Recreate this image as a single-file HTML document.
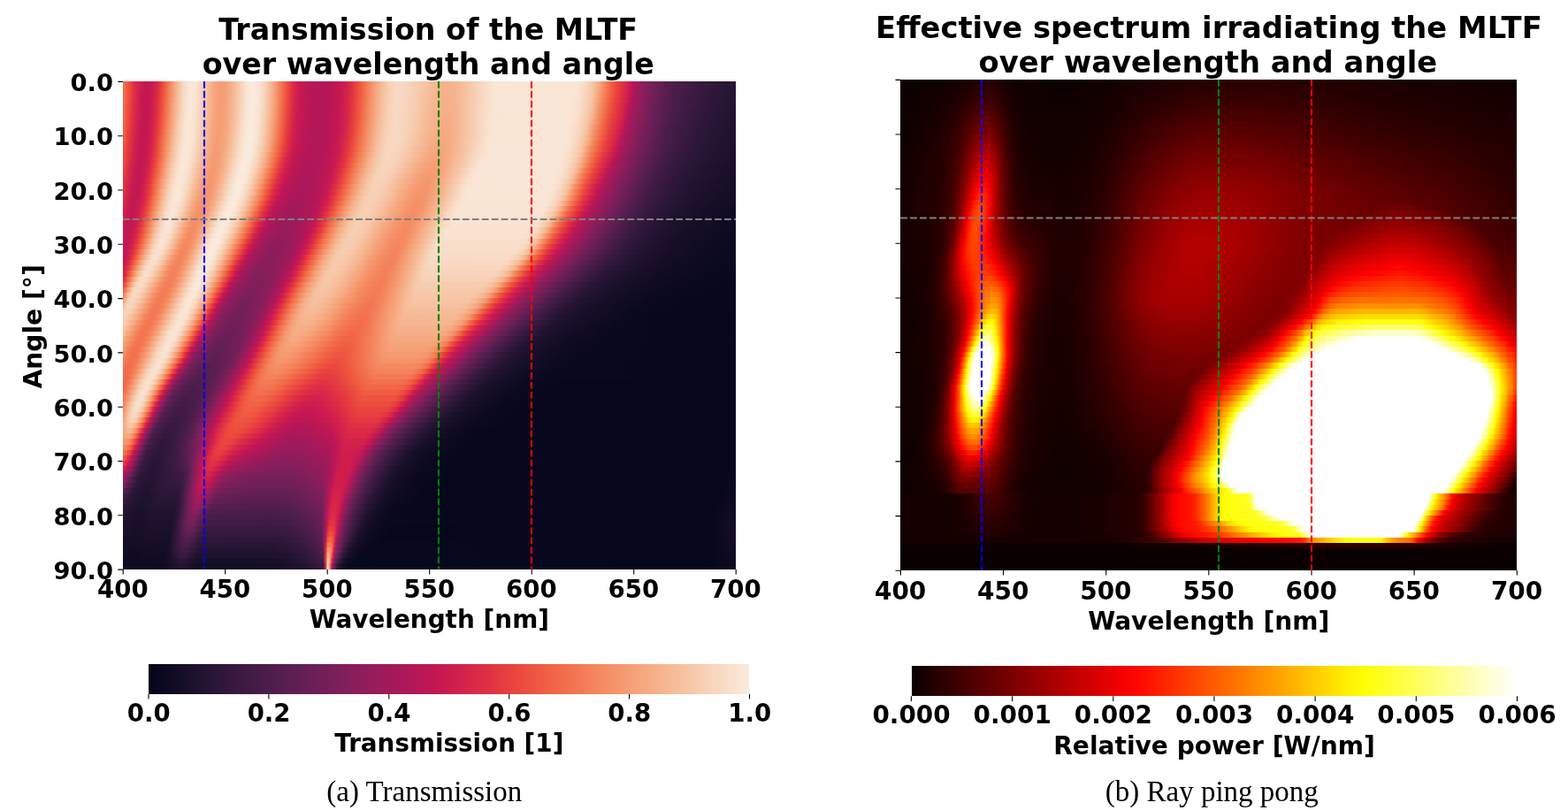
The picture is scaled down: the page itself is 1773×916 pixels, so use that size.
<!DOCTYPE html>
<html lang="en">
<head>
<meta charset="utf-8">
<title>MLTF transmission and effective spectrum</title>
<style>
html,body{margin:0;padding:0;background:#fff}
body{width:1773px;height:916px;position:relative;overflow:hidden;font-family:"DejaVu Sans","Liberation Sans",sans-serif}
.hm{position:absolute;overflow:hidden}
.r{position:absolute;left:0;width:100%}
.cb{position:absolute}
svg{position:absolute;left:0;top:0}
text{font-family:"DejaVu Sans","Liberation Sans",sans-serif;font-weight:bold;fill:#000}
.t{font-size:33.3px;text-anchor:middle}
.t2{font-size:33.8px;text-anchor:middle}
.l2{font-size:28.1px;text-anchor:middle}
.k2{font-size:27.9px;text-anchor:middle}
.l{font-size:27.8px;text-anchor:middle}
.k{font-size:27.6px;text-anchor:middle}
.ky{font-size:27.3px;text-anchor:end}
.la{font-size:28.15px;text-anchor:middle}
.c{font-family:"Liberation Serif","DejaVu Serif",serif;font-weight:normal;font-size:33px;text-anchor:middle}
</style>
</head>
<body>

<div class="hm" style="left:139px;top:0;width:693px;height:916px">
<div class="r" style="top:92px;height:6px;background:linear-gradient(90deg,#f26f4c 0.2%,#f16244 0.5%,#eb483e 1.2%,#e03143 1.8%,#d3214b 2.5%,#c51852 3.5%,#c51852 4.5%,#ca1a50 4.8%,#d72549 5.5%,#e63b40 6.1%,#ec4a3e 6.5%,#ef5a41 6.8%,#f47c55 7.5%,#f6b691 8.8%,#f7cdb1 9.5%,#f9ddc9 10.1%,#f9e3d2 10.5%,#fae8d8 11.1%,#f9e5d4 11.8%,#f8dcc7 12.5%,#f6b893 14.1%,#f6ab83 14.8%,#f6a077 15.4%,#f69c73 16.1%,#f6a178 16.8%,#f6ab83 17.4%,#f6bf9d 18.4%,#f8d6be 19.4%,#f9e2d0 20.1%,#fae9da 20.8%,#faebdd 21.4%,#f9e2d0 22.4%,#f7cdb1 23.4%,#f6a37a 24.8%,#f47a54 25.7%,#f05e42 26.4%,#ed503e 26.7%,#e9423e 27.1%,#dd2c45 27.7%,#d11f4c 28.4%,#c51852 29.1%,#b51657 31.1%,#b21758 32.1%,#b51657 33.4%,#c41753 35.4%,#cb1b4f 36%,#db2946 37%,#e9423e 38%,#ec4c3e 38.4%,#f16244 39%,#f5966c 40.7%,#f6a880 41.4%,#f6be9b 42.4%,#f7cfb3 43.4%,#f8d9c3 44.7%,#f8d4bc 46.7%,#f6b995 50.7%,#f6b38d 52%,#f6b18b 53.3%,#f6b893 54.7%,#f9ddc9 59.3%,#f9e5d4 60.6%,#fae6d6 73.6%,#f9dfcb 74.9%,#f8d7c0 75.6%,#f6c19f 76.9%,#f6ad85 77.6%,#f4865e 78.6%,#f3714d 79.2%,#ef5a41 79.9%,#ed503e 80.2%,#e73d3f 80.9%,#dc2b46 81.9%,#cf1e4d 82.6%,#c51852 82.9%,#b71657 83.2%,#a11a5b 83.9%,#8c1d5b 84.9%,#691f55 87.2%,#4c1d4b 89.9%,#381a40 93.9%,#251433 99.8%)"></div>
<div class="r" style="top:98px;height:6px;background:linear-gradient(90deg,#f26d4b 0.2%,#ee543f 0.8%,#eb483e 1.2%,#e63b40 1.5%,#d92847 2.2%,#c81951 3.2%,#c21753 3.8%,#c41753 4.2%,#d11f4c 5.1%,#df2f44 5.8%,#ec4c3e 6.5%,#f05c42 6.8%,#f26d4b 7.1%,#f58d64 7.8%,#f6b893 8.8%,#f8d6be 9.8%,#f9e3d2 10.5%,#fae8d8 11.1%,#f9e5d4 11.8%,#f7cfb3 13.1%,#f6bf9d 13.8%,#f6a981 14.8%,#f6a077 15.4%,#f69c73 16.1%,#f6a178 16.8%,#f6ab83 17.4%,#f7c9aa 18.8%,#f9e2d0 20.1%,#fae9da 20.8%,#faebdd 21.4%,#f9e2d0 22.4%,#f8d4bc 23.1%,#f6b995 24.1%,#f5966c 25.1%,#f26b49 26.1%,#ed503e 26.7%,#e9423e 27.1%,#dd2c45 27.7%,#ca1a50 28.7%,#bf1654 29.7%,#b51657 31.1%,#b21758 32.1%,#b51657 33.4%,#c41753 35.4%,#d11f4c 36.4%,#db2946 37%,#e9423e 38%,#ef5840 38.7%,#f37852 39.7%,#f6a077 41%,#f6b893 42%,#f7cfb3 43.4%,#f8d9c3 44.7%,#f8d7c0 45.7%,#f7cfb3 47.7%,#f6bb97 50.3%,#f6b18b 52.3%,#f6b18b 53.3%,#f6b893 54.7%,#f9ddc9 59.3%,#f9e5d4 60.6%,#fae6d6 73.3%,#f9e5d4 73.9%,#f8dac5 75.2%,#f8d1b8 75.9%,#f7c6a6 76.6%,#f6a981 77.6%,#f4835b 78.6%,#f16244 79.6%,#ef5840 79.9%,#ea443e 80.6%,#e23442 81.2%,#d5224a 82.2%,#c21753 82.9%,#a8185a 83.6%,#8b1d5b 84.9%,#641f54 87.5%,#4c1d4b 89.9%,#35193e 94.5%,#251433 99.8%)"></div>
<div class="r" style="top:104px;height:6px;background:linear-gradient(90deg,#f26d4b 0.2%,#f06043 0.5%,#eb463e 1.2%,#e53940 1.5%,#d82748 2.2%,#cd1c4e 2.8%,#c41753 3.5%,#c41753 4.2%,#cb1b4f 4.8%,#d92847 5.5%,#e03143 5.8%,#e83f3f 6.1%,#ed4e3e 6.5%,#f05e42 6.8%,#f47f58 7.5%,#f6ab83 8.5%,#f6b995 8.8%,#f7cfb3 9.5%,#f8d7c0 9.8%,#f9e3d2 10.5%,#fae8d8 11.1%,#f9e0cd 12.1%,#f8d4bc 12.8%,#f6be9b 13.8%,#f6a981 14.8%,#f6a077 15.4%,#f69c73 16.1%,#f6a178 16.8%,#f6ab83 17.4%,#f6b995 18.1%,#f9ddc9 19.8%,#f9e2d0 20.1%,#fae9da 20.8%,#faebdd 21.4%,#fae6d6 22.1%,#f8dac5 22.8%,#f7ccaf 23.4%,#f6ad85 24.4%,#f4865e 25.4%,#f26b49 26.1%,#ed4e3e 26.7%,#e8403e 27.1%,#dc2b46 27.7%,#ca1a50 28.7%,#b71657 30.7%,#b21758 32.1%,#b51657 33.4%,#c41753 35.4%,#d62449 36.7%,#e53940 37.7%,#ef5840 38.7%,#f4835b 40%,#f6a077 41%,#f6b893 42%,#f7caac 43%,#f8d3ba 43.7%,#f8d6be 44%,#f8d9c3 44.7%,#f8d7c0 45.7%,#f8d1b8 47%,#f6c19f 49.3%,#f6b691 51%,#f6b089 53%,#f6b18b 53.7%,#f6b893 54.7%,#f9ddc9 59.3%,#fae6d6 61%,#fae6d6 73.3%,#f9e2d0 74.3%,#f8d9c3 75.2%,#f7c4a4 76.6%,#f6b18b 77.2%,#f5976e 77.9%,#f47f58 78.6%,#f05e42 79.6%,#e8403e 80.6%,#d82748 81.9%,#ca1a50 82.6%,#bc1656 82.9%,#a4195b 83.6%,#901d5b 84.6%,#681f55 87.2%,#4e1d4b 89.5%,#431c46 91.2%,#35193e 94.2%,#241432 99.8%)"></div>
<div class="r" style="top:110px;height:6px;background:linear-gradient(90deg,#f26b49 0.2%,#ee523f 0.8%,#ea443e 1.2%,#de2e44 1.8%,#cb1b4f 2.8%,#c21753 3.8%,#c41753 4.2%,#cd1c4e 4.8%,#db2946 5.5%,#e8403e 6.1%,#ed503e 6.5%,#f16244 6.8%,#f3714d 7.1%,#f59067 7.8%,#f6bb97 8.8%,#f7d0b5 9.5%,#f9dfcb 10.1%,#f9e3d2 10.5%,#fae8d8 11.1%,#f9e3d2 11.8%,#f8dac5 12.5%,#f6b691 14.1%,#f6a981 14.8%,#f6a37a 15.1%,#f69c73 16.1%,#f6a178 16.8%,#f6ad85 17.4%,#f9e3d2 20.1%,#faebdd 20.8%,#faebdd 21.4%,#fae9da 21.8%,#f8dac5 22.8%,#f6c19f 23.8%,#f6a077 24.8%,#f4845d 25.4%,#f26948 26.1%,#ef5a41 26.4%,#ec4c3e 26.7%,#e23442 27.4%,#d5224a 28.1%,#ca1a50 28.7%,#bc1656 30.1%,#b21758 31.7%,#b51657 33.4%,#bf1654 34.7%,#c81951 35.7%,#d72549 36.7%,#ea443e 38%,#ef5a41 38.7%,#f47a54 39.7%,#f59970 40.7%,#f6b995 42%,#f7c6a6 42.7%,#f8d3ba 43.7%,#f8d6be 44%,#f8d9c3 44.7%,#f8d7c0 45.7%,#f8d1b8 47%,#f6b995 50.3%,#f6b089 52.3%,#f6b089 53.3%,#f6b893 54.7%,#f9e0cd 59.6%,#fae6d6 61%,#fae6d6 73.3%,#f9dfcb 74.6%,#f8d7c0 75.2%,#f8d3ba 75.6%,#f6c19f 76.6%,#f6ad85 77.2%,#f4865e 78.2%,#f3714d 78.9%,#ef5a41 79.6%,#eb463e 80.2%,#db2946 81.6%,#d62449 81.9%,#c41753 82.6%,#ab185a 83.2%,#931c5b 84.2%,#7f1e5a 85.5%,#661f54 87.2%,#531e4d 88.9%,#461c48 90.5%,#3a1a41 92.9%,#2b1637 96.8%,#241432 99.8%)"></div>
<div class="r" style="top:116px;height:7px;background:linear-gradient(90deg,#f26948 0.2%,#ed503e 0.8%,#e9423e 1.2%,#dd2c45 1.8%,#d72549 2.2%,#cb1b4f 2.8%,#c41753 3.5%,#c21753 3.8%,#c81951 4.5%,#d5224a 5.1%,#dc2b46 5.5%,#e9423e 6.1%,#ee523f 6.5%,#f16445 6.8%,#f4845d 7.5%,#f6a37a 8.1%,#f6bc99 8.8%,#f8d1b8 9.5%,#f9e0cd 10.1%,#f9e5d4 10.5%,#fae8d8 11.1%,#f9e3d2 11.8%,#f8d3ba 12.8%,#f6bc99 13.8%,#f6ae87 14.5%,#f6a37a 15.1%,#f69c73 15.8%,#f69c73 16.1%,#f6ad85 17.4%,#f6bb97 18.1%,#f8d1b8 19.1%,#f9dfcb 19.8%,#f9e3d2 20.1%,#faebdd 20.8%,#faebdd 21.4%,#f9e5d4 22.1%,#f8d9c3 22.8%,#f7c9aa 23.4%,#f69e75 24.8%,#f4835b 25.4%,#f26747 26.1%,#ef5840 26.4%,#e73d3f 27.1%,#db2946 27.7%,#c81951 28.7%,#b91657 30.4%,#b21758 31.7%,#b21758 32.4%,#bf1654 34.7%,#ce1d4e 36%,#dd2c45 37%,#eb463e 38%,#f05c42 38.7%,#f3734e 39.4%,#f69b71 40.7%,#f6bb97 42%,#f7ccaf 43%,#f8d6be 44%,#f8d9c3 44.7%,#f8d7c0 45.7%,#f7cdb1 47.7%,#f6bf9d 49.3%,#f6b691 50.7%,#f6b089 52%,#f6b089 53.3%,#f6b48f 54.3%,#f8d9c3 58.6%,#f9e2d0 60%,#fae6d6 61%,#fae6d6 72.9%,#f9ddc9 74.6%,#f7d0b5 75.6%,#f6be9b 76.6%,#f58d64 77.9%,#f37651 78.6%,#f06043 79.2%,#e8403e 80.2%,#d82748 81.6%,#ca1a50 82.2%,#bd1655 82.6%,#a6195a 83.2%,#971c5b 83.9%,#7b1f59 85.5%,#5c1e51 87.9%,#491d49 89.9%,#31183b 94.9%,#221331 99.8%)"></div>
<div class="r" style="top:123px;height:6px;background:linear-gradient(90deg,#f26747 0.2%,#ef5a41 0.5%,#e8403e 1.2%,#dc2b46 1.8%,#cf1e4d 2.5%,#c51852 3.2%,#c21753 3.8%,#ca1a50 4.5%,#cf1e4d 4.8%,#dd2c45 5.5%,#eb463e 6.1%,#ef5640 6.5%,#f26747 6.8%,#f5966c 7.8%,#f6b38d 8.5%,#f8d3ba 9.5%,#f8dac5 9.8%,#f9e5d4 10.5%,#fae8d8 11.1%,#f9e2d0 11.8%,#f8d1b8 12.8%,#f6bb97 13.8%,#f6ad85 14.5%,#f69e75 15.4%,#f69c73 15.8%,#f6a37a 16.8%,#f6ae87 17.4%,#f6bc99 18.1%,#f8d3ba 19.1%,#f9e5d4 20.1%,#faebdd 20.8%,#faebdd 21.4%,#f9dfcb 22.4%,#f7d0b5 23.1%,#f6be9b 23.8%,#f69b71 24.8%,#f3734e 25.7%,#f16445 26.1%,#ef5640 26.4%,#e63b40 27.1%,#d92847 27.7%,#cd1c4e 28.4%,#c81951 28.7%,#bd1655 29.7%,#b21758 31.7%,#b51657 33.1%,#c21753 35%,#ca1a50 35.7%,#d82748 36.7%,#eb483e 38%,#f05e42 38.7%,#f58a61 40%,#f6ad85 41.4%,#f7c2a2 42.4%,#f7cdb1 43%,#f8d1b8 43.4%,#f8d6be 44%,#f8d9c3 45%,#f8d4bc 46.3%,#f7cfb3 47.3%,#f6c19f 49%,#f6b38d 51%,#f6ae87 53%,#f6b48f 54.3%,#f7c4a4 56%,#f9e5d4 60.3%,#fae6d6 72.9%,#f9e2d0 73.9%,#f8dcc7 74.6%,#f7c9aa 75.9%,#f6b995 76.6%,#f6ad85 76.9%,#f4865e 77.9%,#f3714d 78.6%,#ef5a41 79.2%,#eb463e 79.9%,#db2946 81.2%,#ce1d4e 81.9%,#c41753 82.2%,#ab185a 82.9%,#8e1d5b 84.2%,#701f57 86.2%,#541e4e 88.5%,#461c48 90.2%,#35193e 93.5%,#211330 99.8%)"></div>
<div class="r" style="top:129px;height:6px;background:linear-gradient(90deg,#f16646 0.2%,#ec4a3e 0.8%,#e13342 1.5%,#d5224a 2.2%,#c51852 3.2%,#c51852 4.2%,#ca1a50 4.5%,#d72549 5.1%,#de2e44 5.5%,#eb483e 6.1%,#f26948 6.8%,#f58a61 7.5%,#f6a880 8.1%,#f6c19f 8.8%,#f8d4bc 9.5%,#f9e2d0 10.1%,#fae8d8 10.8%,#fae8d8 11.1%,#f9e2d0 11.8%,#f7d0b5 12.8%,#f6c19f 13.5%,#f6ad85 14.5%,#f6a178 15.1%,#f69c73 15.8%,#f6a077 16.4%,#f6a981 17.1%,#f6b691 17.8%,#f8d4bc 19.1%,#f9e5d4 20.1%,#faebdd 20.8%,#faebdd 21.4%,#f9e3d2 22.1%,#f9ddc9 22.4%,#f7cfb3 23.1%,#f6bc99 23.8%,#f59970 24.8%,#f47d57 25.4%,#f16244 26.1%,#ee523f 26.4%,#ea443e 26.7%,#de2e44 27.4%,#cb1b4f 28.4%,#ba1656 30.1%,#b21758 31.7%,#b51657 33.1%,#c41753 35%,#cf1e4d 36%,#d92847 36.7%,#e8403e 37.7%,#ef5640 38.4%,#f37651 39.4%,#f5966c 40.4%,#f6be9b 42%,#f7cfb3 43%,#f8d9c3 44.4%,#f8d1b8 46.7%,#f6b691 50.3%,#f6b089 51.3%,#f6ad85 52.7%,#f6ae87 53.3%,#f6b48f 54.3%,#f9dfcb 59.3%,#f9e5d4 60.3%,#fae6d6 72.6%,#f9e5d4 73.3%,#f8dac5 74.6%,#f7c6a6 75.9%,#f6b38d 76.6%,#f58d64 77.6%,#f37651 78.2%,#f06043 78.9%,#ee543f 79.2%,#e8403e 79.9%,#dd2c45 80.9%,#d11f4c 81.6%,#bc1656 82.2%,#a6195a 82.9%,#8c1d5b 84.2%,#691f55 86.5%,#491d49 89.5%,#35193e 93.2%,#221331 98.8%,#211330 99.8%)"></div>
<div class="r" style="top:135px;height:6px;background:linear-gradient(90deg,#f16445 0.2%,#eb483e 0.8%,#e03143 1.5%,#d3214b 2.2%,#c81951 2.8%,#c21753 3.5%,#cb1b4f 4.5%,#d82748 5.1%,#e03143 5.5%,#ec4c3e 6.1%,#f05e42 6.5%,#f26d4b 6.8%,#f58d64 7.5%,#f6b893 8.5%,#f7c4a4 8.8%,#f8d6be 9.5%,#f9e3d2 10.1%,#fae8d8 10.8%,#f9e5d4 11.5%,#f7cfb3 12.8%,#f6bf9d 13.5%,#f6ab83 14.5%,#f6a47c 14.8%,#f69c73 15.8%,#f6a47c 16.8%,#f6ab83 17.1%,#f6b893 17.8%,#f9e2d0 19.8%,#fae9da 20.4%,#faebdd 21.1%,#f9e2d0 22.1%,#f7cdb1 23.1%,#f7c4a4 23.4%,#f6a37a 24.4%,#f58860 25.1%,#f47c55 25.4%,#f05e42 26.1%,#ed503e 26.4%,#e33641 27.1%,#d62449 27.7%,#c51852 28.7%,#b51657 30.7%,#b21758 31.7%,#b51657 33.1%,#c41753 35%,#d11f4c 36%,#db2946 36.7%,#e9423e 37.7%,#ef5840 38.4%,#f26f4c 39%,#f58d64 40%,#f6a178 40.7%,#f6b995 41.7%,#f7c6a6 42.4%,#f8d6be 43.7%,#f8d9c3 44.7%,#f8d3ba 46.3%,#f6b48f 50.3%,#f6ad85 52%,#f6ad85 53%,#f6b18b 54%,#f7c9aa 56.6%,#f8dac5 58.6%,#f9e2d0 59.6%,#fae6d6 60.6%,#fae6d6 72.6%,#f9e2d0 73.6%,#f8dcc7 74.3%,#f7c9aa 75.6%,#f6ad85 76.6%,#f4865e 77.6%,#f26f4c 78.2%,#ef5840 78.9%,#e63b40 79.9%,#d92847 80.9%,#cd1c4e 81.6%,#c11754 81.9%,#aa185a 82.6%,#9a1b5b 83.2%,#8e1d5b 83.9%,#631f53 86.9%,#4b1d4a 89.2%,#401b44 90.9%,#2b1637 95.5%,#20122e 99.8%)"></div>
<div class="r" style="top:141px;height:6px;background:linear-gradient(90deg,#f06043 0.2%,#eb463e 0.8%,#df2f44 1.5%,#d2204c 2.2%,#c71951 2.8%,#c21753 3.5%,#c71951 4.2%,#d3214b 4.8%,#e13342 5.5%,#ed503e 6.1%,#f16244 6.5%,#f3714d 6.8%,#f59067 7.5%,#f6bb97 8.5%,#f7d0b5 9.1%,#f9dfcb 9.8%,#f9e3d2 10.1%,#fae8d8 10.8%,#f9e3d2 11.5%,#f8dac5 12.1%,#f6be9b 13.5%,#f6a981 14.5%,#f6a077 15.1%,#f69c73 15.8%,#f6a178 16.4%,#f6ab83 17.1%,#f6b995 17.8%,#f9ddc9 19.4%,#f9e2d0 19.8%,#fae9da 20.4%,#faebdd 21.1%,#fae6d6 21.8%,#f8dac5 22.4%,#f6c19f 23.4%,#f6a077 24.4%,#f59269 24.8%,#f26948 25.7%,#ef5a41 26.1%,#ec4c3e 26.4%,#e23442 27.1%,#d5224a 27.7%,#ca1a50 28.4%,#bc1656 29.7%,#b21758 31.4%,#b21758 32.1%,#bf1654 34.4%,#c81951 35.4%,#d72549 36.4%,#e73d3f 37.4%,#ed503e 38%,#f26747 38.7%,#f4865e 39.7%,#f69b71 40.4%,#f6bb97 41.7%,#f7ccaf 42.7%,#f8d4bc 43.4%,#f8d6be 43.7%,#f8d9c3 44.7%,#f8d4bc 46%,#f7ccaf 47.3%,#f6b38d 50.3%,#f6ab83 52%,#f6ab83 52.7%,#f6b18b 54%,#f9e0cd 59.3%,#fae6d6 60.6%,#fae6d6 72.3%,#f9e5d4 72.9%,#f8dac5 74.3%,#f7c4a4 75.6%,#f6b18b 76.2%,#f5976e 76.9%,#f47f58 77.6%,#f26747 78.2%,#f05e42 78.6%,#eb483e 79.2%,#e33641 79.9%,#d62449 80.9%,#c51852 81.6%,#b91657 81.9%,#a4195b 82.6%,#8b1d5b 83.9%,#641f54 86.5%,#4e1d4b 88.5%,#401b44 90.5%,#2b1637 95.2%,#20122e 99.8%)"></div>
<div class="r" style="top:147px;height:6px;background:linear-gradient(90deg,#f05e42 0.2%,#e9423e 0.8%,#dd2c45 1.5%,#d11f4c 2.2%,#c71951 2.8%,#c21753 3.5%,#c81951 4.2%,#d5224a 4.8%,#dc2b46 5.1%,#ea443e 5.8%,#ee543f 6.1%,#f16646 6.5%,#f5966c 7.5%,#f6a37a 7.8%,#f6be9b 8.5%,#f8dac5 9.5%,#f9e5d4 10.1%,#fae8d8 10.5%,#fae6d6 11.1%,#f8d9c3 12.1%,#f6b48f 13.8%,#f6ae87 14.1%,#f6a37a 14.8%,#f69c73 15.8%,#f69e75 16.1%,#f6ad85 17.1%,#f6bb97 17.8%,#f8d1b8 18.8%,#f9e3d2 19.8%,#faebdd 20.4%,#faebdd 21.1%,#f9e5d4 21.8%,#f8d9c3 22.4%,#f7c9aa 23.1%,#f6a981 24.1%,#f58f66 24.8%,#f16646 25.7%,#ef5840 26.1%,#e63b40 26.7%,#e03143 27.1%,#d3214b 27.7%,#c81951 28.4%,#bd1655 29.4%,#b21758 31.4%,#b51657 32.7%,#c21753 34.7%,#ce1d4e 35.7%,#d82748 36.4%,#e33641 37%,#eb483e 37.7%,#f06043 38.4%,#f47f58 39.4%,#f5946b 40%,#f6b691 41.4%,#f7c9aa 42.4%,#f8d1b8 43%,#f8d9c3 44%,#f8d1b8 46.3%,#f6b691 49.7%,#f6ae87 51%,#f6a981 52.3%,#f6ae87 53.7%,#f9e5d4 60%,#fae6d6 72.3%,#f9e2d0 73.3%,#f8dcc7 73.9%,#f8d3ba 74.6%,#f6c19f 75.6%,#f6ab83 76.2%,#f4835b 77.2%,#f16244 78.2%,#ec4c3e 78.9%,#e8403e 79.2%,#dd2c45 80.2%,#d11f4c 80.9%,#bd1655 81.6%,#a8185a 82.2%,#931c5b 83.2%,#6b1f56 85.9%,#4c1d4b 88.5%,#3d1a42 90.9%,#2b1637 94.9%,#1e122d 99.8%)"></div>
<div class="r" style="top:153px;height:6px;background:linear-gradient(90deg,#ef5a41 0.2%,#e8403e 0.8%,#e23442 1.2%,#cf1e4d 2.2%,#c51852 2.8%,#c41753 3.2%,#c51852 3.8%,#ca1a50 4.2%,#d62449 4.8%,#de2e44 5.1%,#eb483e 5.8%,#ef5840 6.1%,#f47a54 6.8%,#f6a880 7.8%,#f7ccaf 8.8%,#f8dcc7 9.5%,#f9e2d0 9.8%,#fae8d8 10.5%,#fae8d8 10.8%,#f9e2d0 11.5%,#f8d7c0 12.1%,#f6ad85 14.1%,#f6a67e 14.5%,#f69c73 15.4%,#f6a37a 16.4%,#f6ae87 17.1%,#f6bc99 17.8%,#f8dac5 19.1%,#f9e5d4 19.8%,#faebdd 20.4%,#faebdd 21.1%,#f9e3d2 21.8%,#f8d7c0 22.4%,#f6bc99 23.4%,#f6a67e 24.1%,#f47d57 25.1%,#f16244 25.7%,#ee523f 26.1%,#ea443e 26.4%,#de2e44 27.1%,#d11f4c 27.7%,#cb1b4f 28.1%,#c21753 28.7%,#ba1656 29.7%,#b21758 31.4%,#b51657 32.7%,#bd1655 34.1%,#c41753 34.7%,#d5224a 36%,#df2f44 36.7%,#e9423e 37.4%,#ef5840 38%,#f37852 39%,#f5976e 40%,#f6b18b 41%,#f7c6a6 42%,#f8d3ba 43%,#f8d6be 43.4%,#f8d9c3 44.4%,#f8d4bc 45.7%,#f7ccaf 47%,#f6bf9d 48.3%,#f6b18b 50%,#f6a981 51.7%,#f6a981 52.7%,#f6ae87 53.7%,#f9e2d0 59.3%,#fae6d6 60.3%,#fae6d6 71.9%,#f9e5d4 72.6%,#f9ddc9 73.6%,#f7d0b5 74.6%,#f7c4a4 75.2%,#f6b089 75.9%,#f5946b 76.6%,#f58860 76.9%,#f3714d 77.6%,#ef5a41 78.2%,#ed4e3e 78.6%,#e63b40 79.2%,#d3214b 80.6%,#c11754 81.2%,#ab185a 81.9%,#951c5b 82.9%,#711f57 85.2%,#541e4e 87.5%,#4b1d4a 88.5%,#381a40 91.5%,#2b1637 94.5%,#1e122d 99.8%)"></div>
<div class="r" style="top:159px;height:6px;background:linear-gradient(90deg,#ef5840 0.2%,#e73d3f 0.8%,#d3214b 1.8%,#c81951 2.5%,#c21753 3.2%,#cb1b4f 4.2%,#d11f4c 4.5%,#e03143 5.1%,#ec4c3e 5.8%,#f05e42 6.1%,#f47d57 6.8%,#f58f66 7.1%,#f69c73 7.5%,#f6b893 8.1%,#f7cfb3 8.8%,#f9e3d2 9.8%,#fae8d8 10.5%,#f9e0cd 11.5%,#f7cfb3 12.5%,#f6b893 13.5%,#f6ab83 14.1%,#f6a47c 14.5%,#f69c73 15.4%,#f6a077 16.1%,#f6a981 16.8%,#f6bf9d 17.8%,#f7cfb3 18.4%,#f9e2d0 19.4%,#fae9da 20.1%,#faebdd 20.8%,#f9e2d0 21.8%,#f7ccaf 22.8%,#f6ad85 23.8%,#f37852 25.1%,#f05c42 25.7%,#ed4e3e 26.1%,#e23442 26.7%,#d5224a 27.4%,#ca1a50 28.1%,#bc1656 29.4%,#b21758 31.1%,#b51657 32.7%,#bf1654 34.1%,#c81951 35%,#d72549 36%,#e13342 36.7%,#e73d3f 37%,#ed503e 37.7%,#f3734e 38.7%,#f6ad85 40.7%,#f7c2a2 41.7%,#f7cdb1 42.4%,#f8d1b8 42.7%,#f8d6be 43.4%,#f8d7c0 44.7%,#f8d3ba 45.7%,#f6ad85 50.3%,#f6a880 51.3%,#f6a880 52.7%,#f6b18b 54%,#f7c6a6 56%,#f7caac 56.6%,#f8d1b8 57.3%,#f9e5d4 59.6%,#fae6d6 71.9%,#f9e2d0 72.9%,#f9dfcb 73.3%,#f8d1b8 74.3%,#f7c6a6 74.9%,#f6b38d 75.6%,#f58b63 76.6%,#f3734e 77.2%,#f05c42 77.9%,#ed503e 78.2%,#e73d3f 78.9%,#cd1c4e 80.6%,#c21753 80.9%,#a4195b 81.9%,#971c5b 82.6%,#7d1f5a 84.2%,#691f55 85.5%,#4e1d4b 87.9%,#381a40 91.2%,#2b1637 94.2%,#1d112c 99.8%)"></div>
<div class="r" style="top:165px;height:7px;background:linear-gradient(90deg,#ee543f 0.2%,#e53940 0.8%,#d2204c 1.8%,#c71951 2.5%,#c21753 3.2%,#c71951 3.8%,#cd1c4e 4.2%,#db2946 4.8%,#e23442 5.1%,#e9423e 5.5%,#f16244 6.1%,#f4835b 6.8%,#f5946b 7.1%,#f6a178 7.5%,#f6bc99 8.1%,#f8d1b8 8.8%,#f8d9c3 9.1%,#f9e0cd 9.5%,#fae8d8 10.1%,#f9e3d2 11.1%,#f8d9c3 11.8%,#f6ae87 13.8%,#f69e75 14.8%,#f69c73 15.1%,#f6a178 16.1%,#f6ad85 16.8%,#f6b38d 17.1%,#f9dfcb 19.1%,#fae8d8 19.8%,#faebdd 20.1%,#faebdd 20.8%,#f9e5d4 21.4%,#f7d0b5 22.4%,#f6be9b 23.1%,#f6a880 23.8%,#f58d64 24.4%,#f3714d 25.1%,#ee543f 25.7%,#e53940 26.4%,#d2204c 27.4%,#cb1b4f 27.7%,#bf1654 28.7%,#b21758 30.7%,#b21758 31.7%,#ba1656 33.4%,#ca1a50 35%,#d5224a 35.7%,#df2f44 36.4%,#e8403e 37%,#ef5640 37.7%,#f37852 38.7%,#f6a981 40.4%,#f7c6a6 41.7%,#f8d3ba 42.7%,#f8d6be 43%,#f8d7c0 44%,#f8d3ba 45.3%,#f6ae87 49.7%,#f6a981 50.3%,#f6a47c 52%,#f6a981 53%,#f6b995 54.7%,#f8d6be 57.6%,#f8dac5 58%,#f9e2d0 59%,#fae6d6 60%,#fae6d6 71.6%,#f9e2d0 72.6%,#f8dcc7 73.3%,#f8d3ba 73.9%,#f7c7a8 74.6%,#f6b691 75.2%,#f58d64 76.2%,#f37450 76.9%,#f05e42 77.6%,#e73d3f 78.6%,#d5224a 79.9%,#c21753 80.6%,#ad1759 81.2%,#8c1d5b 82.9%,#611f53 85.9%,#461c48 88.5%,#31183b 92.2%,#281535 94.5%,#1b112b 99.8%)"></div>
<div class="r" style="top:172px;height:6px;background:linear-gradient(90deg,#ed4e3e 0.2%,#e9423e 0.5%,#dd2c45 1.2%,#cf1e4d 1.8%,#c51852 2.5%,#c21753 3.2%,#c81951 3.8%,#cf1e4d 4.2%,#dd2c45 4.8%,#eb463e 5.5%,#ef5840 5.8%,#f26948 6.1%,#f58a61 6.8%,#f6a880 7.5%,#f6c19f 8.1%,#f7ccaf 8.5%,#f8dcc7 9.1%,#fae6d6 9.8%,#fae8d8 10.1%,#f9e5d4 10.8%,#f8dcc7 11.5%,#f6bf9d 12.8%,#f6ab83 13.8%,#f69c73 14.8%,#f69b71 15.1%,#f69e75 15.8%,#f6a880 16.4%,#f6be9b 17.4%,#f8dcc7 18.8%,#fae6d6 19.4%,#faebdd 20.1%,#faebdd 20.4%,#fae6d6 21.1%,#f9e2d0 21.4%,#f8d4bc 22.1%,#f6b893 23.1%,#f59269 24.1%,#f37651 24.8%,#ef5a41 25.4%,#e73d3f 26.1%,#d3214b 27.1%,#c81951 27.7%,#bd1655 28.7%,#b51657 29.7%,#b01759 31.4%,#bd1655 33.7%,#c81951 34.7%,#d2204c 35.4%,#dd2c45 36%,#e73d3f 36.7%,#ee523f 37.4%,#f26948 38%,#f47f58 38.7%,#f5946b 39.4%,#f6b691 40.7%,#f7c4a4 41.4%,#f8d1b8 42.4%,#f8d6be 43%,#f8d7c0 43.4%,#f8d1b8 45%,#f7c9aa 46.3%,#f6ad85 49.3%,#f6a47c 50.7%,#f6a37a 51.7%,#f6a47c 52.3%,#f6ad85 53.3%,#f7cfb3 56.6%,#f9ddc9 58%,#fae6d6 59.6%,#fae6d6 71.6%,#f9ddc9 72.9%,#f8d4bc 73.6%,#f7c9aa 74.3%,#f6b893 74.9%,#f58f66 75.9%,#f26948 76.9%,#f05e42 77.2%,#ee523f 77.6%,#e73d3f 78.2%,#cd1c4e 79.9%,#c21753 80.2%,#ad1759 80.9%,#8c1d5b 82.6%,#611f53 85.5%,#461c48 88.2%,#35193e 90.9%,#2b1637 93.2%,#1a102a 99.8%)"></div>
<div class="r" style="top:178px;height:6px;background:linear-gradient(90deg,#ec4a3e 0.2%,#db2946 1.2%,#c81951 2.2%,#c21753 2.8%,#c71951 3.5%,#d11f4c 4.2%,#e03143 4.8%,#e73d3f 5.1%,#ed4e3e 5.5%,#f05e42 5.8%,#f47f58 6.5%,#f6a077 7.1%,#f6ad85 7.5%,#f6bb97 7.8%,#f8d9c3 8.8%,#f9e5d4 9.5%,#fae8d8 9.8%,#f9e3d2 10.8%,#f8d9c3 11.5%,#f6ad85 13.5%,#f6a178 14.1%,#f69b71 14.8%,#f69c73 15.4%,#f6ab83 16.4%,#f8d9c3 18.4%,#f9e5d4 19.1%,#faebdd 19.8%,#faebdd 20.4%,#fae8d8 20.8%,#f9ddc9 21.4%,#f7c6a6 22.4%,#f6b089 23.1%,#f58a61 24.1%,#f05e42 25.1%,#e8403e 25.7%,#d5224a 26.7%,#c81951 27.4%,#bd1655 28.4%,#b01759 30.4%,#b01759 31.4%,#bc1656 33.4%,#cb1b4f 34.7%,#d5224a 35.4%,#db2946 35.7%,#e53940 36.4%,#ed4e3e 37%,#f16646 37.7%,#f3714d 38%,#f6ad85 40%,#f7c2a2 41%,#f8d3ba 42.4%,#f8d6be 43%,#f8d3ba 44.4%,#f7caac 45.7%,#f6ab83 49%,#f6a178 50.7%,#f6a178 51.7%,#f6a47c 52.3%,#f6ab83 53%,#f7c2a2 55%,#f7cfb3 56.3%,#f8dac5 57.3%,#f9e5d4 58.6%,#fae6d6 71.3%,#f9e3d2 71.9%,#f8dac5 72.9%,#f7caac 73.9%,#f6b995 74.6%,#f69e75 75.2%,#f4835b 75.9%,#f26948 76.6%,#f05e42 76.9%,#eb463e 77.6%,#e23442 78.2%,#d2204c 79.2%,#c11754 79.9%,#b51657 80.2%,#a4195b 80.9%,#8c1d5b 82.2%,#611f53 85.2%,#4b1d4a 87.2%,#381a40 89.9%,#281535 93.5%,#1a102a 99.8%)"></div>
<div class="r" style="top:184px;height:6px;background:linear-gradient(90deg,#ea443e 0.2%,#d82748 1.2%,#d2204c 1.5%,#c71951 2.2%,#c21753 2.8%,#c81951 3.5%,#d3214b 4.2%,#e33641 4.8%,#ea443e 5.1%,#ee543f 5.5%,#f16646 5.8%,#f4865e 6.5%,#f6a67e 7.1%,#f7caac 8.1%,#f8d4bc 8.5%,#f9e2d0 9.1%,#fae8d8 9.8%,#f9e5d4 10.5%,#f8dcc7 11.1%,#f6a880 13.5%,#f69b71 14.5%,#f59970 14.8%,#f6a178 15.8%,#f6ae87 16.4%,#f6be9b 17.1%,#f8d6be 18.1%,#f9e2d0 18.8%,#faebdd 19.4%,#fae9da 20.4%,#f8d9c3 21.4%,#f7c9aa 22.1%,#f6a880 23.1%,#f58d64 23.8%,#f16244 24.8%,#ee523f 25.1%,#ea443e 25.4%,#dd2c45 26.1%,#d62449 26.4%,#c41753 27.4%,#bd1655 28.1%,#b01759 30.1%,#b01759 31.4%,#bd1655 33.4%,#c81951 34.4%,#d3214b 35%,#de2e44 35.7%,#e8403e 36.4%,#ef5840 37%,#f47a54 38%,#f6a37a 39.4%,#f6bb97 40.4%,#f7ccaf 41.4%,#f8d4bc 42.4%,#f8d4bc 43.4%,#f8d1b8 44%,#f7ccaf 45%,#f6ab83 48.3%,#f6a178 49.7%,#f69e75 51%,#f6a37a 52%,#f6a981 52.7%,#f6bb97 54%,#f7c7a8 55.3%,#f8dac5 57%,#f9e3d2 58%,#fae6d6 58.6%,#fae6d6 70.9%,#f9e2d0 71.9%,#f9dfcb 72.3%,#f8d6be 72.9%,#f7c2a2 73.9%,#f6ad85 74.6%,#f69e75 74.9%,#f4835b 75.6%,#f26948 76.2%,#f05e42 76.6%,#ed503e 76.9%,#e63b40 77.6%,#d11f4c 78.9%,#bd1655 79.6%,#a4195b 80.6%,#7b1f59 82.9%,#541e4e 85.9%,#481c48 87.2%,#381a40 89.5%,#2b1637 92.2%,#221331 94.9%,#180f29 99.8%)"></div>
<div class="r" style="top:190px;height:6px;background:linear-gradient(90deg,#e8403e 0.2%,#dc2b46 0.8%,#ca1a50 1.8%,#c51852 2.2%,#c21753 2.8%,#cf1e4d 3.8%,#de2e44 4.5%,#ec4a3e 5.1%,#f05c42 5.5%,#f47d57 6.1%,#f6ad85 7.1%,#f7c6a6 7.8%,#f8d9c3 8.5%,#f9e5d4 9.1%,#fae8d8 9.5%,#fae6d6 10.1%,#f9e2d0 10.5%,#f8d7c0 11.1%,#f6c19f 12.1%,#f6ab83 13.1%,#f69e75 13.8%,#f59970 14.5%,#f69b71 15.1%,#f6ab83 16.1%,#f8dac5 18.1%,#fae6d6 18.8%,#faebdd 19.4%,#faebdd 19.8%,#fae6d6 20.4%,#f8d3ba 21.4%,#f6b691 22.4%,#f69c73 23.1%,#f3734e 24.1%,#ee543f 24.8%,#e53940 25.4%,#d72549 26.1%,#ca1a50 26.7%,#bd1655 27.7%,#b01759 29.4%,#af1759 31.1%,#bc1656 33.1%,#c71951 34.1%,#d2204c 34.7%,#dd2c45 35.4%,#e83f3f 36%,#ef5640 36.7%,#f37852 37.7%,#f6a178 39%,#f6b995 40%,#f7cfb3 41.4%,#f8d3ba 42%,#f8d3ba 43%,#f7cfb3 44%,#f6a37a 48.7%,#f69c73 50%,#f69c73 51%,#f6a47c 52%,#f6ad85 52.7%,#f7ccaf 55.3%,#f8dcc7 56.6%,#f9e2d0 57.3%,#fae6d6 58.3%,#fae6d6 70.6%,#f9e2d0 71.6%,#f9dfcb 71.9%,#f8d6be 72.6%,#f7c4a4 73.6%,#f6ad85 74.3%,#f58f66 74.9%,#f26747 75.9%,#ed4e3e 76.6%,#ea443e 76.9%,#e03143 77.6%,#d62449 78.2%,#c51852 78.9%,#aa185a 79.9%,#951c5b 80.9%,#7b1f59 82.6%,#541e4e 85.5%,#451c47 87.2%,#35193e 89.5%,#281535 92.5%,#170f28 99.8%)"></div>
<div class="r" style="top:196px;height:6px;background:linear-gradient(90deg,#e63b40 0.2%,#d3214b 1.2%,#c81951 1.8%,#c21753 2.5%,#c71951 3.2%,#d2204c 3.8%,#d92847 4.2%,#e9423e 4.8%,#ee523f 5.1%,#f16445 5.5%,#f5966c 6.5%,#f7ccaf 7.8%,#f9e3d2 8.8%,#fae8d8 9.5%,#f9e3d2 10.1%,#f8dac5 10.8%,#f6b38d 12.5%,#f6a47c 13.1%,#f5976e 14.1%,#f59970 14.8%,#f6a178 15.4%,#f6b893 16.4%,#f8d9c3 17.8%,#fae9da 18.8%,#faebdd 19.4%,#fae6d6 20.1%,#f9e2d0 20.4%,#f8d4bc 21.1%,#f6b893 22.1%,#f6ab83 22.4%,#f59269 23.1%,#f16646 24.1%,#ef5640 24.4%,#eb483e 24.8%,#e53940 25.1%,#d72549 25.7%,#ca1a50 26.4%,#bf1654 27.1%,#b01759 29.1%,#ad1759 30.4%,#b01759 31.4%,#bd1655 33.1%,#c51852 33.7%,#d11f4c 34.4%,#dc2b46 35%,#e73d3f 35.7%,#ee543f 36.4%,#f26b49 37%,#f4835b 37.7%,#f6a178 38.7%,#f6b995 39.7%,#f7c6a6 40.4%,#f7cfb3 41%,#f8d3ba 41.7%,#f8d3ba 42.4%,#f7cdb1 43.7%,#f6a37a 48%,#f69b71 49.3%,#f59970 50.3%,#f69c73 51%,#f6a880 52%,#f7c4a4 54.3%,#f9ddc9 56.3%,#f9e3d2 57%,#fae6d6 57.6%,#fae6d6 70.3%,#f9e2d0 71.3%,#f8dcc7 71.9%,#f8d1b8 72.6%,#f7c2a2 73.3%,#f6ad85 73.9%,#f58d64 74.6%,#f47f58 74.9%,#f16646 75.6%,#ec4c3e 76.2%,#e8403e 76.6%,#d3214b 77.9%,#c41753 78.6%,#a8185a 79.6%,#891e5b 81.2%,#5b1e51 84.6%,#461c48 86.5%,#381a40 88.5%,#281535 91.9%,#160e27 99.8%)"></div>
<div class="r" style="top:202px;height:6px;background:linear-gradient(90deg,#e33641 0.2%,#dd2c45 0.5%,#d11f4c 1.2%,#c41753 2.2%,#c41753 2.8%,#ce1d4e 3.5%,#d62449 3.8%,#e53940 4.5%,#eb483e 4.8%,#ef5a41 5.1%,#f47d57 5.8%,#f58f66 6.1%,#f6bb97 7.1%,#f8d9c3 8.1%,#f9e0cd 8.5%,#fae8d8 9.1%,#fae8d8 9.5%,#f9e2d0 10.1%,#f7cfb3 11.1%,#f6be9b 11.8%,#f6a67e 12.8%,#f69b71 13.5%,#f5966c 14.1%,#f69b71 14.8%,#f6ad85 15.8%,#f7cfb3 17.1%,#f9e3d2 18.1%,#faebdd 18.8%,#faebdd 19.4%,#fae8d8 19.8%,#f9e3d2 20.1%,#f8d6be 20.8%,#f6b995 21.8%,#f5946b 22.8%,#f37651 23.4%,#ef5840 24.1%,#eb483e 24.4%,#df2f44 25.1%,#ca1a50 26.1%,#bf1654 26.7%,#b01759 28.4%,#ab185a 30.1%,#b91657 32.4%,#c41753 33.4%,#ce1d4e 34.1%,#e03143 35%,#eb463e 35.7%,#f05e42 36.4%,#f58b63 37.7%,#f6a981 38.7%,#f7c6a6 40%,#f7d0b5 41%,#f8d1b8 42%,#f7ccaf 43.4%,#f6b48f 45.7%,#f6a178 47.7%,#f5976e 49.3%,#f5976e 50%,#f6a37a 51.3%,#f6b089 52.3%,#f7c9aa 54.3%,#f9e2d0 56.3%,#fae6d6 57.3%,#fae6d6 69.9%,#f9e5d4 70.6%,#f8dcc7 71.6%,#f7c2a2 72.9%,#f6b995 73.3%,#f58b63 74.3%,#f3714d 74.9%,#f16445 75.2%,#ec4a3e 75.9%,#e33641 76.6%,#d2204c 77.6%,#c11754 78.2%,#a6195a 79.2%,#981b5b 79.9%,#7f1e5a 81.6%,#5e1f52 83.9%,#431c46 86.5%,#35193e 88.5%,#251433 92.2%,#180f29 97.5%,#160e27 99.8%)"></div>
<div class="r" style="top:208px;height:6px;background:linear-gradient(90deg,#e13342 0.2%,#d5224a 0.8%,#c51852 1.8%,#c51852 2.8%,#d2204c 3.5%,#d92847 3.8%,#e8403e 4.5%,#ee523f 4.8%,#f16445 5.1%,#f4865e 5.8%,#f6a67e 6.5%,#f6c19f 7.1%,#f8d6be 7.8%,#f9ddc9 8.1%,#f9e3d2 8.5%,#fae8d8 9.1%,#f9e3d2 9.8%,#f8d7c0 10.5%,#f7c9aa 11.1%,#f6b893 11.8%,#f6a178 12.8%,#f69b71 13.1%,#f5966c 13.8%,#f5976e 14.5%,#f6a37a 15.1%,#f6bb97 16.1%,#f7cdb1 16.8%,#f8dcc7 17.4%,#faebdd 18.4%,#faebdd 19.1%,#fae8d8 19.4%,#f8d7c0 20.4%,#f7c6a6 21.1%,#f6a37a 22.1%,#f4865e 22.8%,#f26948 23.4%,#ef5a41 23.8%,#ec4a3e 24.1%,#df2f44 24.8%,#ca1a50 25.7%,#bd1655 26.4%,#ab185a 28.7%,#ab185a 30.1%,#bd1655 32.7%,#cd1c4e 33.7%,#df2f44 34.7%,#ea443e 35.4%,#ed503e 35.7%,#f05e42 36%,#f37450 36.7%,#f5966c 37.7%,#f6b18b 38.7%,#f7caac 40%,#f7d0b5 40.7%,#f8d1b8 41.4%,#f7cfb3 42.4%,#f6b893 45%,#f6a178 47%,#f5976e 48.3%,#f5966c 49.7%,#f6a178 51%,#f6c19f 53.3%,#f8dcc7 55.3%,#f9e5d4 56.3%,#fae6d6 69.9%,#f8dcc7 71.3%,#f7c2a2 72.6%,#f6b893 72.9%,#f58a61 73.9%,#f47c55 74.3%,#f16244 74.9%,#eb483e 75.6%,#e23442 76.2%,#cf1e4d 77.2%,#bd1655 77.9%,#a4195b 78.9%,#7d1f5a 81.2%,#511e4d 84.6%,#401b44 86.5%,#31183b 88.9%,#221331 92.5%,#140e26 99.8%)"></div>
<div class="r" style="top:214px;height:7px;background:linear-gradient(90deg,#de2e44 0.2%,#cb1b4f 1.2%,#c21753 2.2%,#c81951 2.8%,#d5224a 3.5%,#e53940 4.2%,#eb483e 4.5%,#ef5a41 4.8%,#f47d57 5.5%,#f6a077 6.1%,#f7c7a8 7.1%,#f8d1b8 7.5%,#f9e2d0 8.1%,#fae8d8 8.8%,#f9e5d4 9.5%,#f9e0cd 9.8%,#f7ccaf 10.8%,#f6b18b 11.8%,#f6a178 12.5%,#f5946b 13.5%,#f5966c 14.1%,#f6a077 14.8%,#f6b089 15.4%,#f6c19f 16.1%,#f8d3ba 16.8%,#fae6d6 17.8%,#faebdd 18.4%,#faebdd 18.8%,#f9e5d4 19.4%,#f7d0b5 20.4%,#f6bc99 21.1%,#f6a47c 21.8%,#f58860 22.4%,#f26948 23.1%,#ef5a41 23.4%,#ec4a3e 23.8%,#df2f44 24.4%,#d11f4c 25.1%,#bd1655 26.1%,#b01759 27.4%,#aa185a 28.7%,#aa185a 29.7%,#b51657 31.7%,#bc1656 32.4%,#cb1b4f 33.4%,#de2e44 34.4%,#e9423e 35%,#f05c42 35.7%,#f26747 36%,#f47f58 36.7%,#f5966c 37.4%,#f6b18b 38.4%,#f6bf9d 39%,#f7d0b5 40.4%,#f7d0b5 41.4%,#f7ccaf 42.4%,#f6c19f 43.7%,#f6b18b 45%,#f69c73 47%,#f5966c 48%,#f5946b 49.3%,#f5966c 49.7%,#f6a178 50.7%,#f6c19f 53%,#f9e0cd 55.3%,#fae6d6 56.3%,#fae6d6 69.3%,#f9e5d4 69.9%,#f8dac5 70.9%,#f7d0b5 71.6%,#f6c19f 72.3%,#f6a880 72.9%,#f58860 73.6%,#f47a54 73.9%,#f06043 74.6%,#ee523f 74.9%,#e63b40 75.6%,#d5224a 76.6%,#c51852 77.2%,#ab185a 78.2%,#8c1d5b 79.9%,#7d1f5a 80.9%,#5c1e51 83.2%,#421b45 85.9%,#34193d 87.9%,#251433 91.2%,#1b112b 94.9%,#130d25 99.8%)"></div>
<div class="r" style="top:221px;height:6px;background:linear-gradient(90deg,#dc2b46 0.2%,#d5224a 0.5%,#c51852 1.5%,#c51852 2.5%,#ca1a50 2.8%,#d82748 3.5%,#e8403e 4.2%,#ee523f 4.5%,#f16445 4.8%,#f37651 5.1%,#f5976e 5.8%,#f6b691 6.5%,#f7cfb3 7.1%,#f8d7c0 7.5%,#f9e5d4 8.1%,#fae8d8 8.5%,#fae8d8 8.8%,#f9e2d0 9.5%,#f7cdb1 10.5%,#f6b38d 11.5%,#f6a37a 12.1%,#f5976e 12.8%,#f59269 13.5%,#f69e75 14.5%,#f6bf9d 15.8%,#f8d9c3 16.8%,#f9e5d4 17.4%,#faebdd 18.1%,#faebdd 18.4%,#f9e5d4 19.1%,#f8d9c3 19.8%,#f7c7a8 20.4%,#f6b18b 21.1%,#f58860 22.1%,#f26948 22.8%,#ef5a41 23.1%,#ec4a3e 23.4%,#e63b40 23.8%,#d72549 24.4%,#c81951 25.1%,#bc1656 25.7%,#ab185a 27.7%,#a8185a 29.4%,#ba1656 32.1%,#c51852 32.7%,#d11f4c 33.4%,#d72549 33.7%,#e9423e 34.7%,#ed4e3e 35%,#f26747 35.7%,#f5966c 37%,#f6b18b 38%,#f7c6a6 39%,#f7cdb1 39.7%,#f7cfb3 40%,#f7d0b5 41%,#f7cdb1 41.7%,#f7c6a6 42.7%,#f6b089 44.7%,#f69b71 46.7%,#f59269 48%,#f59269 49%,#f69c73 50%,#f6ab83 51%,#f9ddc9 54.7%,#f9e3d2 55.3%,#fae6d6 56%,#fae6d6 68.9%,#f9e2d0 69.9%,#f8dac5 70.6%,#f7cfb3 71.3%,#f6bf9d 71.9%,#f6a37a 72.6%,#f4845d 73.3%,#f37651 73.6%,#f05c42 74.3%,#e9423e 74.9%,#df2f44 75.6%,#d2204c 76.2%,#c21753 76.9%,#b01759 77.6%,#951c5b 78.9%,#7b1f59 80.6%,#581e4f 83.2%,#431c46 85.2%,#31183b 87.9%,#251433 90.5%,#1b112b 94.2%,#130d25 99.8%)"></div>
<div class="r" style="top:227px;height:6px;background:linear-gradient(90deg,#d82748 0.2%,#cd1c4e 0.8%,#c71951 1.2%,#c21753 1.8%,#ce1d4e 2.8%,#d5224a 3.2%,#dd2c45 3.5%,#ec4a3e 4.2%,#f05c42 4.5%,#f26d4b 4.8%,#f59067 5.5%,#f6b089 6.1%,#f7caac 6.8%,#f8d4bc 7.1%,#f9e2d0 7.8%,#fae8d8 8.5%,#fae6d6 8.8%,#f9ddc9 9.5%,#f7cfb3 10.1%,#f6b38d 11.1%,#f69b71 12.1%,#f59067 13.1%,#f69c73 14.1%,#f6ad85 14.8%,#f8d1b8 16.1%,#f9e0cd 16.8%,#f9e5d4 17.1%,#faebdd 17.8%,#faebdd 18.1%,#f9e5d4 18.8%,#f7d0b5 19.8%,#f6bc99 20.4%,#f5966c 21.4%,#f4865e 21.8%,#f26747 22.4%,#ef5840 22.8%,#e53940 23.4%,#d62449 24.1%,#ce1d4e 24.4%,#bf1654 25.1%,#a8185a 27.4%,#a4195b 28.7%,#b51657 31.4%,#bd1655 32.1%,#ca1a50 32.7%,#d72549 33.4%,#de2e44 33.7%,#e9423e 34.4%,#f05c42 35%,#f26948 35.4%,#f58d64 36.4%,#f6b38d 37.7%,#f7c6a6 38.7%,#f7cdb1 39.4%,#f7cfb3 39.7%,#f7d0b5 40.4%,#f7ccaf 41.4%,#f6be9b 43%,#f6a67e 45%,#f69c73 46%,#f59067 47.7%,#f59067 48.3%,#f5976e 49.3%,#f6a178 50%,#f6be9b 52%,#f8dac5 54%,#f9e2d0 54.7%,#f9e5d4 55.3%,#f9e5d4 68.9%,#f9e3d2 69.3%,#f8d9c3 70.3%,#f8d3ba 70.6%,#f6bb97 71.6%,#f58d64 72.6%,#f3714d 73.3%,#f16445 73.6%,#eb483e 74.3%,#e13342 74.9%,#cf1e4d 75.9%,#bd1655 76.6%,#981b5b 78.2%,#7f1e5a 79.9%,#591e50 82.6%,#4b1d4a 83.9%,#381a40 86.2%,#2e1739 87.9%,#211330 91.2%,#180f29 94.9%,#110c24 99.8%)"></div>
<div class="r" style="top:233px;height:6px;background:linear-gradient(90deg,#d5224a 0.2%,#c51852 1.2%,#c21753 1.8%,#d11f4c 2.8%,#e13342 3.5%,#e9423e 3.8%,#ee543f 4.2%,#f16646 4.5%,#f37852 4.8%,#f6ab83 5.8%,#f7c6a6 6.5%,#f8d9c3 7.1%,#f9e0cd 7.5%,#fae8d8 8.1%,#f9e3d2 8.8%,#f8d7c0 9.5%,#f6ab83 11.1%,#f69b71 11.8%,#f59067 12.5%,#f59269 13.1%,#f69c73 13.8%,#f6ad85 14.5%,#f8d1b8 15.8%,#fae6d6 16.8%,#faebdd 17.4%,#faebdd 17.8%,#f9e5d4 18.4%,#f8d7c0 19.1%,#f6bb97 20.1%,#f5946b 21.1%,#f37450 21.8%,#ee543f 22.4%,#e33641 23.1%,#d3214b 23.8%,#c41753 24.4%,#bd1655 24.8%,#b71657 25.1%,#aa185a 26.4%,#a4195b 27.4%,#a3195b 28.7%,#ab185a 30.1%,#b71657 31.4%,#ca1a50 32.4%,#d72549 33.1%,#de2e44 33.4%,#ea443e 34.1%,#f05e42 34.7%,#f26b49 35%,#f58f66 36%,#f6b48f 37.4%,#f7c7a8 38.4%,#f7cfb3 39.4%,#f7d0b5 39.7%,#f7cdb1 40.7%,#f7c6a6 41.7%,#f6b089 43.7%,#f69b71 45.7%,#f59067 47%,#f58f66 48%,#f5976e 49%,#f6a178 49.7%,#f6ad85 50.3%,#f7c2a2 52%,#f8d7c0 53.3%,#f9e2d0 54.3%,#f9e5d4 55%,#f9e5d4 68.3%,#f9e2d0 68.9%,#f8dac5 69.6%,#f7d0b5 70.3%,#f6c19f 70.9%,#f6a67e 71.6%,#f4845d 72.3%,#f26948 72.9%,#f05c42 73.3%,#ed4e3e 73.6%,#e9423e 73.9%,#de2e44 74.6%,#ca1a50 75.6%,#c11754 75.9%,#b01759 76.6%,#9c1b5b 77.6%,#811e5a 79.2%,#641f54 81.2%,#4c1d4b 83.2%,#401b44 84.6%,#2e1739 87.2%,#251433 89.2%,#180f29 94.2%,#100b23 99.8%)"></div>
<div class="r" style="top:239px;height:6px;background:linear-gradient(90deg,#d2204c 0.2%,#c71951 0.8%,#c21753 1.5%,#ce1d4e 2.5%,#d62449 2.8%,#e63b40 3.5%,#ec4c3e 3.8%,#f06043 4.2%,#f3734e 4.5%,#f5966c 5.1%,#f6c19f 6.1%,#f8d7c0 6.8%,#f9dfcb 7.1%,#fae6d6 7.8%,#fae6d6 8.1%,#f9dfcb 8.8%,#f7c7a8 9.8%,#f6a981 10.8%,#f6a178 11.1%,#f5946b 11.8%,#f58f66 12.5%,#f59067 12.8%,#f6a37a 13.8%,#f6bf9d 14.8%,#f8dac5 15.8%,#fae6d6 16.4%,#faebdd 16.8%,#faebdd 17.4%,#fae8d8 17.8%,#f9e3d2 18.1%,#f8d6be 18.8%,#f6b893 19.8%,#f59067 20.8%,#f3714d 21.4%,#f16244 21.8%,#ed503e 22.1%,#e8403e 22.4%,#d92847 23.1%,#c81951 23.8%,#ba1656 24.4%,#b01759 25.1%,#a4195b 26.4%,#9f1a5b 28.1%,#a6195a 29.4%,#b21758 30.7%,#bc1656 31.4%,#ca1a50 32.1%,#d11f4c 32.4%,#e53940 33.4%,#eb463e 33.7%,#f06043 34.4%,#f4865e 35.4%,#f6ae87 36.7%,#f7c2a2 37.7%,#f7cfb3 38.7%,#f7cfb3 39.7%,#f7caac 40.7%,#f6bb97 42.4%,#f6a37a 44.4%,#f59269 46%,#f58d64 47.3%,#f59067 48%,#f6a178 49.3%,#f6a880 49.7%,#f7c9aa 52%,#f7cfb3 52.3%,#f9e0cd 53.7%,#f9e5d4 54.7%,#f9e5d4 67.6%,#f9e0cd 68.6%,#f8d1b8 69.6%,#f7c4a4 70.3%,#f6ad85 70.9%,#f58b63 71.6%,#f47c55 71.9%,#f06043 72.6%,#eb463e 73.3%,#e03143 73.9%,#d3214b 74.6%,#c41753 75.2%,#ab185a 76.2%,#981b5b 77.2%,#7f1e5a 78.9%,#661f54 80.6%,#541e4e 81.9%,#37193f 85.2%,#251433 88.5%,#1e122d 90.9%,#140e26 95.8%,#100b23 99.8%)"></div>
<div class="r" style="top:245px;height:6px;background:linear-gradient(90deg,#ce1d4e 0.2%,#c51852 0.8%,#c41753 1.5%,#c51852 1.8%,#d2204c 2.5%,#e33641 3.2%,#eb463e 3.5%,#ef5840 3.8%,#f26b49 4.2%,#f58f66 4.8%,#f6be9b 5.8%,#f8d4bc 6.5%,#f9e2d0 7.1%,#fae6d6 7.5%,#fae6d6 7.8%,#f9dfcb 8.5%,#f7d0b5 9.1%,#f6a981 10.5%,#f5976e 11.1%,#f58d64 12.1%,#f5946b 12.8%,#f69b71 13.1%,#f6ad85 13.8%,#f8dcc7 15.4%,#f9e2d0 15.8%,#faebdd 16.4%,#faebdd 17.1%,#f8dcc7 18.1%,#f6c19f 19.1%,#f69b71 20.1%,#f58b63 20.4%,#f05c42 21.4%,#ec4c3e 21.8%,#e63b40 22.1%,#d62449 22.8%,#c51852 23.4%,#bc1656 23.8%,#b01759 24.4%,#a6195a 25.4%,#9c1b5b 27.4%,#9f1a5b 28.4%,#b01759 30.4%,#bc1656 31.1%,#ca1a50 31.7%,#d92847 32.4%,#e63b40 33.1%,#ef5640 33.7%,#f3714d 34.4%,#f6a880 36%,#f6bf9d 37%,#f7cfb3 38.4%,#f7cdb1 39.7%,#f7c9aa 40.4%,#f6a880 43.4%,#f5966c 45%,#f58d64 46.3%,#f58d64 47.3%,#f6a37a 49%,#f7caac 51.7%,#f9ddc9 53%,#f9e3d2 54%,#f9e3d2 67.3%,#f9e0cd 67.9%,#f8d9c3 68.6%,#f7cdb1 69.3%,#f6be9b 69.9%,#f6b18b 70.3%,#f59067 70.9%,#f3734e 71.6%,#f16445 71.9%,#eb483e 72.6%,#e13342 73.3%,#d5224a 73.9%,#bd1655 74.9%,#a6195a 75.9%,#861e5b 77.9%,#631f53 80.2%,#4e1d4b 81.9%,#37193f 84.6%,#251433 87.9%,#1e122d 90.2%,#140e26 94.9%,#0e0b22 99.8%)"></div>
<div class="r" style="top:251px;height:6px;background:linear-gradient(90deg,#cb1b4f 0.2%,#c21753 1.2%,#c81951 1.8%,#cf1e4d 2.2%,#d72549 2.5%,#e03143 2.8%,#e83f3f 3.2%,#ee523f 3.5%,#f16646 3.8%,#f37852 4.2%,#f6ab83 5.1%,#f6bb97 5.5%,#f8d1b8 6.1%,#f8dac5 6.5%,#f9e2d0 6.8%,#f9e5d4 7.1%,#fae6d6 7.5%,#f9dfcb 8.1%,#f7c7a8 9.1%,#f6b18b 9.8%,#f69e75 10.5%,#f59067 11.1%,#f58b63 11.8%,#f5946b 12.5%,#f6a47c 13.1%,#f6b893 13.8%,#f7ccaf 14.5%,#f9e3d2 15.4%,#faebdd 16.1%,#faebdd 16.4%,#fae6d6 17.1%,#f8d1b8 18.1%,#f6be9b 18.8%,#f5966c 19.8%,#f26747 20.8%,#ef5640 21.1%,#eb463e 21.4%,#e33641 21.8%,#d2204c 22.4%,#ca1a50 22.8%,#b91657 23.4%,#ad1759 24.1%,#9f1a5b 25.4%,#981b5b 26.7%,#9f1a5b 28.4%,#ab185a 29.7%,#bc1656 30.7%,#cb1b4f 31.4%,#d3214b 31.7%,#e13342 32.4%,#ec4c3e 33.1%,#ef5a41 33.4%,#f26747 33.7%,#f4815a 34.4%,#f6ab83 35.7%,#f6bb97 36.4%,#f7c6a6 37%,#f7cdb1 37.7%,#f7cfb3 38%,#f7cfb3 38.7%,#f7c7a8 40%,#f69b71 44%,#f58d64 45.7%,#f58b63 46.7%,#f59067 47.3%,#f6a37a 48.7%,#f6c19f 50.7%,#f8d1b8 51.7%,#f8dac5 52.3%,#f9e3d2 53.7%,#f9e3d2 66.6%,#f8dac5 67.9%,#f7cfb3 68.6%,#f6bf9d 69.3%,#f6b48f 69.6%,#f5946b 70.3%,#f4845d 70.6%,#f37450 70.9%,#ef5840 71.6%,#e83f3f 72.3%,#dc2b46 72.9%,#cf1e4d 73.6%,#bf1654 74.3%,#b01759 74.9%,#901d5b 76.6%,#7d1f5a 77.9%,#641f54 79.6%,#451c47 82.2%,#35193e 84.2%,#251433 87.2%,#1b112b 90.5%,#0d0a21 99.8%)"></div>
<div class="r" style="top:257px;height:7px;background:linear-gradient(90deg,#c81951 0.2%,#c41753 1.2%,#c71951 1.5%,#d5224a 2.2%,#e53940 2.8%,#ec4c3e 3.2%,#f06043 3.5%,#f4845d 4.2%,#f6a880 4.8%,#f7c4a4 5.5%,#f8d9c3 6.1%,#f9e5d4 6.8%,#f9e3d2 7.5%,#f9dfcb 7.8%,#f7c6a6 8.8%,#f6b089 9.5%,#f69c73 10.1%,#f58d64 10.8%,#f58b63 11.5%,#f5946b 12.1%,#f6a47c 12.8%,#f6ae87 13.1%,#f7c4a4 13.8%,#f9e5d4 15.1%,#faebdd 15.8%,#faebdd 16.1%,#fae9da 16.4%,#f9dfcb 17.1%,#f7c6a6 18.1%,#f6ae87 18.8%,#f59269 19.4%,#f3734e 20.1%,#f16244 20.4%,#ed503e 20.8%,#e83f3f 21.1%,#d72549 21.8%,#ce1d4e 22.1%,#bc1656 22.8%,#ad1759 23.4%,#9c1b5b 25.1%,#971c5b 26.1%,#971c5b 27.1%,#aa185a 29.4%,#b51657 30.1%,#c41753 30.7%,#d5224a 31.4%,#dc2b46 31.7%,#e8403e 32.4%,#f05e42 33.1%,#f37852 33.7%,#f69b71 34.7%,#f6ae87 35.4%,#f7c2a2 36.4%,#f7ccaf 37%,#f7cfb3 38%,#f7c9aa 39.4%,#f69c73 43.4%,#f58f66 44.7%,#f58a61 46%,#f59067 47%,#f69e75 48%,#f6b089 49%,#f7c7a8 50.7%,#f8dac5 52%,#f9dfcb 52.3%,#f9e2d0 53%,#f9e2d0 66.3%,#f8dac5 67.3%,#f7d0b5 67.9%,#f6c19f 68.6%,#f6a880 69.3%,#f4865e 69.9%,#f26948 70.6%,#ec4c3e 71.3%,#e8403e 71.6%,#dd2c45 72.3%,#c81951 73.3%,#b91657 73.9%,#a3195b 74.9%,#731f58 77.9%,#4c1d4b 80.9%,#35193e 83.6%,#2b1637 85.2%,#1e122d 88.5%,#140e26 93.2%,#0d0a21 99.8%)"></div>
<div class="r" style="top:264px;height:6px;background:linear-gradient(90deg,#c71951 0.2%,#c21753 0.8%,#ca1a50 1.5%,#d2204c 1.8%,#d92847 2.2%,#e33641 2.5%,#eb463e 2.8%,#ef5a41 3.2%,#f26d4b 3.5%,#f59269 4.2%,#f6b48f 4.8%,#f7c2a2 5.1%,#f8d7c0 5.8%,#f9dfcb 6.1%,#f9e3d2 6.5%,#f9e3d2 7.1%,#f8d7c0 7.8%,#f7cfb3 8.1%,#f6a37a 9.5%,#f58b63 10.5%,#f58a61 11.1%,#f58d64 11.5%,#f69c73 12.1%,#f6b089 12.8%,#f7c6a6 13.5%,#f8d7c0 14.1%,#f9e5d4 14.8%,#fae9da 15.1%,#faebdd 15.8%,#f9e3d2 16.4%,#f9ddc9 16.8%,#f8d6be 17.1%,#f7c2a2 17.8%,#f6a981 18.4%,#f58d64 19.1%,#f26d4b 19.8%,#f05c42 20.1%,#ec4a3e 20.4%,#e53940 20.8%,#d3214b 21.4%,#ca1a50 21.8%,#b71657 22.4%,#aa185a 23.1%,#981b5b 24.8%,#931c5b 26.4%,#a4195b 28.7%,#b51657 29.7%,#c51852 30.4%,#dd2c45 31.4%,#ea443e 32.1%,#ee523f 32.4%,#f16244 32.7%,#f47c55 33.4%,#f6a880 34.7%,#f6bf9d 35.7%,#f7ccaf 36.7%,#f7cfb3 37.4%,#f7c7a8 39%,#f6be9b 40%,#f6a981 41.7%,#f5966c 43.4%,#f58b63 44.7%,#f58a61 46%,#f59970 47.3%,#f6ab83 48.3%,#f6be9b 49.7%,#f8dcc7 51.7%,#f9e2d0 52.7%,#f9e2d0 65.6%,#f8dac5 66.6%,#f7d0b5 67.3%,#f7c2a2 67.9%,#f6b893 68.3%,#f58860 69.3%,#f26b49 69.9%,#f05c42 70.3%,#ed4e3e 70.6%,#e33641 71.3%,#d72549 71.9%,#c81951 72.6%,#ba1656 73.3%,#a4195b 74.3%,#7d1f5a 76.6%,#4c1d4b 80.2%,#35193e 82.9%,#221331 86.5%,#180f29 90.2%,#0b0920 99.8%)"></div>
<div class="r" style="top:270px;height:6px;background:linear-gradient(90deg,#c41753 0.2%,#c41753 0.8%,#ce1d4e 1.5%,#d72549 1.8%,#e03143 2.2%,#e8403e 2.5%,#ee543f 2.8%,#f26747 3.2%,#f47c55 3.5%,#f6b18b 4.5%,#f7ccaf 5.1%,#f8d6be 5.5%,#f9e3d2 6.1%,#f9e5d4 6.5%,#f9ddc9 7.1%,#f7cdb1 7.8%,#f6a178 9.1%,#f58f66 9.8%,#f58a61 10.1%,#f58860 10.5%,#f58d64 11.1%,#f69c73 11.8%,#f6b18b 12.5%,#f8d9c3 13.8%,#fae6d6 14.5%,#faebdd 14.8%,#faebdd 15.4%,#fae8d8 15.8%,#f8dcc7 16.4%,#f6bf9d 17.4%,#f6a67e 18.1%,#f37852 19.1%,#ee543f 19.8%,#e9423e 20.1%,#d92847 20.8%,#c51852 21.4%,#bc1656 21.8%,#ab185a 22.4%,#a11a5b 23.1%,#951c5b 24.4%,#901d5b 25.7%,#9a1b5b 27.4%,#a8185a 28.7%,#bd1655 29.7%,#c71951 30.1%,#d72549 30.7%,#df2f44 31.1%,#eb483e 31.7%,#ef5640 32.1%,#f3734e 32.7%,#f6ab83 34.4%,#f6c19f 35.4%,#f7caac 36%,#f7ccaf 36.4%,#f7ccaf 37.7%,#f7c2a2 39%,#f6be9b 39.4%,#f69b71 42.4%,#f58b63 44%,#f58860 45.3%,#f58b63 46%,#f69b71 47%,#f6b995 49%,#f8dcc7 51.3%,#f9e0cd 52%,#f9e0cd 65%,#f8dac5 65.9%,#f7caac 66.9%,#f6b995 67.6%,#f58a61 68.6%,#f26b49 69.3%,#f05e42 69.6%,#e9423e 70.3%,#d72549 71.3%,#c21753 72.3%,#a4195b 73.6%,#871e5b 75.2%,#5c1e51 78.2%,#4c1d4b 79.6%,#35193e 82.2%,#221331 85.9%,#180f29 89.5%,#0e0b22 95.8%,#0b0920 99.8%)"></div>
<div class="r" style="top:276px;height:6px;background:linear-gradient(90deg,#c41753 0.2%,#c21753 0.5%,#c51852 0.8%,#d5224a 1.5%,#dd2c45 1.8%,#ed4e3e 2.5%,#f16445 2.8%,#f37852 3.2%,#f6b089 4.2%,#f7ccaf 4.8%,#f8d6be 5.1%,#f9e2d0 5.8%,#f9e2d0 6.5%,#f8dcc7 6.8%,#f7ccaf 7.5%,#f6ab83 8.5%,#f5966c 9.1%,#f58d64 9.5%,#f4865e 10.1%,#f58d64 10.8%,#f69c73 11.5%,#f6b18b 12.1%,#f7c7a8 12.8%,#f8d1b8 13.1%,#f9e2d0 13.8%,#faebdd 14.5%,#faebdd 14.8%,#f9e2d0 15.8%,#f8d1b8 16.4%,#f7c7a8 16.8%,#f6b089 17.4%,#f4835b 18.4%,#f06043 19.1%,#ed4e3e 19.4%,#e73d3f 19.8%,#d5224a 20.4%,#cb1b4f 20.8%,#b71657 21.4%,#a6195a 22.1%,#9a1b5b 23.1%,#8e1d5b 24.8%,#8e1d5b 25.4%,#981b5b 27.1%,#a3195b 28.1%,#b71657 29.1%,#c81951 29.7%,#d11f4c 30.1%,#e03143 30.7%,#ec4c3e 31.4%,#ef5a41 31.7%,#f26747 32.1%,#f58f66 33.1%,#f6ad85 34.1%,#f7c2a2 35%,#f7ccaf 36%,#f7cdb1 36.7%,#f7c9aa 37.7%,#f6b691 39.7%,#f6ad85 40.4%,#f5966c 42.4%,#f58a61 43.7%,#f4865e 45%,#f58b63 45.7%,#f69b71 46.7%,#f6ad85 47.7%,#f6bf9d 49%,#f8d9c3 50.7%,#f9dfcb 51.3%,#f9dfcb 64.6%,#f8d6be 65.6%,#f7c2a2 66.6%,#f6b995 66.9%,#f6ad85 67.3%,#f47c55 68.3%,#f05e42 68.9%,#e9423e 69.6%,#de2e44 70.3%,#d11f4c 70.9%,#c21753 71.6%,#a4195b 72.9%,#871e5b 74.6%,#7f1e5a 75.2%,#611f53 77.2%,#4c1d4b 78.9%,#35193e 81.6%,#221331 85.2%,#180f29 88.9%,#0e0b22 95.2%,#0b0920 99.8%)"></div>
<div class="r" style="top:282px;height:6px;background:linear-gradient(90deg,#c21753 0.2%,#ca1a50 0.8%,#db2946 1.5%,#e43841 1.8%,#ec4c3e 2.2%,#f16244 2.5%,#f58a61 3.2%,#f69e75 3.5%,#f6be9b 4.2%,#f7ccaf 4.5%,#f8d6be 4.8%,#f9e2d0 5.5%,#f9e3d2 5.8%,#f8dac5 6.5%,#f8d3ba 6.8%,#f7c9aa 7.1%,#f69c73 8.5%,#f58b63 9.1%,#f4865e 9.5%,#f4845d 9.8%,#f58d64 10.5%,#f69e75 11.1%,#f6be9b 12.1%,#f8d1b8 12.8%,#f9e2d0 13.5%,#faebdd 14.1%,#faebdd 14.5%,#fae6d6 15.1%,#f9e0cd 15.4%,#f8d9c3 15.8%,#f7c6a6 16.4%,#f6ad85 17.1%,#f58f66 17.8%,#f47d57 18.1%,#ef5a41 18.8%,#eb483e 19.1%,#db2946 19.8%,#c51852 20.4%,#ba1656 20.8%,#b01759 21.1%,#a3195b 21.8%,#9a1b5b 22.4%,#8c1d5b 24.1%,#8c1d5b 25.1%,#9e1a5b 27.4%,#a8185a 28.1%,#b91657 28.7%,#ca1a50 29.4%,#db2946 30.1%,#e8403e 30.7%,#f05e42 31.4%,#f59269 32.7%,#f6b089 33.7%,#f7c4a4 34.7%,#f7c9aa 35%,#f7ccaf 35.7%,#f7ccaf 36.4%,#f7c7a8 37.4%,#f6b893 39%,#f69b71 41.4%,#f58a61 43%,#f4845d 44.4%,#f58b63 45.3%,#f69b71 46.3%,#f6ad85 47.3%,#f6bf9d 48.7%,#f8d9c3 50.3%,#f9ddc9 51%,#f9ddc9 64%,#f7cfb3 65.3%,#f6b893 66.3%,#f58860 67.3%,#f26b49 67.9%,#f05c42 68.3%,#e8403e 68.9%,#dd2c45 69.6%,#c81951 70.6%,#c11754 70.9%,#a3195b 72.3%,#871e5b 73.9%,#5c1e51 76.9%,#4c1d4b 78.2%,#2e1739 81.9%,#251433 83.6%,#180f29 88.2%,#0e0b22 94.5%,#0a091f 99.8%)"></div>
<div class="r" style="top:288px;height:6px;background:linear-gradient(90deg,#c41753 0.2%,#cf1e4d 0.8%,#d92847 1.2%,#eb483e 1.8%,#f06043 2.2%,#f37450 2.5%,#f58a61 2.8%,#f6b089 3.5%,#f7cdb1 4.2%,#f8d7c0 4.5%,#f9dfcb 4.8%,#f9e2d0 5.1%,#f9e2d0 5.5%,#f9ddc9 5.8%,#f8d7c0 6.1%,#f7c6a6 6.8%,#f6a37a 7.8%,#f58f66 8.5%,#f4845d 9.1%,#f4845d 9.5%,#f4865e 9.8%,#f5946b 10.5%,#f69e75 10.8%,#f6b38d 11.5%,#f7c9aa 12.1%,#f9e2d0 13.1%,#faebdd 13.8%,#faebdd 14.1%,#fae9da 14.5%,#f9dfcb 15.1%,#f7c2a2 16.1%,#f58a61 17.4%,#f16646 18.1%,#ee543f 18.4%,#e8403e 18.8%,#e03143 19.1%,#cb1b4f 19.8%,#bf1654 20.1%,#ab185a 20.8%,#9a1b5b 21.8%,#901d5b 22.8%,#891e5b 24.4%,#931c5b 26.1%,#9e1a5b 27.1%,#b01759 28.1%,#c21753 28.7%,#d5224a 29.4%,#dd2c45 29.7%,#eb463e 30.4%,#ee543f 30.7%,#f3714d 31.4%,#f6a077 32.7%,#f6b38d 33.4%,#f7c6a6 34.4%,#f7c9aa 34.7%,#f7ccaf 35.7%,#f7c7a8 36.7%,#f7c2a2 37.4%,#f6b18b 39%,#f59067 41.7%,#f4845d 43.4%,#f4845d 44.4%,#f58b63 45%,#f69b71 46%,#f6ad85 47%,#f6b48f 47.7%,#f7c6a6 48.7%,#f8d7c0 50%,#f8dcc7 50.7%,#f8dcc7 63%,#f8dac5 63.3%,#f7d0b5 64.3%,#f7c4a4 65%,#f6b38d 65.6%,#f4835b 66.6%,#f16646 67.3%,#ef5840 67.6%,#e73d3f 68.3%,#d5224a 69.3%,#bf1654 70.3%,#af1759 70.9%,#9a1b5b 71.9%,#711f57 74.6%,#511e4d 76.9%,#35193e 79.9%,#221331 83.6%,#180f29 87.2%,#0e0b22 93.2%,#0a091f 99.8%)"></div>
<div class="r" style="top:294px;height:6px;background:linear-gradient(90deg,#c71951 0.2%,#ce1d4e 0.5%,#e23442 1.2%,#eb483e 1.5%,#f05e42 1.8%,#f58b63 2.5%,#f6b38d 3.2%,#f7d0b5 3.8%,#f8d9c3 4.2%,#f9dfcb 4.5%,#f9e0cd 4.8%,#f8dac5 5.5%,#f6c19f 6.5%,#f6a981 7.1%,#f5966c 7.8%,#f4865e 8.5%,#f4835b 9.1%,#f58b63 9.8%,#f69e75 10.5%,#f6bf9d 11.5%,#f8dcc7 12.5%,#fae8d8 13.1%,#faebdd 13.5%,#faebdd 13.8%,#f9e3d2 14.5%,#f9ddc9 14.8%,#f6bf9d 15.8%,#f6b38d 16.1%,#f4835b 17.1%,#f06043 17.8%,#ec4c3e 18.1%,#e53940 18.4%,#dc2b46 18.8%,#d11f4c 19.1%,#c51852 19.4%,#ba1656 19.8%,#a6195a 20.4%,#9a1b5b 21.1%,#8c1d5b 22.4%,#871e5b 24.1%,#901d5b 25.4%,#9e1a5b 26.7%,#b41658 27.7%,#c51852 28.4%,#ce1d4e 28.7%,#df2f44 29.4%,#e73d3f 29.7%,#ec4a3e 30.1%,#ef5a41 30.4%,#f37450 31.1%,#f58f66 31.7%,#f6ad85 32.7%,#f6bc99 33.4%,#f7c9aa 34.4%,#f7caac 35.4%,#f7c6a6 36.4%,#f6b38d 38.4%,#f5966c 40.7%,#f4865e 42.4%,#f4835b 43.7%,#f4865e 44.4%,#f69b71 45.7%,#f6b995 47.7%,#f7cfb3 49%,#f8d9c3 50%,#f8dac5 62%,#f8d4bc 63%,#f7ccaf 63.6%,#f6b893 64.6%,#f69c73 65.3%,#f47c55 65.9%,#f06043 66.6%,#ea443e 67.3%,#df2f44 67.9%,#d2204c 68.6%,#c41753 69.3%,#ab185a 70.3%,#921c5b 71.6%,#7d1f5a 72.9%,#641f54 74.6%,#4b1d4a 76.6%,#31183b 79.6%,#221331 82.6%,#180f29 86.2%,#0e0b22 92.2%,#08081e 99.8%)"></div>
<div class="r" style="top:300px;height:6px;background:linear-gradient(90deg,#cd1c4e 0.2%,#d62449 0.5%,#e13342 0.8%,#eb463e 1.2%,#f06043 1.5%,#f37852 1.8%,#f58f66 2.2%,#f6b691 2.8%,#f8d3ba 3.5%,#f8dcc7 3.8%,#f9dfcb 4.2%,#f8dcc7 4.8%,#f7c6a6 5.8%,#f6a47c 6.8%,#f59067 7.5%,#f4835b 8.1%,#f4815a 8.8%,#f58d64 9.5%,#f69e75 10.1%,#f7caac 11.5%,#f8dcc7 12.1%,#f9e3d2 12.5%,#faebdd 13.1%,#fae8d8 13.8%,#f9e2d0 14.1%,#f8d3ba 14.8%,#f7c9aa 15.1%,#f6a077 16.1%,#f26b49 17.1%,#ef5640 17.4%,#e9423e 17.8%,#d62449 18.4%,#bf1654 19.1%,#aa185a 19.8%,#9a1b5b 20.4%,#891e5b 22.1%,#861e5b 23.4%,#871e5b 24.1%,#9a1b5b 26.1%,#a4195b 26.7%,#b51657 27.4%,#c81951 28.1%,#db2946 28.7%,#e8403e 29.4%,#f05e42 30.1%,#f26d4b 30.4%,#f59269 31.4%,#f6b089 32.4%,#f6b893 32.7%,#f7c2a2 33.4%,#f7c9aa 34.1%,#f7caac 34.4%,#f7c6a6 35.7%,#f6b893 37.4%,#f59067 40.7%,#f4845d 42%,#f4815a 43%,#f4835b 43.7%,#f58f66 44.7%,#f6a67e 46%,#f6be9b 47.7%,#f8d1b8 49%,#f8d7c0 50%,#f8d7c0 61.3%,#f8d3ba 62%,#f7ccaf 62.6%,#f6b995 63.6%,#f6b089 64%,#f6a37a 64.3%,#f59269 64.6%,#f3734e 65.3%,#ef5840 65.9%,#ec4a3e 66.3%,#e13342 66.9%,#ce1d4e 67.9%,#bf1654 68.6%,#af1759 69.3%,#931c5b 70.6%,#7f1e5a 71.9%,#5c1e51 74.3%,#381a40 77.6%,#2b1637 79.6%,#180f29 84.9%,#110c24 88.9%,#08081e 99.8%)"></div>
<div class="r" style="top:306px;height:7px;background:linear-gradient(90deg,#d5224a 0.2%,#e03143 0.5%,#eb463e 0.8%,#f06043 1.2%,#f59269 1.8%,#f6bb97 2.5%,#f8d6be 3.2%,#f9ddc9 3.5%,#f9dfcb 3.8%,#f8dcc7 4.2%,#f8d1b8 4.8%,#f6b691 5.8%,#f5966c 6.8%,#f4865e 7.5%,#f47f58 8.1%,#f4865e 8.8%,#f5966c 9.5%,#f6ab83 10.1%,#f6c19f 10.8%,#f8d4bc 11.5%,#f9e3d2 12.1%,#fae8d8 12.5%,#fae9da 13.1%,#fae6d6 13.5%,#f8d9c3 14.1%,#f6b893 15.1%,#f58860 16.1%,#f16244 16.8%,#ed4e3e 17.1%,#dc2b46 17.8%,#c41753 18.4%,#b71657 18.8%,#a3195b 19.4%,#931c5b 20.4%,#841e5a 22.1%,#841e5a 23.1%,#891e5b 24.1%,#951c5b 25.4%,#a6195a 26.4%,#c21753 27.4%,#d5224a 28.1%,#dd2c45 28.4%,#eb463e 29.1%,#ef5640 29.4%,#f3714d 30.1%,#f47f58 30.4%,#f6a178 31.4%,#f6bf9d 32.7%,#f7c4a4 33.1%,#f7c9aa 33.7%,#f7c7a8 34.7%,#f6c19f 35.7%,#f5966c 39.7%,#f58860 41%,#f4815a 42.4%,#f4815a 43%,#f58a61 44%,#f5946b 44.7%,#f6b893 47%,#f7ccaf 48.3%,#f8d1b8 49%,#f8d4bc 49.7%,#f8d4bc 60.3%,#f8d1b8 61%,#f7ccaf 61.6%,#f6c19f 62.3%,#f6b18b 63%,#f59970 63.6%,#f37852 64.3%,#f05c42 65%,#ed4e3e 65.3%,#e33641 65.9%,#d11f4c 66.9%,#c21753 67.6%,#aa185a 68.6%,#951c5b 69.6%,#7f1e5a 70.9%,#5c1e51 73.3%,#481c48 74.9%,#381a40 76.6%,#281535 78.9%,#1b112b 82.6%,#110c24 87.5%,#07071d 99.8%)"></div>
<div class="r" style="top:313px;height:6px;background:linear-gradient(90deg,#e03143 0.2%,#eb463e 0.5%,#f16244 0.8%,#f5966c 1.5%,#f6ad85 1.8%,#f7cfb3 2.5%,#f8d9c3 2.8%,#f9ddc9 3.2%,#f8d9c3 3.8%,#f7c4a4 4.8%,#f6b995 5.1%,#f69b71 6.1%,#f4835b 7.1%,#f47d57 7.8%,#f4865e 8.5%,#f5966c 9.1%,#f6ab83 9.8%,#f7ccaf 10.8%,#f9ddc9 11.5%,#fae8d8 12.1%,#fae9da 12.5%,#f9e5d4 13.1%,#f8d7c0 13.8%,#f7cdb1 14.1%,#f6b38d 14.8%,#f5946b 15.4%,#f4815a 15.8%,#ef5a41 16.4%,#ea443e 16.8%,#d62449 17.4%,#ca1a50 17.8%,#bc1656 18.1%,#a6195a 18.8%,#971c5b 19.4%,#8b1d5b 20.4%,#811e5a 22.1%,#861e5b 23.4%,#951c5b 25.1%,#a11a5b 25.7%,#bc1656 26.7%,#c51852 27.1%,#ce1d4e 27.4%,#e03143 28.1%,#ec4c3e 28.7%,#ef5a41 29.1%,#f4835b 30.1%,#f6a47c 31.1%,#f6bb97 32.1%,#f7c4a4 32.7%,#f7c6a6 33.1%,#f7c7a8 33.7%,#f6bc99 35.7%,#f69e75 38.4%,#f58b63 40%,#f47f58 42%,#f47f58 42.7%,#f58a61 43.7%,#f59970 44.7%,#f6ad85 46%,#f7c6a6 47.7%,#f7d0b5 48.7%,#f8d1b8 49.3%,#f8d1b8 59.3%,#f7caac 60.6%,#f6b38d 62%,#f69c73 62.6%,#f47d57 63.3%,#f06043 64%,#eb463e 64.6%,#df2f44 65.3%,#cd1c4e 66.3%,#bd1655 66.9%,#a4195b 67.9%,#901d5b 68.9%,#761f58 70.6%,#5c1e51 72.3%,#4b1d4a 73.6%,#381a40 75.6%,#281535 77.9%,#180f29 82.6%,#0e0b22 88.2%,#07071d 99.8%)"></div>
<div class="r" style="top:319px;height:6px;background:linear-gradient(90deg,#eb463e 0.2%,#f16445 0.5%,#f69b71 1.2%,#f7c6a6 1.8%,#f8d3ba 2.2%,#f8dac5 2.5%,#f8dcc7 2.8%,#f8d9c3 3.2%,#f7cfb3 3.8%,#f5966c 5.8%,#f4865e 6.5%,#f47d57 7.1%,#f47d57 7.5%,#f47f58 7.8%,#f58d64 8.5%,#f6a178 9.1%,#f7cdb1 10.5%,#f8d6be 10.8%,#f9e3d2 11.5%,#fae8d8 11.8%,#fae8d8 12.5%,#f9ddc9 13.1%,#f8d4bc 13.5%,#f6be9b 14.1%,#f58d64 15.1%,#f16646 15.8%,#ed503e 16.1%,#e73d3f 16.4%,#dc2b46 16.8%,#cf1e4d 17.1%,#c21753 17.4%,#b51657 17.8%,#9f1a5b 18.4%,#971c5b 18.8%,#841e5a 20.4%,#7f1e5a 21.8%,#821e5a 22.8%,#921c5b 24.4%,#a3195b 25.4%,#b51657 26.1%,#c81951 26.7%,#db2946 27.4%,#e9423e 28.1%,#f06043 28.7%,#f58860 29.7%,#f69e75 30.4%,#f6b089 31.1%,#f6c19f 32.1%,#f7c6a6 32.7%,#f7c6a6 33.4%,#f6bc99 35%,#f6b089 36.4%,#f5976e 38.4%,#f4865e 40%,#f47f58 41%,#f47d57 42%,#f4845d 43%,#f58a61 43.4%,#f6ab83 45.7%,#f7c4a4 47.3%,#f7cdb1 48.3%,#f7cdb1 58.6%,#f7c4a4 60%,#f6ab83 61.3%,#f6a077 61.6%,#f3714d 62.6%,#ef5640 63.3%,#e73d3f 64%,#dc2b46 64.6%,#c81951 65.6%,#c11754 65.9%,#a6195a 66.9%,#8b1d5b 68.3%,#5c1e51 71.3%,#431c46 73.3%,#37193f 74.6%,#251433 77.2%,#180f29 81.2%,#0e0b22 86.9%,#08081e 93.2%,#07071d 99.8%)"></div>
<div class="r" style="top:325px;height:6px;background:linear-gradient(90deg,#f16646 0.2%,#f6a077 0.8%,#f6b893 1.2%,#f7caac 1.5%,#f8d6be 1.8%,#f8dac5 2.2%,#f8d9c3 2.5%,#f8d1b8 3.2%,#f7c2a2 3.8%,#f69b71 5.1%,#f58a61 5.8%,#f47d57 6.5%,#f47c55 7.1%,#f4865e 7.8%,#f6a37a 8.8%,#f7c4a4 9.8%,#f8d6be 10.5%,#f9e3d2 11.1%,#fae8d8 11.5%,#fae6d6 12.1%,#f9e2d0 12.5%,#f8d1b8 13.1%,#f7c6a6 13.5%,#f59970 14.5%,#f3734e 15.1%,#f05e42 15.4%,#eb463e 15.8%,#d62449 16.4%,#c81951 16.8%,#ba1656 17.1%,#a11a5b 17.8%,#981b5b 18.1%,#8e1d5b 18.8%,#811e5a 20.1%,#7d1f5a 21.4%,#841e5a 22.8%,#921c5b 24.1%,#a4195b 25.1%,#c21753 26.1%,#d5224a 26.7%,#e53940 27.4%,#ef5640 28.1%,#f3734e 28.7%,#f6a178 30.1%,#f6b893 31.1%,#f6c19f 31.7%,#f7c4a4 32.4%,#f7c2a2 33.4%,#f6bf9d 33.7%,#f6bc99 34.4%,#f6ad85 36%,#f59067 38.4%,#f4865e 39.4%,#f47d57 40.7%,#f47c55 41.7%,#f47d57 42%,#f58d64 43.4%,#f6a37a 44.7%,#f6be9b 46.7%,#f7c2a2 47%,#f7caac 48%,#f7caac 58%,#f7c2a2 59%,#f6b38d 60%,#f6a37a 60.6%,#f5966c 61%,#f37651 61.6%,#ef5a41 62.3%,#e8403e 63%,#dd2c45 63.6%,#d11f4c 64.3%,#c41753 65%,#aa185a 65.9%,#8c1d5b 67.3%,#681f55 69.6%,#531e4d 70.9%,#431c46 72.3%,#281535 75.6%,#1b112b 78.9%,#0e0b22 85.5%,#08081e 91.9%,#06071c 99.8%)"></div>
<div class="r" style="top:331px;height:6px;background:linear-gradient(90deg,#f4865e 0.2%,#f6a37a 0.5%,#f6bb97 0.8%,#f7cdb1 1.2%,#f8d7c0 1.5%,#f8d9c3 1.8%,#f8d3ba 2.5%,#f6be9b 3.5%,#f58d64 5.1%,#f47f58 5.8%,#f47a54 6.5%,#f47c55 6.8%,#f4865e 7.5%,#f6a47c 8.5%,#f7c6a6 9.5%,#f9dfcb 10.5%,#f9e5d4 10.8%,#fae8d8 11.5%,#f9e0cd 12.1%,#f7cfb3 12.8%,#f7c2a2 13.1%,#f6a37a 13.8%,#f59269 14.1%,#f47d57 14.5%,#f26948 14.8%,#ee543f 15.1%,#e73d3f 15.4%,#dc2b46 15.8%,#cf1e4d 16.1%,#c11754 16.4%,#a6195a 17.1%,#931c5b 17.8%,#8e1d5b 18.1%,#7d1f5a 19.8%,#7b1f59 21.1%,#8c1d5b 23.4%,#9f1a5b 24.4%,#b01759 25.1%,#c51852 25.7%,#cf1e4d 26.1%,#e03143 26.7%,#ec4c3e 27.4%,#f05c42 27.7%,#f26948 28.1%,#f4845d 28.7%,#f69b71 29.4%,#f6ad85 30.1%,#f6be9b 31.1%,#f7c2a2 31.7%,#f7c2a2 32.4%,#f6b995 34.1%,#f6ad85 35.4%,#f58a61 38.4%,#f47f58 39.7%,#f47a54 41%,#f47f58 42%,#f58d64 43%,#f6a981 45%,#f6b893 46%,#f7c2a2 47%,#f7c7a8 47.7%,#f7c7a8 57%,#f7c4a4 57.6%,#f6be9b 58.3%,#f6b38d 59%,#f6a47c 59.6%,#f58b63 60.3%,#f47c55 60.6%,#f05e42 61.3%,#ee523f 61.6%,#ea443e 62%,#df2f44 62.6%,#d3214b 63.3%,#c51852 64%,#b51657 64.6%,#a4195b 65.3%,#871e5b 66.6%,#711f57 67.9%,#431c46 71.3%,#2a1636 74.3%,#180f29 78.9%,#0e0b22 84.2%,#08081e 90.2%,#06071c 99.8%)"></div>
<div class="r" style="top:337px;height:6px;background:linear-gradient(90deg,#f6a47c 0.2%,#f6be9b 0.5%,#f7cfb3 0.8%,#f8d7c0 1.2%,#f8d7c0 1.5%,#f8d4bc 1.8%,#f7caac 2.5%,#f69c73 4.2%,#f58a61 4.8%,#f47d57 5.5%,#f47a54 5.8%,#f47c55 6.5%,#f59067 7.5%,#f6a67e 8.1%,#f7c7a8 9.1%,#f8d9c3 9.8%,#f9e0cd 10.1%,#fae8d8 10.8%,#fae8d8 11.1%,#f9ddc9 11.8%,#f8d4bc 12.1%,#f6be9b 12.8%,#f58a61 13.8%,#f06043 14.5%,#eb483e 14.8%,#e23442 15.1%,#d62449 15.4%,#c71951 15.8%,#b91657 16.1%,#9e1a5b 16.8%,#8e1d5b 17.4%,#7a1f59 19.4%,#781f59 20.4%,#821e5a 22.1%,#8c1d5b 23.1%,#981b5b 23.8%,#b41658 24.8%,#c81951 25.4%,#db2946 26.1%,#e9423e 26.7%,#ee523f 27.1%,#f16244 27.4%,#f47c55 28.1%,#f69e75 29.1%,#f6ae87 29.7%,#f6b995 30.4%,#f6be9b 30.7%,#f6c19f 31.4%,#f6c19f 31.7%,#f6b691 33.7%,#f5966c 36.7%,#f4815a 38.7%,#f37852 40.4%,#f47c55 41.4%,#f4835b 42%,#f6a37a 44.4%,#f6b691 45.7%,#f6c19f 46.7%,#f7c4a4 47.3%,#f7c4a4 56.3%,#f6b893 57.6%,#f69e75 59%,#f59269 59.3%,#f3734e 60%,#ef5640 60.6%,#ec4a3e 61%,#e13342 61.6%,#c81951 63%,#b91657 63.6%,#a6195a 64.3%,#891e5b 65.6%,#6e1f57 67.3%,#541e4e 68.9%,#401b44 70.6%,#31183b 72.3%,#221331 74.6%,#140e26 79.6%,#0b0920 85.5%,#07071d 91.2%,#06071c 99.8%)"></div>
<div class="r" style="top:343px;height:6px;background:linear-gradient(90deg,#f6bf9d 0.2%,#f7cfb3 0.5%,#f8d6be 0.8%,#f8d1b8 1.5%,#f7cdb1 1.8%,#f6be9b 2.5%,#f6a178 3.5%,#f4865e 4.5%,#f47f58 4.8%,#f37852 5.5%,#f37852 5.8%,#f58a61 6.8%,#f69e75 7.5%,#f7caac 8.8%,#f8dac5 9.5%,#f9e5d4 10.1%,#fae8d8 10.5%,#fae6d6 10.8%,#f8dcc7 11.5%,#f8d1b8 11.8%,#f6b893 12.5%,#f4835b 13.5%,#f26d4b 13.8%,#ef5640 14.1%,#e83f3f 14.5%,#dc2b46 14.8%,#ce1d4e 15.1%,#bf1654 15.4%,#b01759 15.8%,#971c5b 16.4%,#901d5b 16.8%,#7b1f59 18.4%,#761f58 20.1%,#7b1f59 21.1%,#8c1d5b 22.8%,#ab185a 24.1%,#c11754 24.8%,#d5224a 25.4%,#dd2c45 25.7%,#eb483e 26.4%,#ef5640 26.7%,#f3734e 27.4%,#f6a077 28.7%,#f6b089 29.4%,#f6b995 30.1%,#f6be9b 30.7%,#f6be9b 31.4%,#f6b995 32.4%,#f6b089 33.7%,#f6ab83 34.1%,#f4865e 37.4%,#f47d57 38.4%,#f37651 39.7%,#f37651 40.4%,#f47d57 41.4%,#f4865e 42%,#f69b71 43.4%,#f6a178 44%,#f6b893 45.7%,#f6be9b 46.3%,#f6c19f 47%,#f6c19f 55.3%,#f6b893 56.6%,#f6ae87 57.3%,#f6a077 58%,#f58a61 58.6%,#f26948 59.3%,#ed4e3e 60%,#e33641 60.6%,#d72549 61.3%,#c41753 62.3%,#b41658 63%,#981b5b 64%,#861e5b 65%,#641f54 66.9%,#401b44 69.6%,#251433 72.9%,#180f29 76.6%,#0e0b22 81.6%,#08081e 87.5%,#06071c 99.8%)"></div>
<div class="r" style="top:349px;height:6px;background:linear-gradient(90deg,#f7cfb3 0.2%,#f8d3ba 0.5%,#f7cfb3 1.2%,#f7c2a2 1.8%,#f69e75 3.2%,#f4835b 4.2%,#f37852 4.8%,#f37852 5.5%,#f58b63 6.5%,#f5966c 6.8%,#f7ccaf 8.5%,#f9e2d0 9.5%,#fae6d6 10.1%,#f9e5d4 10.5%,#f9e0cd 10.8%,#f8d7c0 11.1%,#f6c19f 11.8%,#f6a178 12.5%,#f58d64 12.8%,#f16445 13.5%,#ec4a3e 13.8%,#e23442 14.1%,#d62449 14.5%,#c71951 14.8%,#b71657 15.1%,#9c1b5b 15.8%,#8b1d5b 16.4%,#781f59 18.1%,#731f58 19.4%,#7d1f5a 21.1%,#8c1d5b 22.4%,#9a1b5b 23.1%,#c41753 24.4%,#d72549 25.1%,#e73d3f 25.7%,#ef5a41 26.4%,#f4835b 27.4%,#f6a178 28.4%,#f6b089 29.1%,#f6b995 29.7%,#f6bb97 30.1%,#f6bb97 31.1%,#f6b18b 32.7%,#f5966c 35.4%,#f59067 35.7%,#f47f58 37.4%,#f37450 39%,#f37450 40%,#f4815a 41.4%,#f59970 43%,#f6bb97 46%,#f6bc99 54.7%,#f6b995 55.3%,#f6b38d 56%,#f59970 57.3%,#f58f66 57.6%,#f26f4c 58.3%,#f06043 58.6%,#ee523f 59%,#eb463e 59.3%,#df2f44 60%,#d3214b 60.6%,#bd1655 61.6%,#a3195b 62.6%,#8c1d5b 63.6%,#6b1f56 65.6%,#4c1d4b 67.6%,#37193f 69.6%,#251433 71.9%,#170f28 75.9%,#0b0920 82.9%,#07071d 88.5%,#06071c 99.8%)"></div>
<div class="r" style="top:355px;height:7px;background:linear-gradient(90deg,#f8d1b8 0.2%,#f7cfb3 0.5%,#f6be9b 1.5%,#f6a37a 2.5%,#f4865e 3.5%,#f37651 4.5%,#f37651 4.8%,#f47f58 5.5%,#f58f66 6.1%,#f6a47c 6.8%,#f7c6a6 7.8%,#f8d6be 8.5%,#f9e3d2 9.1%,#fae6d6 9.5%,#f9e3d2 10.1%,#f9ddc9 10.5%,#f8d4bc 10.8%,#f6bb97 11.5%,#f59970 12.1%,#f4845d 12.5%,#f26f4c 12.8%,#ef5840 13.1%,#e8403e 13.5%,#dd2c45 13.8%,#ce1d4e 14.1%,#bd1655 14.5%,#9f1a5b 15.1%,#8b1d5b 15.8%,#761f58 17.4%,#711f57 19.1%,#761f58 20.1%,#821e5a 21.4%,#8c1d5b 22.1%,#b01759 23.4%,#c51852 24.1%,#d11f4c 24.4%,#d92847 24.8%,#e8403e 25.4%,#ed503e 25.7%,#f05e42 26.1%,#f47a54 26.7%,#f59970 27.7%,#f6b089 28.7%,#f6b893 29.7%,#f6b893 30.4%,#f6ad85 32.4%,#f6a077 33.7%,#f58b63 35.4%,#f37852 37.4%,#f3714d 38.7%,#f3714d 39.4%,#f37450 40%,#f47c55 40.7%,#f6a37a 43.7%,#f6b38d 45%,#f6b893 45.7%,#f6b995 54%,#f6ae87 55.3%,#f69b71 56.3%,#f59269 56.6%,#f37450 57.3%,#f16646 57.6%,#ef5640 58%,#e73d3f 58.6%,#db2946 59.3%,#ce1d4e 60%,#bf1654 60.6%,#b91657 61%,#a4195b 61.6%,#8c1d5b 62.6%,#6b1f56 64.6%,#4c1d4b 66.6%,#2e1739 69.6%,#251433 70.9%,#180f29 74.3%,#0b0920 81.6%,#07071d 86.9%,#06071c 99.8%)"></div>
<div class="r" style="top:362px;height:6px;background:linear-gradient(90deg,#f7ccaf 0.2%,#f6c19f 0.8%,#f6b18b 1.5%,#f5946b 2.5%,#f4835b 3.2%,#f37852 3.8%,#f37651 4.5%,#f47a54 4.8%,#f58860 5.5%,#f69c73 6.1%,#f7c7a8 7.5%,#f8d1b8 7.8%,#f9dfcb 8.5%,#fae6d6 9.1%,#f9e2d0 9.8%,#f8dac5 10.1%,#f7c4a4 10.8%,#f6a47c 11.5%,#f59067 11.8%,#f16646 12.5%,#ec4c3e 12.8%,#e33641 13.1%,#d62449 13.5%,#c51852 13.8%,#b51657 14.1%,#8c1d5b 15.1%,#861e5b 15.4%,#731f58 17.1%,#6e1f57 18.4%,#781f59 20.1%,#871e5b 21.4%,#9e1a5b 22.4%,#bd1655 23.4%,#c81951 23.8%,#d2204c 24.1%,#e33641 24.8%,#ee543f 25.4%,#f26f4c 26.1%,#f58860 26.7%,#f69b71 27.4%,#f6ae87 28.4%,#f6b48f 29.1%,#f6b38d 30.4%,#f6ad85 31.4%,#f69e75 33.1%,#f47f58 35.7%,#f37450 37%,#f26d4b 38.7%,#f3734e 39.7%,#f47a54 40.4%,#f58d64 41.7%,#f5976e 42.7%,#f6b38d 45%,#f6b691 45.7%,#f6b691 53%,#f6b38d 53.7%,#f6ad85 54.3%,#f69c73 55.3%,#f58a61 56%,#f26b49 56.6%,#ef5a41 57%,#e8403e 57.6%,#dc2b46 58.3%,#ce1d4e 59%,#c11754 59.6%,#b01759 60.3%,#951c5b 61.3%,#871e5b 62%,#6b1f56 63.6%,#4c1d4b 65.6%,#35193e 67.6%,#221331 70.3%,#170f28 73.6%,#0b0920 80.2%,#06071c 89.2%,#06071c 99.8%)"></div>
<div class="r" style="top:368px;height:6px;background:linear-gradient(90deg,#f7c4a4 0.2%,#f6ad85 1.2%,#f59970 1.8%,#f47f58 2.8%,#f37651 3.5%,#f37651 4.2%,#f4835b 4.8%,#f5966c 5.5%,#f6ab83 6.1%,#f6c19f 6.8%,#f8d3ba 7.5%,#f9e0cd 8.1%,#f9e5d4 8.5%,#fae6d6 8.8%,#f9dfcb 9.5%,#f7ccaf 10.1%,#f6ae87 10.8%,#f58860 11.5%,#f3714d 11.8%,#ef5a41 12.1%,#e8403e 12.5%,#dc2b46 12.8%,#ce1d4e 13.1%,#bc1656 13.5%,#9c1b5b 14.1%,#901d5b 14.5%,#811e5a 15.1%,#701f57 16.8%,#6d1f56 18.1%,#711f57 19.1%,#7d1f5a 20.4%,#871e5b 21.1%,#9f1a5b 22.1%,#b51657 22.8%,#c11754 23.1%,#d5224a 23.8%,#e53940 24.4%,#ef5640 25.1%,#f3734e 25.7%,#f59269 26.7%,#f6a37a 27.4%,#f6b089 28.4%,#f6ae87 30.1%,#f6a880 31.1%,#f58a61 34.1%,#f4845d 34.4%,#f37852 35.7%,#f26d4b 37%,#f26b49 38.7%,#f37852 40%,#f58f66 41.7%,#f6a178 43.4%,#f6a67e 43.7%,#f6b18b 45%,#f6b18b 52.3%,#f6a880 53.7%,#f5946b 54.7%,#f47f58 55.3%,#f06043 56%,#ed503e 56.3%,#e9423e 56.6%,#dd2c45 57.3%,#cf1e4d 58%,#c21753 58.6%,#a8185a 59.6%,#871e5b 61%,#6b1f56 62.6%,#4b1d4a 64.6%,#381a40 66.3%,#251433 68.6%,#180f29 71.9%,#0b0920 78.9%,#06071c 87.5%,#06071c 99.8%)"></div>
<div class="r" style="top:374px;height:6px;background:linear-gradient(90deg,#f6b995 0.2%,#f69e75 1.2%,#f4835b 2.2%,#f37651 2.8%,#f37450 3.5%,#f37852 3.8%,#f4845d 4.5%,#f6a37a 5.5%,#f7c4a4 6.5%,#f8d6be 7.1%,#f9e2d0 7.8%,#f9e5d4 8.1%,#f9e2d0 8.8%,#f8dcc7 9.1%,#f8d3ba 9.5%,#f6b893 10.1%,#f59269 10.8%,#f16646 11.5%,#ec4c3e 11.8%,#e23442 12.1%,#d5224a 12.5%,#c41753 12.8%,#a3195b 13.5%,#931c5b 13.8%,#811e5a 14.5%,#6e1f57 16.1%,#691f55 17.4%,#701f57 18.8%,#811e5a 20.4%,#a11a5b 21.8%,#c21753 22.8%,#d72549 23.4%,#e73d3f 24.1%,#ec4c3e 24.4%,#f26747 25.1%,#f5946b 26.4%,#f6a67e 27.4%,#f6ad85 28.1%,#f6ad85 28.7%,#f6a47c 30.4%,#f5966c 32.1%,#f37852 34.7%,#f26747 37%,#f26747 38%,#f37651 39.7%,#f5966c 42.4%,#f6a37a 43.4%,#f6ad85 44.7%,#f6ae87 51.3%,#f6a67e 52.7%,#f5966c 53.7%,#f4835b 54.3%,#f16646 55%,#ee543f 55.3%,#eb463e 55.6%,#df2f44 56.3%,#d11f4c 57%,#c21753 57.6%,#aa185a 58.6%,#871e5b 60%,#6b1f56 61.6%,#501d4c 63.3%,#381a40 65.3%,#221331 68.3%,#1a102a 70.3%,#110c24 73.9%,#08081e 80.9%,#06071c 99.8%)"></div>
<div class="r" style="top:380px;height:6px;background:linear-gradient(90deg,#f6ae87 0.2%,#f59067 1.2%,#f37450 2.5%,#f3734e 2.8%,#f37852 3.5%,#f4865e 4.2%,#f69b71 4.8%,#f7c7a8 6.1%,#f9ddc9 7.1%,#f9e5d4 7.8%,#f9e0cd 8.5%,#f7cdb1 9.1%,#f6b089 9.8%,#f58a61 10.5%,#f3734e 10.8%,#ef5a41 11.1%,#e8403e 11.5%,#dc2b46 11.8%,#cb1b4f 12.1%,#ba1656 12.5%,#981b5b 13.1%,#8b1d5b 13.5%,#7b1f59 14.1%,#6d1f56 15.4%,#681f55 17.1%,#711f57 18.8%,#7b1f59 19.8%,#901d5b 20.8%,#a4195b 21.4%,#ba1656 22.1%,#c51852 22.4%,#d11f4c 22.8%,#d92847 23.1%,#e8403e 23.8%,#ed4e3e 24.1%,#f26b49 24.8%,#f5946b 26.1%,#f6a077 26.7%,#f6a880 27.4%,#f6a880 28.4%,#f69c73 30.4%,#f3734e 34.4%,#f26948 35.4%,#f16445 36.4%,#f16445 37.7%,#f37450 39.4%,#f47a54 39.7%,#f58f66 41.7%,#f6a077 43%,#f6a880 44%,#f6a981 51%,#f6a178 52%,#f58f66 53%,#f47a54 53.7%,#ef5a41 54.3%,#ec4a3e 54.7%,#d92847 55.6%,#d2204c 56%,#c41753 56.6%,#b51657 57.3%,#a3195b 58%,#981b5b 58.3%,#7b1f59 59.6%,#501d4c 62.3%,#37193f 64.3%,#221331 66.9%,#180f29 69.6%,#110c24 72.6%,#08081e 79.6%,#06071c 99.8%)"></div>
<div class="r" style="top:386px;height:6px;background:linear-gradient(90deg,#f6a178 0.2%,#f4845d 1.2%,#f3734e 2.2%,#f37450 2.8%,#f37852 3.2%,#f59269 4.2%,#f6a981 4.8%,#f7c9aa 5.8%,#f8d9c3 6.5%,#f9e3d2 7.1%,#f9e5d4 7.5%,#f9ddc9 8.1%,#f8d4bc 8.5%,#f7c9aa 8.8%,#f6a880 9.5%,#f47d57 10.1%,#f16646 10.5%,#ec4c3e 10.8%,#e23442 11.1%,#d3214b 11.5%,#c11754 11.8%,#af1759 12.1%,#8e1d5b 12.8%,#7b1f59 13.5%,#691f55 15.1%,#641f54 16.1%,#6b1f56 17.8%,#7b1f59 19.4%,#891e5b 20.1%,#9c1b5b 20.8%,#bd1655 21.8%,#c81951 22.1%,#dc2b46 22.8%,#ea443e 23.4%,#f06043 24.1%,#f26d4b 24.4%,#f4835b 25.1%,#f5946b 25.7%,#f69e75 26.4%,#f6a37a 27.1%,#f6a37a 28.1%,#f69e75 29.1%,#f3734e 33.4%,#f16445 35%,#f05e42 36.7%,#f16445 37.7%,#f3734e 39%,#f69b71 42.7%,#f6a47c 44%,#f6a37a 50.3%,#f6a077 51%,#f58860 52.3%,#f47f58 52.7%,#f3714d 53%,#f06043 53.3%,#ed503e 53.7%,#e8403e 54%,#e23442 54.3%,#d5224a 55%,#c51852 55.6%,#af1759 56.6%,#a4195b 57%,#891e5b 58%,#7b1f59 58.6%,#601f52 60.3%,#461c48 62%,#37193f 63.3%,#221331 65.9%,#1a102a 67.9%,#0e0b22 72.9%,#08081e 78.2%,#06071c 99.8%)"></div>
<div class="r" style="top:392px;height:6px;background:linear-gradient(90deg,#f5966c 0.2%,#f4835b 0.8%,#f37450 1.5%,#f3714d 2.2%,#f37852 2.8%,#f5946b 3.8%,#f6ab83 4.5%,#f7ccaf 5.5%,#f8d4bc 5.8%,#f9e0cd 6.5%,#f9e3d2 6.8%,#f9e3d2 7.1%,#f9e0cd 7.5%,#f8d9c3 7.8%,#f7c2a2 8.5%,#f6a077 9.1%,#f3734e 9.8%,#ef5840 10.1%,#e73d3f 10.5%,#d92847 10.8%,#c81951 11.1%,#b51657 11.5%,#931c5b 12.1%,#7b1f59 12.8%,#711f57 13.5%,#641f54 14.8%,#611f53 15.8%,#691f55 17.4%,#7b1f59 19.1%,#9f1a5b 20.4%,#c11754 21.4%,#cb1b4f 21.8%,#d62449 22.1%,#e63b40 22.8%,#eb483e 23.1%,#f16445 23.8%,#f47a54 24.4%,#f4845d 24.8%,#f59970 25.7%,#f6a077 26.7%,#f5966c 29.1%,#f3734e 32.4%,#f16646 33.7%,#f05e42 34.7%,#ef5a41 36.4%,#f06043 37.4%,#f26b49 38.4%,#f47c55 39.7%,#f4845d 40.7%,#f58a61 41%,#f69b71 42.7%,#f6a077 43.7%,#f6a077 49.3%,#f5966c 50.7%,#f58860 51.3%,#f37651 52%,#ef5640 52.7%,#eb463e 53%,#d72549 54%,#c71951 54.7%,#bf1654 55%,#b91657 55.3%,#9e1a5b 56.3%,#931c5b 56.6%,#761f58 58%,#611f53 59.3%,#461c48 61%,#31183b 63%,#221331 65%,#180f29 67.3%,#110c24 70.3%,#08081e 76.9%,#06071c 99.8%)"></div>
<div class="r" style="top:398px;height:7px;background:linear-gradient(90deg,#f58a61 0.2%,#f47a54 0.8%,#f3714d 1.5%,#f26f4c 1.8%,#f37852 2.5%,#f5966c 3.5%,#f6ad85 4.2%,#f7c4a4 4.8%,#f8d6be 5.5%,#f9e2d0 6.1%,#f9e3d2 6.8%,#f8d6be 7.5%,#f6bb97 8.1%,#f5946b 8.8%,#f16445 9.5%,#eb483e 9.8%,#df2f44 10.1%,#cf1e4d 10.5%,#bc1656 10.8%,#a8185a 11.1%,#871e5b 11.8%,#7d1f5a 12.1%,#751f58 12.5%,#691f55 13.5%,#601f52 14.8%,#611f53 16.1%,#6e1f57 17.8%,#761f58 18.4%,#8e1d5b 19.4%,#a3195b 20.1%,#b91657 20.8%,#c51852 21.1%,#d82748 21.8%,#e13342 22.1%,#ec4c3e 22.8%,#ef5a41 23.1%,#f3714d 23.8%,#f47c55 24.1%,#f59269 25.1%,#f69b71 26.1%,#f59970 27.1%,#f58f66 28.7%,#f16646 32.7%,#ef5a41 34.1%,#ef5640 35%,#ef5640 36%,#ef5a41 36.7%,#f47a54 39.7%,#f58d64 41.4%,#f5966c 42.4%,#f69b71 43.4%,#f69b71 48.7%,#f5946b 49.7%,#f58a61 50.3%,#f47a54 51%,#f26f4c 51.3%,#ed4e3e 52%,#e83f3f 52.3%,#d92847 53%,#ca1a50 53.7%,#c21753 54%,#aa185a 55%,#861e5b 56.3%,#711f57 57.3%,#511e4d 59.3%,#37193f 61.3%,#281535 63%,#1e122d 64.6%,#0e0b22 70.6%,#08081e 75.6%,#06071c 99.8%)"></div>
<div class="r" style="top:405px;height:6px;background:linear-gradient(90deg,#f47f58 0.2%,#f26f4c 1.2%,#f26f4c 1.5%,#f37852 2.2%,#f58b63 2.8%,#f6a37a 3.5%,#f7d0b5 4.8%,#f9ddc9 5.5%,#f9e2d0 5.8%,#f9e3d2 6.1%,#f8dac5 6.8%,#f7c2a2 7.5%,#f69e75 8.1%,#f26f4c 8.8%,#ee543f 9.1%,#e43841 9.5%,#d5224a 9.8%,#c21753 10.1%,#ad1759 10.5%,#891e5b 11.1%,#751f58 11.8%,#6b1f56 12.5%,#5e1f52 13.8%,#5c1e51 15.1%,#641f54 16.4%,#711f57 17.8%,#871e5b 18.8%,#9c1b5b 19.4%,#bd1655 20.4%,#c81951 20.8%,#dc2b46 21.4%,#e9423e 22.1%,#ed503e 22.4%,#f26948 23.1%,#f47d57 23.8%,#f58b63 24.4%,#f5946b 25.1%,#f5966c 25.4%,#f5966c 26.1%,#f58860 28.4%,#f26747 31.4%,#f16646 31.7%,#ef5840 33.1%,#ed503e 34.4%,#ed503e 35.4%,#f06043 37.4%,#f37852 39.7%,#f58860 41%,#f59269 42.4%,#f5946b 43%,#f5946b 48%,#f58d64 49%,#f47c55 50%,#f26747 50.7%,#ef5640 51%,#ea443e 51.3%,#e33641 51.7%,#d5224a 52.3%,#c41753 53%,#b41658 53.7%,#a4195b 54.3%,#871e5b 55.3%,#6d1f56 56.6%,#4c1d4b 58.6%,#37193f 60.3%,#281535 62%,#1e122d 63.6%,#0e0b22 69.3%,#08081e 74.3%,#06071c 99.8%)"></div>
<div class="r" style="top:411px;height:6px;background:linear-gradient(90deg,#f37651 0.2%,#f26d4b 0.8%,#f26d4b 1.2%,#f3714d 1.5%,#f4815a 2.2%,#f5976e 2.8%,#f7c9aa 4.2%,#f8dac5 4.8%,#f9e3d2 5.5%,#f9e2d0 5.8%,#f9ddc9 6.1%,#f8d6be 6.5%,#f7c9aa 6.8%,#f6a67e 7.5%,#f37852 8.1%,#f05e42 8.5%,#e8403e 8.8%,#d92847 9.1%,#c71951 9.5%,#b21758 9.8%,#8c1d5b 10.5%,#7d1f5a 10.8%,#731f58 11.1%,#641f54 12.1%,#5e1f52 12.8%,#591e50 13.5%,#591e50 14.5%,#661f54 16.4%,#731f58 17.4%,#821e5a 18.1%,#a11a5b 19.1%,#b71657 19.8%,#c21753 20.1%,#d72549 20.8%,#eb483e 21.8%,#ee543f 22.1%,#f26b49 22.8%,#f47d57 23.4%,#f58a61 24.1%,#f58f66 24.8%,#f58f66 25.7%,#f4865e 27.4%,#f47a54 28.7%,#f26b49 30.1%,#ef5840 31.7%,#ec4a3e 33.7%,#eb483e 34.7%,#ed503e 36%,#f16646 38%,#f58a61 41.7%,#f58b63 47.3%,#f58860 48%,#f4815a 48.7%,#f47a54 49%,#f26b49 49.7%,#f05e42 50%,#ec4c3e 50.3%,#e73d3f 50.7%,#df2f44 51%,#d72549 51.3%,#bd1655 52.3%,#9e1a5b 53.7%,#7a1f59 55%,#681f55 56%,#431c46 58.3%,#34193d 59.6%,#211330 62%,#140e26 65.6%,#08081e 72.9%,#06071c 99.8%)"></div>
<div class="r" style="top:417px;height:6px;background:linear-gradient(90deg,#f26f4c 0.2%,#f26b49 0.8%,#f37651 1.5%,#f58b63 2.2%,#f59970 2.5%,#f6b38d 3.2%,#f7ccaf 3.8%,#f8dcc7 4.5%,#f9e3d2 5.1%,#f8dac5 5.8%,#f6c19f 6.5%,#f69b71 7.1%,#f4835b 7.5%,#f26747 7.8%,#ec4a3e 8.1%,#df2f44 8.5%,#cd1c4e 8.8%,#b71657 9.1%,#8e1d5b 9.8%,#731f58 10.5%,#6b1f56 10.8%,#591e50 12.5%,#561e4f 13.8%,#5c1e51 15.1%,#691f55 16.4%,#7d1f5a 17.4%,#9a1b5b 18.4%,#bc1656 19.4%,#d2204c 20.1%,#e83f3f 21.1%,#ec4c3e 21.4%,#f16244 22.1%,#f26d4b 22.4%,#f47c55 23.1%,#f4865e 23.8%,#f58a61 25.1%,#f4835b 26.4%,#f3714d 28.4%,#f05e42 30.1%,#eb483e 32.1%,#e9423e 33.1%,#e9423e 34.4%,#ec4a3e 35.7%,#f06043 37.7%,#f47d57 40.7%,#f4835b 41.7%,#f4835b 47%,#f37852 48%,#f3714d 48.3%,#f16244 49%,#ea443e 49.7%,#e23442 50%,#db2946 50.3%,#ca1a50 51%,#c11754 51.3%,#9f1a5b 52.7%,#7b1f59 54%,#6e1f57 54.7%,#401b44 57.6%,#34193d 58.6%,#211330 61%,#140e26 64.3%,#08081e 71.6%,#06071c 99.8%)"></div>
<div class="r" style="top:423px;height:6px;background:linear-gradient(90deg,#f26b49 0.2%,#f26948 0.5%,#f26d4b 0.8%,#f47f58 1.5%,#f6a880 2.5%,#f7cfb3 3.5%,#f9ddc9 4.2%,#f9e2d0 4.5%,#f9e2d0 4.8%,#f9ddc9 5.1%,#f8d4bc 5.5%,#f6b691 6.1%,#f6a37a 6.5%,#f3714d 7.1%,#ee543f 7.5%,#e33641 7.8%,#d2204c 8.1%,#bc1656 8.5%,#a4195b 8.8%,#901d5b 9.1%,#711f57 9.8%,#691f55 10.1%,#5c1e51 11.1%,#511e4d 12.8%,#591e50 14.5%,#611f53 15.4%,#6b1f56 16.1%,#821e5a 17.1%,#a11a5b 18.1%,#c21753 19.1%,#d62449 19.8%,#dd2c45 20.1%,#e9423e 20.8%,#ed4e3e 21.1%,#f16445 21.8%,#f37450 22.4%,#f4835b 23.4%,#f4835b 24.8%,#f37852 26.4%,#f05e42 28.7%,#ea443e 31.1%,#e63b40 32.7%,#e63b40 34.1%,#ea443e 35.4%,#ef5840 37.4%,#f3734e 40%,#f47a54 41%,#f47a54 46.3%,#f37450 47%,#f26948 47.7%,#ef5840 48.3%,#ec4a3e 48.7%,#dd2c45 49.3%,#d5224a 49.7%,#c21753 50.3%,#b01759 51%,#a11a5b 51.7%,#7d1f5a 53%,#691f55 54%,#401b44 56.6%,#34193d 57.6%,#211330 60%,#110c24 64.3%,#08081e 70.3%,#06071c 99.8%)"></div>
<div class="r" style="top:429px;height:6px;background:linear-gradient(90deg,#f26747 0.2%,#f26b49 0.5%,#f47f58 1.2%,#f69b71 1.8%,#f7c6a6 2.8%,#f8d9c3 3.5%,#f9e0cd 3.8%,#f9e2d0 4.2%,#f9e0cd 4.5%,#f8d9c3 4.8%,#f7cfb3 5.1%,#f6bf9d 5.5%,#f5966c 6.1%,#f47c55 6.5%,#f05e42 6.8%,#e83f3f 7.1%,#d72549 7.5%,#c21753 7.8%,#aa185a 8.1%,#931c5b 8.5%,#711f57 9.1%,#681f55 9.5%,#591e50 10.5%,#531e4d 11.1%,#4e1d4b 12.5%,#5e1f52 14.8%,#6e1f57 15.8%,#861e5b 16.8%,#a6195a 17.8%,#bc1656 18.4%,#d11f4c 19.1%,#e03143 19.8%,#eb463e 20.4%,#f05c42 21.1%,#f3734e 22.1%,#f47c55 22.8%,#f47c55 24.1%,#f26f4c 26.1%,#ed503e 28.7%,#e63b40 30.7%,#e23442 32.1%,#e13342 33.1%,#e63b40 34.7%,#ed503e 37%,#f26b49 39.7%,#f3714d 40.7%,#f3714d 45.3%,#f26b49 46.3%,#ef5840 47.3%,#e9423e 48%,#d82748 48.7%,#c51852 49.3%,#aa185a 50.3%,#891e5b 51.7%,#691f55 53%,#591e50 54%,#34193d 56.6%,#251433 58.3%,#180f29 60.6%,#0b0920 66.3%,#06071c 72.6%,#06071c 99.8%)"></div>
<div class="r" style="top:435px;height:6px;background:linear-gradient(90deg,#f26948 0.2%,#f47d57 0.8%,#f69b71 1.5%,#f8d3ba 2.8%,#f8dcc7 3.2%,#f9e2d0 3.8%,#f9ddc9 4.2%,#f8d4bc 4.5%,#f7c7a8 4.8%,#f6b691 5.1%,#f6a077 5.5%,#f26b49 6.1%,#ec4a3e 6.5%,#de2e44 6.8%,#ca1a50 7.1%,#b01759 7.5%,#981b5b 7.8%,#841e5a 8.1%,#731f58 8.5%,#681f55 8.8%,#531e4d 10.1%,#4b1d4a 11.5%,#511e4d 13.1%,#631f53 14.8%,#701f57 15.4%,#811e5a 16.1%,#9f1a5b 17.1%,#c11754 18.1%,#d3214b 18.8%,#e83f3f 19.8%,#f05c42 20.8%,#f26b49 21.4%,#f37450 22.1%,#f37651 23.4%,#f26f4c 24.8%,#f16646 25.7%,#ec4c3e 27.7%,#e23442 30.1%,#dd2c45 31.7%,#dd2c45 32.7%,#e23442 34.4%,#ed503e 37.7%,#f06043 39%,#f16646 40%,#f26747 44.7%,#f16244 45.7%,#eb463e 47%,#e53940 47.3%,#d3214b 48%,#bf1654 48.7%,#a3195b 49.7%,#8c1d5b 50.7%,#711f57 51.7%,#641f54 52.3%,#381a40 55.3%,#31183b 56%,#1e122d 58.3%,#180f29 59.6%,#0b0920 65%,#06071c 71.3%,#06071c 99.8%)"></div>
<div class="r" style="top:441px;height:6px;background:linear-gradient(90deg,#f26f4c 0.2%,#f58a61 0.8%,#f6ab83 1.5%,#f7c9aa 2.2%,#f8d4bc 2.5%,#f9ddc9 2.8%,#f9e2d0 3.2%,#f9e0cd 3.5%,#f8dac5 3.8%,#f7cfb3 4.2%,#f6ad85 4.8%,#f37852 5.5%,#ef5a41 5.8%,#e53940 6.1%,#d2204c 6.5%,#ba1656 6.8%,#a11a5b 7.1%,#891e5b 7.5%,#761f58 7.8%,#681f55 8.1%,#601f52 8.5%,#511e4d 9.5%,#481c48 10.8%,#491d49 11.8%,#4e1d4b 12.5%,#561e4f 13.5%,#641f54 14.5%,#7b1f59 15.4%,#a4195b 16.8%,#ba1656 17.4%,#c51852 17.8%,#d62449 18.4%,#de2e44 18.8%,#e8403e 19.4%,#f05c42 20.4%,#f16445 20.8%,#f26d4b 21.4%,#f3714d 22.1%,#f26f4c 23.1%,#f16646 24.4%,#f05c42 25.4%,#ed4e3e 26.4%,#e03143 29.1%,#d82748 31.1%,#d82748 32.4%,#dd2c45 33.7%,#e9423e 36.7%,#f05c42 39.4%,#f05c42 44.7%,#ee543f 45.3%,#e83f3f 46.3%,#e13342 46.7%,#ce1d4e 47.3%,#c41753 47.7%,#af1759 48.3%,#861e5b 50%,#731f58 50.7%,#601f52 51.7%,#4c1d4b 53%,#31183b 55%,#1e122d 57.3%,#180f29 58.6%,#0b0920 64%,#06071c 69.9%,#06071c 99.8%)"></div>
<div class="r" style="top:447px;height:7px;background:linear-gradient(90deg,#f37852 0.2%,#f59970 0.8%,#f6bb97 1.5%,#f8d6be 2.2%,#f9ddc9 2.5%,#f9e0cd 2.8%,#f9dfcb 3.2%,#f8d7c0 3.5%,#f6b995 4.2%,#f58a61 4.8%,#f26b49 5.1%,#ec4a3e 5.5%,#dc2b46 5.8%,#c51852 6.1%,#ab185a 6.5%,#7d1f5a 7.1%,#6b1f56 7.5%,#601f52 7.8%,#541e4e 8.5%,#4c1d4b 9.1%,#451c47 10.1%,#461c48 11.1%,#4c1d4b 12.1%,#561e4f 13.1%,#601f52 13.8%,#761f58 14.8%,#891e5b 15.4%,#aa185a 16.4%,#bf1654 17.1%,#d11f4c 17.8%,#e53940 18.8%,#ec4c3e 19.4%,#f05c42 20.1%,#f26948 21.1%,#f16646 23.1%,#ef5a41 24.4%,#e8403e 26.4%,#db2946 28.7%,#d3214b 30.4%,#d3214b 32.1%,#dd2c45 34.4%,#e53940 36.4%,#e8403e 37%,#ed4e3e 38.4%,#ee543f 39.4%,#ee523f 44%,#ec4c3e 44.7%,#e43841 45.7%,#d3214b 46.3%,#c81951 46.7%,#bd1655 47%,#9f1a5b 48%,#891e5b 49%,#6e1f57 50%,#561e4f 51.3%,#2e1739 54.3%,#1e122d 56.3%,#180f29 57.6%,#0b0920 62.6%,#06071c 68.6%,#06071c 99.8%)"></div>
<div class="r" style="top:454px;height:6px;background:linear-gradient(90deg,#f4845d 0.2%,#f6a981 0.8%,#f6bb97 1.2%,#f8d6be 1.8%,#f9ddc9 2.2%,#f9e0cd 2.5%,#f9ddc9 2.8%,#f8d4bc 3.2%,#f7c6a6 3.5%,#f6b38d 3.8%,#f69c73 4.2%,#f47f58 4.5%,#f06043 4.8%,#e73d3f 5.1%,#d3214b 5.5%,#ba1656 5.8%,#9f1a5b 6.1%,#861e5b 6.5%,#711f57 6.8%,#631f53 7.1%,#591e50 7.5%,#4b1d4a 8.5%,#421b45 9.8%,#461c48 11.1%,#4e1d4b 12.1%,#611f53 13.5%,#8c1d5b 15.1%,#a3195b 15.8%,#c21753 16.8%,#d3214b 17.4%,#e13342 18.1%,#ea443e 18.8%,#ee543f 19.4%,#f16244 20.4%,#f16445 21.8%,#ef5840 23.4%,#e8403e 25.4%,#d5224a 28.4%,#cf1e4d 29.4%,#cd1c4e 30.7%,#d2204c 32.7%,#dd2c45 35%,#ea443e 37.7%,#ec4c3e 39%,#ec4a3e 43.4%,#e83f3f 44.4%,#e03143 45%,#d92847 45.3%,#c41753 46%,#b91657 46.3%,#9a1b5b 47.3%,#8b1d5b 48%,#691f55 49.3%,#581e4f 50.3%,#37193f 52.7%,#281535 54%,#180f29 56.6%,#0b0920 61.6%,#06071c 67.3%,#06071c 99.8%)"></div>
<div class="r" style="top:460px;height:6px;background:linear-gradient(90deg,#f59269 0.2%,#f6b893 0.8%,#f8d3ba 1.5%,#f8dcc7 1.8%,#f9dfcb 2.2%,#f8dcc7 2.5%,#f8d3ba 2.8%,#f7c4a4 3.2%,#f6b089 3.5%,#f5966c 3.8%,#f47a54 4.2%,#ef5840 4.5%,#e23442 4.8%,#cd1c4e 5.1%,#b01759 5.5%,#7d1f5a 6.1%,#691f55 6.5%,#5c1e51 6.8%,#541e4e 7.1%,#461c48 8.1%,#3f1b43 9.1%,#401b44 10.1%,#561e4f 12.5%,#7b1f59 14.1%,#9a1b5b 15.1%,#ba1656 16.1%,#ce1d4e 16.8%,#e23442 17.8%,#ea443e 18.4%,#ee523f 19.1%,#f05c42 19.8%,#f06043 20.8%,#ef5640 22.4%,#ea443e 24.1%,#db2946 26.4%,#d11f4c 27.7%,#c81951 29.4%,#c81951 31.1%,#d2204c 33.4%,#dc2b46 35.4%,#ea443e 38.4%,#ea443e 42.7%,#e83f3f 43.4%,#dd2c45 44.4%,#d62449 44.7%,#bf1654 45.3%,#aa185a 46%,#951c5b 46.7%,#861e5b 47.3%,#6d1f56 48.3%,#591e50 49.3%,#37193f 51.7%,#30173a 52.3%,#211330 54%,#140e26 56.6%,#0b0920 60.3%,#06071c 65.9%,#06071c 99.8%)"></div>
<div class="r" style="top:466px;height:6px;background:linear-gradient(90deg,#f69e75 0.2%,#f6b18b 0.5%,#f7cfb3 1.2%,#f8d7c0 1.5%,#f8dac5 1.8%,#f8d7c0 2.2%,#f7cdb1 2.5%,#f6be9b 2.8%,#f6a981 3.2%,#f58f66 3.5%,#f3714d 3.8%,#ec4c3e 4.2%,#dc2b46 4.5%,#c41753 4.8%,#a6195a 5.1%,#8b1d5b 5.5%,#731f58 5.8%,#611f53 6.1%,#561e4f 6.5%,#461c48 7.5%,#3c1a42 8.8%,#431c46 10.5%,#4c1d4b 11.5%,#5c1e51 12.5%,#891e5b 14.1%,#aa185a 15.1%,#bf1654 15.8%,#c81951 16.1%,#de2e44 17.1%,#e83f3f 17.8%,#ed4e3e 18.4%,#ef5a41 19.4%,#ef5a41 20.4%,#ee523f 21.8%,#ea443e 23.1%,#db2946 25.4%,#c81951 27.7%,#c41753 28.7%,#c21753 30.4%,#c81951 32.1%,#d5224a 34.7%,#e23442 36.7%,#e83f3f 38.4%,#e83f3f 41.7%,#e43841 42.7%,#d92847 43.7%,#c51852 44.4%,#b91657 44.7%,#981b5b 45.7%,#871e5b 46.3%,#601f52 48%,#381a40 50.7%,#211330 53%,#180f29 54.3%,#0b0920 59.3%,#06071c 64.6%,#06071c 99.8%)"></div>
<div class="r" style="top:472px;height:6px;background:linear-gradient(90deg,#f6a67e 0.2%,#f7c6a6 0.8%,#f7cfb3 1.2%,#f8d3ba 1.5%,#f7d0b5 1.8%,#f7c6a6 2.2%,#f6b691 2.5%,#f6a178 2.8%,#f4865e 3.2%,#f16646 3.5%,#e8403e 3.8%,#d5224a 4.2%,#ba1656 4.5%,#9c1b5b 4.8%,#811e5a 5.1%,#6b1f56 5.5%,#5b1e51 5.8%,#501d4c 6.1%,#461c48 6.8%,#3a1a41 8.1%,#3d1a42 9.5%,#481c48 10.8%,#511e4d 11.5%,#6e1f57 12.8%,#8c1d5b 13.8%,#a3195b 14.5%,#c21753 15.4%,#cd1c4e 15.8%,#db2946 16.4%,#e8403e 17.4%,#ed4e3e 18.1%,#ef5640 18.8%,#ef5640 19.8%,#ed4e3e 21.1%,#e8403e 22.4%,#de2e44 24.1%,#d2204c 25.4%,#ca1a50 26.4%,#bf1654 28.1%,#bc1656 28.7%,#bd1655 30.7%,#c81951 33.1%,#d3214b 35%,#e43841 37.7%,#e43841 41.4%,#e13342 42%,#d5224a 43%,#bf1654 43.7%,#a6195a 44.4%,#891e5b 45.3%,#611f53 47%,#501d4c 48%,#30173a 50.3%,#1e122d 52.3%,#140e26 54.3%,#0b0920 58%,#06071c 63.3%,#06071c 99.8%)"></div>
<div class="r" style="top:478px;height:6px;background:linear-gradient(90deg,#f6ab83 0.2%,#f6b995 0.5%,#f7c2a2 0.8%,#f7c7a8 1.2%,#f7c6a6 1.5%,#f6bc99 1.8%,#f6ad85 2.2%,#f5976e 2.5%,#f47c55 2.8%,#ef5a41 3.2%,#e33641 3.5%,#cd1c4e 3.8%,#af1759 4.2%,#921c5b 4.5%,#761f58 4.8%,#531e4d 5.5%,#461c48 6.1%,#37193f 7.8%,#3c1a42 9.1%,#481c48 10.5%,#511e4d 11.1%,#681f55 12.1%,#861e5b 13.1%,#a8185a 14.1%,#bd1655 14.8%,#cf1e4d 15.4%,#e73d3f 16.8%,#ec4a3e 17.4%,#ee523f 18.1%,#ee523f 19.1%,#ec4a3e 20.4%,#e73d3f 21.8%,#dc2b46 23.4%,#cf1e4d 24.8%,#c41753 26.1%,#b51657 28.4%,#ba1656 31.1%,#c41753 33.1%,#cf1e4d 35%,#df2f44 37%,#e03143 40.7%,#dd2c45 41.4%,#cf1e4d 42.4%,#b71657 43%,#9f1a5b 43.7%,#821e5a 44.7%,#631f53 46%,#461c48 47.7%,#30173a 49.3%,#1e122d 51.3%,#0e0b22 55.3%,#06071c 62%,#06071c 99.8%)"></div>
<div class="r" style="top:484px;height:6px;background:linear-gradient(90deg,#f6a981 0.2%,#f6b995 0.8%,#f6b995 1.2%,#f6b089 1.5%,#f6a178 1.8%,#f58b63 2.2%,#f26f4c 2.5%,#ec4c3e 2.8%,#dd2c45 3.2%,#c41753 3.5%,#a4195b 3.8%,#6e1f57 4.5%,#5b1e51 4.8%,#4e1d4b 5.1%,#461c48 5.5%,#3a1a41 6.5%,#34193d 7.5%,#3a1a41 8.8%,#461c48 10.1%,#511e4d 10.8%,#711f57 12.1%,#871e5b 12.8%,#a8185a 13.8%,#bd1655 14.5%,#d11f4c 15.1%,#e73d3f 16.4%,#ec4a3e 17.1%,#ed4e3e 18.4%,#eb483e 19.4%,#e43841 21.1%,#d5224a 23.1%,#c81951 24.4%,#b71657 26.4%,#af1759 28.4%,#b21758 30.4%,#c41753 34.1%,#db2946 36.7%,#db2946 40.4%,#d11f4c 41.4%,#ca1a50 41.7%,#bf1654 42%,#a4195b 42.7%,#841e5a 43.7%,#5c1e51 45.3%,#4b1d4a 46.3%,#34193d 48%,#1b112b 50.7%,#110c24 53%,#08081e 57.3%,#06071c 60.6%,#06071c 99.8%)"></div>
<div class="r" style="top:490px;height:6px;background:linear-gradient(90deg,#f6a37a 0.2%,#f6a981 0.5%,#f6a981 0.8%,#f6a37a 1.2%,#f5946b 1.5%,#f47f58 1.8%,#f16244 2.2%,#e8403e 2.5%,#d62449 2.8%,#ba1656 3.2%,#9c1b5b 3.5%,#7f1e5a 3.8%,#541e4e 4.5%,#481c48 4.8%,#431c46 5.1%,#3a1a41 5.8%,#33183c 6.8%,#381a40 8.5%,#501d4c 10.5%,#661f54 11.5%,#8c1d5b 12.8%,#a3195b 13.5%,#ba1656 14.1%,#ce1d4e 14.8%,#d72549 15.1%,#e33641 15.8%,#eb483e 16.8%,#ec4a3e 17.8%,#e83f3f 19.1%,#e53940 19.4%,#df2f44 20.4%,#ca1a50 23.1%,#bd1655 24.4%,#ad1759 26.4%,#aa185a 27.4%,#aa185a 29.4%,#b01759 31.4%,#bf1654 34.1%,#ca1a50 35%,#d5224a 36%,#d82748 36.7%,#d82748 39.4%,#d5224a 40%,#cd1c4e 40.7%,#c51852 41%,#b91657 41.4%,#9e1a5b 42%,#871e5b 42.7%,#5e1f52 44.4%,#511e4d 45%,#2d1738 47.7%,#1b112b 49.7%,#0e0b22 53%,#06071c 59.3%,#06071c 99.8%)"></div>
<div class="r" style="top:496px;height:7px;background:linear-gradient(90deg,#f5966c 0.2%,#f59970 0.5%,#f5946b 0.8%,#f4865e 1.2%,#f3714d 1.5%,#ef5640 1.8%,#e33641 2.2%,#ce1d4e 2.5%,#b21758 2.8%,#931c5b 3.2%,#611f53 3.8%,#501d4c 4.2%,#451c47 4.5%,#3f1b43 4.8%,#31183b 6.1%,#30173a 6.8%,#37193f 8.1%,#401b44 9.1%,#4e1d4b 10.1%,#631f53 11.1%,#7d1f5a 12.1%,#921c5b 12.8%,#ab185a 13.5%,#c41753 14.1%,#d72549 14.8%,#e83f3f 15.8%,#ea443e 16.1%,#eb463e 16.8%,#e83f3f 17.8%,#d5224a 20.4%,#c41753 22.4%,#aa185a 25.4%,#a3195b 27.1%,#a4195b 29.7%,#b51657 33.4%,#c21753 34.7%,#d5224a 36.4%,#d5224a 38.7%,#d2204c 39.4%,#c11754 40.4%,#b51657 40.7%,#981b5b 41.4%,#7a1f59 42.4%,#531e4d 44%,#2e1739 46.7%,#1b112b 48.7%,#0e0b22 52%,#08081e 55%,#06071c 58%,#06071c 99.8%)"></div>
<div class="r" style="top:503px;height:6px;background:linear-gradient(90deg,#f4845d 0.2%,#f4835b 0.5%,#f37651 0.8%,#f16445 1.2%,#eb483e 1.5%,#dd2c45 1.8%,#c71951 2.2%,#aa185a 2.5%,#8c1d5b 2.8%,#711f57 3.2%,#5b1e51 3.5%,#4b1d4a 3.8%,#401b44 4.2%,#37193f 4.8%,#2e1739 6.1%,#35193e 7.8%,#4c1d4b 9.8%,#761f58 11.8%,#9a1b5b 12.8%,#b51657 13.5%,#c21753 13.8%,#d72549 14.5%,#e43841 15.1%,#e9423e 15.8%,#e9423e 16.1%,#e83f3f 16.8%,#d62449 18.8%,#c81951 20.4%,#bf1654 21.4%,#a6195a 24.4%,#9c1b5b 26.7%,#9f1a5b 29.7%,#b01759 33.4%,#b51657 34.1%,#c51852 35%,#d11f4c 36%,#d2204c 38%,#cf1e4d 38.7%,#c71951 39.4%,#bf1654 39.7%,#b41658 40%,#a4195b 40.4%,#8b1d5b 41%,#761f58 41.7%,#701f57 42%,#5e1f52 42.7%,#4b1d4a 43.7%,#2b1637 46%,#211330 47%,#180f29 48.3%,#0e0b22 51%,#06071c 57%,#06071c 99.8%)"></div>
<div class="r" style="top:509px;height:6px;background:linear-gradient(90deg,#f3714d 0.2%,#f26747 0.5%,#ee543f 0.8%,#e73d3f 1.2%,#d72549 1.5%,#c11754 1.8%,#a4195b 2.2%,#871e5b 2.5%,#6d1f56 2.8%,#581e4f 3.2%,#481c48 3.5%,#3d1a42 3.8%,#381a40 4.2%,#2d1738 5.5%,#2d1738 6.5%,#31183b 7.1%,#401b44 8.8%,#4e1d4b 9.8%,#701f57 11.5%,#891e5b 12.1%,#b41658 13.1%,#c21753 13.5%,#d72549 14.1%,#e33641 14.8%,#e63b40 15.1%,#e73d3f 15.8%,#e63b40 16.1%,#dd2c45 17.1%,#d5224a 17.8%,#c81951 18.8%,#bf1654 19.8%,#a4195b 23.1%,#981b5b 25.1%,#951c5b 26.4%,#981b5b 29.4%,#a4195b 32.4%,#ad1759 33.7%,#bf1654 34.7%,#ce1d4e 35.7%,#ce1d4e 38%,#c71951 38.7%,#bf1654 39%,#b51657 39.4%,#8b1d5b 40.4%,#761f58 41%,#5c1e51 42%,#491d49 43%,#221331 46%,#180f29 47.3%,#0e0b22 50%,#06071c 55.6%,#06071c 99.8%)"></div>
<div class="r" style="top:515px;height:6px;background:linear-gradient(90deg,#ef5640 0.2%,#eb463e 0.5%,#e13342 0.8%,#d11f4c 1.2%,#ba1656 1.5%,#9f1a5b 1.8%,#841e5a 2.2%,#561e4f 2.8%,#451c47 3.2%,#3c1a42 3.5%,#33183c 4.2%,#2a1636 5.5%,#2b1637 6.1%,#3a1a41 8.1%,#491d49 9.5%,#591e50 10.5%,#691f55 11.1%,#751f58 11.5%,#a11a5b 12.5%,#c11754 13.1%,#cd1c4e 13.5%,#d62449 13.8%,#e23442 14.5%,#e43841 15.1%,#e13342 15.8%,#db2946 16.4%,#cb1b4f 17.4%,#bc1656 18.4%,#9f1a5b 22.1%,#901d5b 25.1%,#8e1d5b 26.1%,#931c5b 29.7%,#9f1a5b 32.4%,#aa185a 33.7%,#bf1654 34.7%,#c71951 35%,#ce1d4e 35.7%,#cd1c4e 37.7%,#ba1656 38.7%,#ab185a 39%,#8e1d5b 39.7%,#781f59 40.4%,#661f54 41%,#491d49 42.4%,#31183b 44%,#221331 45.3%,#140e26 47.3%,#0b0920 50.3%,#06071c 54.7%,#06071c 99.8%)"></div>
<div class="r" style="top:521px;height:6px;background:linear-gradient(90deg,#e53940 0.2%,#dc2b46 0.5%,#cb1b4f 0.8%,#b51657 1.2%,#9c1b5b 1.5%,#821e5a 1.8%,#691f55 2.2%,#541e4e 2.5%,#451c47 2.8%,#3a1a41 3.2%,#34193d 3.5%,#281535 5.1%,#2b1637 6.1%,#3a1a41 8.1%,#561e4f 10.5%,#6b1f56 11.1%,#781f59 11.5%,#891e5b 11.8%,#aa185a 12.5%,#ba1656 12.8%,#c81951 13.1%,#db2946 13.8%,#e13342 14.5%,#e13342 14.8%,#dc2b46 15.4%,#d2204c 16.1%,#bd1655 17.1%,#ab185a 18.4%,#981b5b 21.1%,#8e1d5b 23.1%,#871e5b 25.4%,#871e5b 27.1%,#8c1d5b 29.4%,#9f1a5b 33.1%,#a8185a 33.7%,#ba1656 34.4%,#ca1a50 35%,#ce1d4e 35.7%,#ce1d4e 37%,#c11754 38%,#b71657 38.4%,#971c5b 39%,#7d1f5a 39.7%,#611f53 40.7%,#4b1d4a 41.7%,#251433 44.4%,#140e26 46.7%,#0e0b22 48.3%,#06071c 53.7%,#06071c 99.8%)"></div>
<div class="r" style="top:527px;height:6px;background:linear-gradient(90deg,#d2204c 0.2%,#c21753 0.5%,#ad1759 0.8%,#971c5b 1.2%,#7d1f5a 1.5%,#531e4d 2.2%,#431c46 2.5%,#381a40 2.8%,#33183c 3.2%,#271534 4.8%,#281535 5.5%,#381a40 8.1%,#491d49 10.1%,#511e4d 10.5%,#691f55 11.1%,#8c1d5b 11.8%,#b01759 12.5%,#bf1654 12.8%,#cd1c4e 13.1%,#d62449 13.5%,#dd2c45 14.1%,#d92847 14.8%,#d5224a 15.1%,#c71951 15.8%,#bd1655 16.1%,#a6195a 17.1%,#9e1a5b 17.8%,#8c1d5b 20.8%,#811e5a 24.8%,#821e5a 27.7%,#8c1d5b 30.7%,#981b5b 32.7%,#9f1a5b 33.4%,#bd1655 34.4%,#cd1c4e 35%,#ce1d4e 36.7%,#c71951 37.4%,#bf1654 37.7%,#b41658 38%,#921c5b 38.7%,#841e5a 39%,#5c1e51 40.4%,#481c48 41.4%,#2e1739 43%,#221331 44%,#160e27 45.7%,#0e0b22 47.7%,#06071c 53%,#06071c 99.8%)"></div>
<div class="r" style="top:533px;height:6px;background:linear-gradient(90deg,#b41658 0.2%,#a3195b 0.5%,#781f59 1.2%,#631f53 1.5%,#421b45 2.2%,#30173a 2.8%,#251433 4.5%,#251433 5.1%,#30173a 6.5%,#381a40 8.8%,#3f1b43 9.8%,#501d4c 10.5%,#6e1f57 11.1%,#931c5b 11.8%,#b71657 12.5%,#c51852 12.8%,#cf1e4d 13.1%,#d72549 13.8%,#d62449 14.1%,#cb1b4f 14.8%,#b91657 15.4%,#a4195b 16.1%,#951c5b 16.8%,#8c1d5b 18.1%,#821e5a 20.4%,#7a1f59 24.1%,#7b1f59 27.4%,#891e5b 31.1%,#981b5b 33.1%,#9f1a5b 33.4%,#b51657 34.1%,#c21753 34.4%,#cf1e4d 35%,#cd1c4e 36.7%,#bf1654 37.4%,#b01759 37.7%,#8e1d5b 38.4%,#611f53 39.7%,#511e4d 40.4%,#451c47 41%,#2b1637 42.7%,#180f29 44.7%,#0b0920 48%,#06071c 52%,#06071c 99.8%)"></div>
<div class="r" style="top:539px;height:7px;background:linear-gradient(90deg,#931c5b 0.2%,#701f57 0.8%,#4e1d4b 1.5%,#35193e 2.2%,#2e1739 2.5%,#281535 3.2%,#241432 4.8%,#30173a 6.5%,#35193e 8.8%,#3f1b43 9.8%,#541e4e 10.5%,#871e5b 11.5%,#ad1759 12.1%,#bc1656 12.5%,#c71951 12.8%,#cf1e4d 13.5%,#cd1c4e 13.8%,#c11754 14.5%,#a11a5b 15.4%,#891e5b 16.4%,#7b1f59 19.4%,#731f58 23.4%,#761f58 28.1%,#8b1d5b 32.1%,#951c5b 33.1%,#9f1a5b 33.4%,#ba1656 34.1%,#c71951 34.4%,#ce1d4e 34.7%,#cf1e4d 36%,#cd1c4e 36.4%,#bf1654 37%,#9c1b5b 37.7%,#7f1e5a 38.4%,#5e1f52 39.4%,#4e1d4b 40%,#281535 42.4%,#180f29 44%,#110c24 45.3%,#0b0920 47.3%,#06071c 51.3%,#07071d 99.8%)"></div>
<div class="r" style="top:546px;height:6px;background:linear-gradient(90deg,#731f58 0.2%,#3d1a42 1.5%,#2d1738 2.2%,#251433 3.2%,#221331 4.5%,#2d1738 6.1%,#31183b 8.5%,#37193f 9.5%,#491d49 10.1%,#7b1f59 11.1%,#901d5b 11.5%,#b01759 12.1%,#c41753 12.8%,#c41753 13.5%,#ab185a 14.5%,#821e5a 15.8%,#7f1e5a 16.1%,#781f59 17.4%,#6e1f57 21.1%,#6d1f56 26.1%,#761f58 29.4%,#8c1d5b 32.7%,#931c5b 33.1%,#b21758 33.7%,#c11754 34.1%,#cd1c4e 34.4%,#d11f4c 34.7%,#d11f4c 35.7%,#ce1d4e 36%,#c11754 36.7%,#9a1b5b 37.4%,#7d1f5a 38%,#5c1e51 39%,#4c1d4b 39.7%,#3a1a41 40.7%,#221331 42.4%,#170f28 43.7%,#0e0b22 45.7%,#08081e 48%,#06071c 50.3%,#07071d 99.8%)"></div>
<div class="r" style="top:552px;height:6px;background:linear-gradient(90deg,#581e4f 0.2%,#381a40 1.2%,#31183b 1.5%,#271534 2.2%,#221331 3.2%,#211330 4.2%,#2a1636 5.5%,#31183b 9.1%,#35193e 9.5%,#401b44 9.8%,#5e1f52 10.5%,#821e5a 11.1%,#a4195b 11.8%,#b01759 12.1%,#b91657 12.5%,#bc1656 12.8%,#b91657 13.1%,#aa185a 13.8%,#871e5b 14.8%,#731f58 15.8%,#661f54 21.4%,#661f54 26.1%,#6b1f56 28.1%,#761f58 30.4%,#841e5a 32.4%,#891e5b 32.7%,#951c5b 33.1%,#b91657 33.7%,#d11f4c 34.4%,#d2204c 35.4%,#d11f4c 35.7%,#c21753 36.4%,#b01759 36.7%,#8b1d5b 37.4%,#7b1f59 37.7%,#591e50 38.7%,#431c46 39.7%,#281535 41.4%,#1d112c 42.4%,#170f28 43%,#0e0b22 45%,#06071c 49.7%,#06071c 97.5%,#0a091f 99.8%)"></div>
<div class="r" style="top:558px;height:6px;background:linear-gradient(90deg,#421b45 0.2%,#281535 1.5%,#20122e 3.2%,#20122e 4.2%,#2a1636 6.1%,#2b1637 8.8%,#2e1739 9.1%,#431c46 9.8%,#511e4d 10.1%,#751f58 10.8%,#971c5b 11.5%,#a3195b 11.8%,#ad1759 12.1%,#b01759 12.5%,#a8185a 13.1%,#7b1f59 14.5%,#731f58 14.8%,#6d1f56 15.1%,#691f55 15.8%,#611f53 19.1%,#5e1f52 22.8%,#601f52 26.1%,#661f54 28.4%,#751f58 31.1%,#7d1f5a 32.1%,#861e5b 32.7%,#951c5b 33.1%,#ab185a 33.4%,#bf1654 33.7%,#ce1d4e 34.1%,#d5224a 34.4%,#d5224a 35%,#ce1d4e 35.7%,#c51852 36%,#b41658 36.4%,#9e1a5b 36.7%,#7b1f59 37.4%,#581e4f 38.4%,#501d4c 38.7%,#35193e 40%,#251433 41%,#180f29 42.4%,#0e0b22 44.4%,#06071c 48.7%,#06071c 97.2%,#0b0920 99.8%)"></div>
<div class="r" style="top:564px;height:6px;background:linear-gradient(90deg,#34193d 0.2%,#241432 1.5%,#1e122d 2.8%,#1e122d 3.8%,#271534 5.1%,#281535 8.8%,#2e1739 9.1%,#451c47 9.8%,#781f59 10.8%,#951c5b 11.5%,#9f1a5b 11.8%,#a3195b 12.1%,#a3195b 12.5%,#9c1b5b 12.8%,#871e5b 13.5%,#681f55 14.5%,#611f53 15.1%,#591e50 19.4%,#581e4f 24.4%,#5c1e51 27.1%,#641f54 29.1%,#6b1f56 30.4%,#7b1f59 32.4%,#841e5a 32.7%,#b01759 33.4%,#c51852 33.7%,#d3214b 34.1%,#d62449 34.4%,#d62449 35%,#c81951 35.7%,#b91657 36%,#9f1a5b 36.4%,#7b1f59 37%,#611f53 37.7%,#4e1d4b 38.4%,#281535 40.4%,#140e26 42.4%,#0e0b22 43.7%,#06071c 48%,#06071c 96.5%,#0d0a21 99.8%)"></div>
<div class="r" style="top:570px;height:6px;background:linear-gradient(90deg,#2a1636 0.2%,#211330 1.2%,#1d112c 2.8%,#1e122d 3.8%,#241432 4.8%,#241432 8.5%,#271534 8.8%,#2e1739 9.1%,#3a1a41 9.5%,#691f55 10.5%,#871e5b 11.1%,#921c5b 11.5%,#971c5b 11.8%,#971c5b 12.1%,#921c5b 12.5%,#7d1f5a 13.1%,#661f54 13.8%,#591e50 14.5%,#541e4e 16.8%,#511e4d 24.4%,#541e4e 26.4%,#611f53 29.7%,#761f58 32.4%,#821e5a 32.7%,#9c1b5b 33.1%,#b71657 33.4%,#cd1c4e 33.7%,#d72549 34.1%,#d82748 34.7%,#d5224a 35%,#ce1d4e 35.4%,#bf1654 35.7%,#a4195b 36%,#7d1f5a 36.7%,#611f53 37.4%,#461c48 38.4%,#2b1637 39.7%,#170f28 41.4%,#0b0920 44%,#06071c 47.3%,#06071c 96.5%,#100b23 99.8%)"></div>
<div class="r" style="top:576px;height:6px;background:linear-gradient(90deg,#241432 0.2%,#1e122d 1.2%,#1b112b 2.5%,#1b112b 3.5%,#221331 4.8%,#20122e 7.8%,#211330 8.5%,#30173a 9.1%,#4b1d4a 9.8%,#6b1f56 10.5%,#7a1f59 10.8%,#8b1d5b 11.5%,#871e5b 12.1%,#731f58 12.8%,#5c1e51 13.5%,#541e4e 13.8%,#511e4d 14.1%,#4c1d4b 17.1%,#4b1d4a 24.4%,#4e1d4b 26.4%,#561e4f 28.7%,#641f54 31.1%,#701f57 32.4%,#811e5a 32.7%,#9e1a5b 33.1%,#bd1655 33.4%,#d3214b 33.7%,#d92847 34.1%,#d92847 34.4%,#d82748 34.7%,#d3214b 35%,#c81951 35.4%,#ad1759 35.7%,#951c5b 36%,#811e5a 36.4%,#631f53 37%,#461c48 38%,#2a1636 39.4%,#180f29 40.7%,#0b0920 43.4%,#06071c 46.3%,#06071c 96.2%,#110c24 99.8%)"></div>
<div class="r" style="top:582px;height:6px;background:linear-gradient(90deg,#211330 0.2%,#1a102a 2.2%,#1a102a 3.2%,#211330 4.8%,#1e122d 8.1%,#281535 8.8%,#5e1f52 10.1%,#781f59 10.8%,#7f1e5a 11.1%,#811e5a 11.5%,#751f58 12.1%,#561e4f 13.1%,#491d49 13.8%,#461c48 16.1%,#451c47 24.1%,#491d49 26.7%,#541e4e 29.4%,#611f53 31.4%,#6b1f56 32.4%,#7d1f5a 32.7%,#9f1a5b 33.1%,#c41753 33.4%,#d82748 33.7%,#dd2c45 34.1%,#dd2c45 34.4%,#d92847 34.7%,#cf1e4d 35%,#ba1656 35.4%,#9e1a5b 35.7%,#861e5b 36%,#641f54 36.7%,#4e1d4b 37.4%,#35193e 38.4%,#221331 39.4%,#170f28 40.4%,#0b0920 42.7%,#06071c 45.7%,#06071c 95.8%,#130d25 99.8%)"></div>
<div class="r" style="top:588px;height:7px;background:linear-gradient(90deg,#1e122d 0.2%,#180f29 2.2%,#180f29 3.2%,#1e122d 4.5%,#1b112b 7.8%,#1e122d 8.1%,#2d1738 8.8%,#461c48 9.5%,#611f53 10.1%,#731f58 10.8%,#761f58 11.1%,#751f58 11.5%,#6e1f57 11.8%,#511e4d 12.8%,#431c46 13.5%,#3f1b43 23.8%,#431c46 26.7%,#4c1d4b 29.1%,#591e50 31.1%,#661f54 32.4%,#7b1f59 32.7%,#a4195b 33.1%,#cd1c4e 33.4%,#e03143 33.7%,#e13342 34.1%,#e03143 34.4%,#db2946 34.7%,#cb1b4f 35%,#aa185a 35.4%,#901d5b 35.7%,#7a1f59 36%,#5b1e51 36.7%,#3d1a42 37.7%,#211330 39%,#160e27 40%,#08081e 43%,#06071c 95.8%,#140e26 99.8%)"></div>
<div class="r" style="top:595px;height:6px;background:linear-gradient(90deg,#1b112b 0.2%,#170f28 1.8%,#170f28 3.2%,#1d112c 4.5%,#1b112b 7.8%,#271534 8.5%,#491d49 9.5%,#601f52 10.1%,#681f55 10.5%,#6b1f56 10.8%,#6b1f56 11.1%,#661f54 11.5%,#431c46 12.8%,#3c1a42 13.8%,#381a40 23.4%,#3d1a42 26.4%,#431c46 28.4%,#4c1d4b 30.1%,#611f53 32.4%,#7a1f59 32.7%,#ad1759 33.1%,#d82748 33.4%,#e83f3f 33.7%,#e83f3f 34.1%,#e53940 34.4%,#db2946 34.7%,#bd1655 35%,#9c1b5b 35.4%,#821e5a 35.7%,#6e1f57 36%,#5e1f52 36.4%,#34193d 37.7%,#251433 38.4%,#1b112b 39%,#110c24 40.4%,#0b0920 41.7%,#06071c 44%,#06071c 95.8%,#160e27 99.8%)"></div>
<div class="r" style="top:601px;height:6px;background:linear-gradient(90deg,#1a102a 0.2%,#160e27 1.8%,#1a102a 3.8%,#180f29 7.5%,#211330 8.1%,#491d49 9.5%,#5b1e51 10.1%,#611f53 10.8%,#581e4f 11.5%,#461c48 12.1%,#381a40 12.8%,#35193e 13.5%,#35193e 25.7%,#381a40 27.1%,#491d49 30.4%,#5c1e51 32.4%,#781f59 32.7%,#b71657 33.1%,#e53940 33.4%,#ed503e 33.7%,#ed503e 34.1%,#e9423e 34.4%,#d62449 34.7%,#af1759 35%,#8e1d5b 35.4%,#761f58 35.7%,#641f54 36%,#34193d 37.4%,#241432 38%,#1a102a 38.7%,#110c24 39.7%,#0b0920 41%,#06071c 43.4%,#06071c 95.8%,#160e27 99.8%)"></div>
<div class="r" style="top:607px;height:6px;background:linear-gradient(90deg,#170f28 0.2%,#140e26 2.8%,#180f29 3.8%,#180f29 7.5%,#2b1637 8.5%,#501d4c 9.8%,#561e4f 10.5%,#501d4c 11.1%,#34193d 12.5%,#30173a 13.1%,#2e1739 24.8%,#35193e 27.7%,#401b44 29.7%,#581e4f 32.4%,#751f58 32.7%,#c41753 33.1%,#ef5640 33.4%,#f16646 33.7%,#f16244 34.1%,#eb463e 34.4%,#c71951 34.7%,#9f1a5b 35%,#811e5a 35.4%,#6b1f56 35.7%,#3f1b43 36.7%,#33183c 37%,#221331 37.7%,#180f29 38.4%,#0b0920 40.4%,#06071c 42.4%,#06071c 95.5%,#08081e 96.8%,#160e27 99.8%)"></div>
<div class="r" style="top:613px;height:6px;background:linear-gradient(90deg,#160e27 0.2%,#130d25 1.5%,#160e27 3.5%,#140e26 6.8%,#180f29 7.5%,#241432 8.1%,#3d1a42 9.1%,#491d49 9.8%,#4b1d4a 10.1%,#481c48 10.8%,#35193e 11.8%,#2b1637 12.5%,#2a1636 12.8%,#281535 24.4%,#2e1739 27.1%,#381a40 29.4%,#531e4d 32.4%,#701f57 32.7%,#d11f4c 33.1%,#f37450 33.4%,#f47d57 33.7%,#f26f4c 34.1%,#e23442 34.4%,#b51657 34.7%,#8e1d5b 35%,#731f58 35.4%,#4e1d4b 36%,#31183b 36.7%,#20122e 37.4%,#170f28 38%,#0e0b22 39%,#08081e 40.4%,#06071c 95.5%,#08081e 96.8%,#140e26 99.8%)"></div>
<div class="r" style="top:619px;height:6px;background:linear-gradient(90deg,#140e26 0.2%,#110c24 1.2%,#140e26 7.1%,#241432 8.1%,#33183c 8.8%,#3d1a42 9.5%,#421b45 10.1%,#3c1a42 10.8%,#2b1637 11.8%,#241432 12.5%,#221331 15.8%,#221331 24.1%,#281535 27.1%,#37193f 30.1%,#4c1d4b 32.4%,#661f54 32.7%,#dc2b46 33.1%,#f5946b 33.4%,#f5946b 33.7%,#f37450 34.1%,#d2204c 34.4%,#9f1a5b 34.7%,#7d1f5a 35%,#641f54 35.4%,#501d4c 35.7%,#3d1a42 36%,#30173a 36.4%,#251433 36.7%,#180f29 37.4%,#110c24 38%,#08081e 39.7%,#06071c 95.8%,#130d25 99.8%)"></div>
<div class="r" style="top:625px;height:6px;background:linear-gradient(90deg,#130d25 0.2%,#100b23 1.2%,#100b23 2.8%,#130d25 3.5%,#110c24 6.8%,#180f29 7.5%,#33183c 9.1%,#37193f 9.8%,#34193d 10.5%,#221331 11.8%,#1e122d 12.5%,#1e122d 25.1%,#221331 27.1%,#2b1637 29.1%,#431c46 32.1%,#481c48 32.4%,#541e4e 32.7%,#e43841 33.1%,#f6ae87 33.4%,#f6a880 33.7%,#ef5640 34.1%,#b91657 34.4%,#891e5b 34.7%,#6b1f56 35%,#501d4c 35.4%,#3a1a41 35.7%,#2b1637 36%,#1b112b 36.7%,#0e0b22 37.7%,#08081e 39%,#06071c 95.8%,#100b23 99.8%)"></div>
<div class="r" style="top:631px;height:6px;background:linear-gradient(90deg,#100b23 0.2%,#0e0b22 2.8%,#110c24 6.8%,#2d1738 9.5%,#2b1637 10.1%,#180f29 12.1%,#170f28 17.8%,#180f29 24.8%,#1e122d 27.4%,#2b1637 30.1%,#451c47 32.7%,#e63b40 33.1%,#f7c7a8 33.4%,#f6b38d 33.7%,#dc2b46 34.1%,#9a1b5b 34.4%,#701f57 34.7%,#4e1d4b 35%,#35193e 35.4%,#251433 35.7%,#1d112c 36%,#110c24 36.7%,#08081e 38%,#06071c 95.8%,#0e0b22 99.8%)"></div>
<div class="r" style="top:637px;height:7px;background:linear-gradient(90deg,#100b23 0.2%,#0d0a21 1.2%,#0d0a21 6.1%,#110c24 7.1%,#221331 9.1%,#211330 10.1%,#180f29 11.1%,#130d25 12.1%,#140e26 25.7%,#221331 29.7%,#381a40 32.4%,#3d1a42 32.7%,#db2946 33.1%,#f9dfcb 33.4%,#f69b71 33.7%,#b41658 34.1%,#761f58 34.4%,#491d49 34.7%,#2d1738 35%,#20122e 35.4%,#170f28 35.7%,#0d0a21 36.4%,#08081e 37%,#06071c 95.8%,#0d0a21 99.8%)"></div>
</div>
<div class="hm" style="left:1018px;top:0;width:697px;height:916px">
<div class="r" style="top:90px;height:6px;background:linear-gradient(90deg,#0d0000 0.2%,#0d0000 3.5%,#100000 3.8%,#120000 7.8%,#270000 13.5%,#250000 15.1%,#120000 18.4%,#100000 23.1%,#0d0000 23.4%,#0d0000 28.7%,#100000 29.1%,#120000 34.7%,#150000 35%,#1a0000 39.4%,#1d0000 39.7%,#200 44%,#250000 44.4%,#270000 48.3%,#2a0000 48.7%,#2a0000 51.7%,#2d0000 52%,#2d0000 60%,#2a0000 60.3%,#2a0000 63.6%,#270000 64%,#250000 69.9%,#200 70.3%,#1d0000 80.2%,#1a0000 80.6%,#180000 90.5%,#150000 90.9%,#120000 99.8%)"></div>
<div class="r" style="top:96px;height:6px;background:linear-gradient(90deg,#0d0000 0.2%,#0d0000 3.2%,#100000 3.5%,#120000 7.1%,#200 11.5%,#2d0000 13.5%,#2d0000 14.8%,#250000 16.1%,#1d0000 16.8%,#120000 18.8%,#100000 23.4%,#0d0000 23.8%,#0d0000 28.4%,#100000 28.7%,#120000 34.1%,#150000 34.4%,#1a0000 38.7%,#1d0000 39%,#200 43%,#250000 43.4%,#270000 46.3%,#2a0000 46.7%,#2f0000 52.7%,#2d0000 63%,#2a0000 63.3%,#2a0000 65.9%,#270000 66.3%,#200000 78.2%,#1d0000 78.6%,#1d0000 81.9%,#1a0000 82.2%,#180000 92.2%,#150000 92.5%,#150000 97.8%,#120000 98.2%,#120000 99.8%)"></div>
<div class="r" style="top:102px;height:6px;background:linear-gradient(90deg,#0d0000 0.2%,#0d0000 2.5%,#100000 2.8%,#150000 7.5%,#250000 11.1%,#350000 13.8%,#320000 14.8%,#120000 19.1%,#100000 24.1%,#0d0000 24.4%,#120000 33.7%,#180000 35.4%,#270000 44.4%,#2d0000 46%,#2f0000 50.3%,#320000 50.7%,#320000 60.6%,#2f0000 61%,#2d0000 66.3%,#2a0000 66.6%,#2a0000 68.6%,#270000 68.9%,#200000 80.6%,#1d0000 80.9%,#180000 94.5%,#150000 94.9%,#150000 99.8%)"></div>
<div class="r" style="top:108px;height:7px;background:linear-gradient(90deg,#0d0000 0.2%,#120000 5.5%,#150000 5.8%,#1a0000 8.5%,#200000 9.1%,#270000 10.8%,#3a0000 13.1%,#3c0000 14.1%,#350000 15.4%,#200 17.1%,#120000 19.4%,#100000 24.8%,#0d0000 25.1%,#120000 33.1%,#150000 33.4%,#1a0000 36.7%,#200000 38.4%,#270000 42.7%,#2d0000 44%,#370000 51.7%,#350000 62.3%,#320000 62.6%,#320000 64.6%,#2f0000 65%,#2d0000 69.3%,#2a0000 69.6%,#2a0000 71.6%,#270000 71.9%,#250000 74.3%,#250000 76.9%,#200 77.2%,#150000 99.8%)"></div>
<div class="r" style="top:115px;height:6px;background:linear-gradient(90deg,#0d0000 0.2%,#120000 4.8%,#150000 5.1%,#1a0000 7.8%,#270000 10.1%,#350000 11.5%,#420000 13.1%,#400 13.8%,#400 14.5%,#3c0000 15.4%,#1a0000 18.1%,#120000 19.8%,#100000 21.4%,#120000 32.4%,#150000 32.7%,#1a0000 36%,#200000 37.4%,#270000 41%,#2d0000 42.4%,#2f0000 44.4%,#350000 45.7%,#3c0000 51.7%,#3a0000 61.6%,#370000 62%,#320000 67.9%,#2f0000 68.3%,#2a0000 74.3%,#270000 74.6%,#250000 79.9%,#200 80.2%,#200000 83.6%,#200000 87.2%,#1d0000 87.5%,#1d0000 91.2%,#1a0000 91.5%,#180000 99.8%)"></div>
<div class="r" style="top:121px;height:6px;background:linear-gradient(90deg,#0d0000 0.2%,#120000 4.2%,#1d0000 7.8%,#270000 9.5%,#2f0000 10.5%,#350000 10.8%,#420000 12.1%,#4f0000 14.1%,#400 15.4%,#250000 17.4%,#1a0000 18.4%,#120000 20.1%,#100000 21.8%,#120000 31.7%,#180000 33.4%,#1a0000 35.4%,#3a0000 45.7%,#3c0000 48.3%,#3f0000 48.7%,#3f0000 51%,#420000 51.3%,#420000 58%,#3f0000 58.3%,#3f0000 61%,#3c0000 61.3%,#3a0000 65%,#370000 65.3%,#350000 68.6%,#320000 68.9%,#320000 70.6%,#2f0000 70.9%,#2d0000 72.6%,#2d0000 74.6%,#2a0000 74.9%,#2a0000 76.9%,#270000 77.2%,#180000 99.8%)"></div>
<div class="r" style="top:127px;height:6px;background:linear-gradient(90deg,#0d0000 0.2%,#120000 3.5%,#150000 3.8%,#150000 4.8%,#180000 5.1%,#1d0000 7.5%,#250000 8.5%,#270000 9.1%,#2d0000 9.5%,#3c0000 11.1%,#4f0000 12.5%,#570000 13.5%,#570000 14.5%,#510000 15.1%,#470000 15.8%,#270000 17.4%,#1a0000 18.8%,#120000 20.4%,#100000 22.4%,#100000 29.1%,#150000 32.7%,#3f0000 45.7%,#400 48.3%,#400 50.3%,#470000 50.7%,#470000 58.3%,#400 58.6%,#420000 62.6%,#3f0000 63%,#3f0000 64.3%,#3c0000 64.6%,#3a0000 67.9%,#370000 68.3%,#350000 71.3%,#320000 71.6%,#320000 72.9%,#2f0000 73.3%,#2a0000 79.9%,#270000 80.2%,#200000 92.9%,#1d0000 93.2%,#1d0000 95.5%,#1a0000 95.8%,#1a0000 99.8%)"></div>
<div class="r" style="top:133px;height:6px;background:linear-gradient(90deg,#0d0000 0.2%,#120000 3.2%,#180000 4.5%,#1a0000 6.5%,#200 7.8%,#320000 9.8%,#540000 12.1%,#640000 13.8%,#5f0000 14.8%,#4f0000 15.8%,#370000 16.8%,#200 18.1%,#150000 19.8%,#150000 20.4%,#120000 20.8%,#100000 28.4%,#150000 32.1%,#200 36.4%,#3a0000 42.4%,#3c0000 43.7%,#420000 44.7%,#4c0000 50%,#4a0000 60.6%,#470000 61%,#470000 62.6%,#400 63%,#420000 65.6%,#3f0000 65.9%,#3f0000 67.3%,#3c0000 67.6%,#3a0000 70.3%,#350000 71.9%,#350000 73.6%,#320000 73.9%,#320000 75.6%,#2f0000 75.9%,#1a0000 99.8%)"></div>
<div class="r" style="top:139px;height:6px;background:linear-gradient(90deg,#0d0000 0.2%,#1a0000 5.8%,#200 7.5%,#2f0000 9.1%,#600 12.8%,#6e0000 13.8%,#6c0000 14.5%,#5f0000 15.4%,#3c0000 16.8%,#200000 18.4%,#180000 19.4%,#120000 21.1%,#120000 30.1%,#150000 30.4%,#1d0000 34.4%,#2a0000 37.7%,#350000 39.7%,#3c0000 42%,#420000 43%,#400 44.4%,#4a0000 45.3%,#510000 49%,#510000 51.3%,#540000 51.7%,#540000 55.6%,#510000 56%,#4f0000 60.6%,#4c0000 61%,#4a0000 64%,#400 65.6%,#3f0000 69.6%,#3c0000 69.9%,#3a0000 72.3%,#370000 72.6%,#320000 77.9%,#2f0000 78.2%,#250000 91.5%,#200 91.9%,#200000 96.5%,#1d0000 96.8%,#1d0000 99.8%)"></div>
<div class="r" style="top:145px;height:7px;background:linear-gradient(90deg,#0d0000 0.2%,#120000 2.8%,#180000 3.8%,#1a0000 5.5%,#200 7.1%,#2f0000 8.8%,#510000 11.1%,#6c0000 12.5%,#790000 13.5%,#790000 14.5%,#740000 14.8%,#5f0000 15.8%,#420000 16.8%,#320000 17.4%,#200 18.4%,#180000 19.8%,#120000 21.4%,#100000 27.1%,#150000 31.1%,#270000 36.4%,#3a0000 40%,#4f0000 45.3%,#590000 50.7%,#570000 59%,#540000 59.3%,#4f0000 63.6%,#4c0000 64%,#420000 70.3%,#3c0000 71.9%,#3a0000 74.6%,#370000 74.9%,#1d0000 99.8%)"></div>
<div class="r" style="top:152px;height:6px;background:linear-gradient(90deg,#0d0000 0.2%,#120000 2.5%,#180000 3.5%,#1a0000 5.1%,#270000 7.8%,#2d0000 8.1%,#320000 8.8%,#4c0000 10.5%,#710000 12.1%,#810000 13.1%,#860000 13.8%,#830000 14.5%,#790000 15.1%,#350000 17.4%,#200000 18.8%,#1a0000 19.4%,#150000 20.8%,#150000 21.8%,#120000 22.1%,#120000 29.1%,#180000 30.7%,#1a0000 32.7%,#4a0000 42.7%,#510000 45%,#570000 46%,#590000 47.7%,#5c0000 48%,#5c0000 49.7%,#5f0000 50%,#5f0000 57%,#5c0000 57.3%,#570000 62.3%,#540000 62.6%,#4a0000 68.6%,#400 69.9%,#420000 72.3%,#3f0000 72.6%,#3a0000 77.2%,#370000 77.6%,#2d0000 88.5%,#2a0000 88.9%,#2a0000 90.9%,#270000 91.2%,#250000 95.2%,#200 95.5%,#200000 99.8%)"></div>
<div class="r" style="top:158px;height:6px;background:linear-gradient(90deg,#0d0000 0.2%,#200 6.8%,#2d0000 8.1%,#400 9.8%,#510000 10.5%,#830000 12.5%,#930000 13.5%,#930000 14.1%,#8b0000 14.8%,#790000 15.4%,#420000 17.1%,#2a0000 18.1%,#180000 20.1%,#150000 22.1%,#120000 22.4%,#120000 28.4%,#150000 28.7%,#180000 31.4%,#200 34.4%,#3a0000 38.4%,#4f0000 42.7%,#510000 43.7%,#570000 44.4%,#610000 47.7%,#600 52.3%,#640000 57.3%,#610000 57.6%,#5f0000 60.6%,#590000 62.3%,#570000 64.6%,#510000 65.9%,#4f0000 68.3%,#4c0000 68.6%,#470000 71.9%,#400 72.3%,#3f0000 76.2%,#3c0000 76.6%,#350000 84.6%,#320000 84.9%,#320000 86.5%,#2f0000 86.9%,#2d0000 90.9%,#2a0000 91.2%,#2a0000 92.9%,#270000 93.2%,#250000 96.2%,#200 96.5%,#200000 99.8%)"></div>
<div class="r" style="top:164px;height:6px;background:linear-gradient(90deg,#100000 0.2%,#100000 1.2%,#200 6.5%,#2f0000 8.1%,#3a0000 8.8%,#3c0000 9.1%,#690000 11.1%,#7e0000 11.8%,#960000 12.8%,#a30000 13.8%,#9e0000 14.5%,#980000 14.8%,#830000 15.4%,#5c0000 16.4%,#3c0000 17.4%,#270000 18.4%,#1a0000 19.8%,#150000 21.4%,#150000 22.8%,#120000 23.1%,#120000 28.1%,#150000 28.4%,#150000 29.7%,#180000 30.1%,#1a0000 31.7%,#2f0000 36.4%,#470000 40%,#5f0000 45%,#600 48.7%,#690000 49%,#690000 51%,#6c0000 51.3%,#6c0000 55%,#690000 55.3%,#640000 60.6%,#610000 61%,#5f0000 63.3%,#590000 64.6%,#540000 67.9%,#510000 68.3%,#470000 73.9%,#400 74.3%,#420000 77.2%,#3f0000 77.6%,#3f0000 78.9%,#3c0000 79.2%,#3a0000 82.9%,#370000 83.2%,#350000 86.9%,#320000 87.2%,#320000 88.9%,#2f0000 89.2%,#2d0000 92.5%,#2a0000 92.9%,#2a0000 94.2%,#270000 94.5%,#250000 97.5%,#200 97.8%,#200 99.8%)"></div>
<div class="r" style="top:170px;height:6px;background:linear-gradient(90deg,#100000 0.2%,#120000 1.8%,#1d0000 4.2%,#200000 5.8%,#2a0000 7.5%,#470000 9.5%,#5f0000 10.5%,#890000 11.8%,#a50000 12.8%,#b30000 13.8%,#ad0000 14.5%,#9b0000 15.1%,#4a0000 17.1%,#3f0000 17.4%,#2f0000 18.1%,#250000 18.8%,#1a0000 20.1%,#150000 21.8%,#120000 27.4%,#150000 27.7%,#1a0000 31.4%,#2a0000 35%,#4f0000 40.7%,#640000 45%,#6c0000 47.3%,#6e0000 50.3%,#710000 50.7%,#710000 55.3%,#6e0000 55.6%,#6c0000 59.3%,#690000 59.6%,#640000 63.3%,#5c0000 65.6%,#5c0000 66.6%,#590000 66.9%,#4f0000 72.3%,#4c0000 72.6%,#4a0000 74.9%,#470000 75.2%,#420000 79.9%,#3f0000 80.2%,#3f0000 81.6%,#3c0000 81.9%,#3a0000 85.5%,#370000 85.9%,#350000 88.9%,#320000 89.2%,#2d0000 93.9%,#270000 95.5%,#250000 99.2%,#200 99.8%)"></div>
<div class="r" style="top:176px;height:6px;background:linear-gradient(90deg,#100000 0.2%,#200 6.1%,#2f0000 7.8%,#400 9.1%,#5c0000 10.1%,#7b0000 11.1%,#ab0000 12.5%,#c00000 13.5%,#c20000 13.8%,#c00000 14.1%,#b30000 14.8%,#600 16.4%,#4c0000 17.1%,#320000 18.1%,#200 19.1%,#1a0000 20.1%,#180000 21.8%,#150000 22.1%,#120000 26.1%,#150000 26.4%,#150000 28.7%,#180000 29.1%,#1a0000 31.1%,#250000 33.7%,#350000 36%,#370000 36.7%,#470000 38.7%,#600 44.4%,#740000 48.3%,#760000 50%,#740000 58%,#710000 58.3%,#6c0000 62%,#600 63.3%,#5c0000 68.6%,#540000 70.9%,#540000 71.9%,#510000 72.3%,#4a0000 77.6%,#400 79.2%,#420000 82.6%,#3f0000 82.9%,#3f0000 84.2%,#3c0000 84.6%,#350000 90.5%,#320000 90.9%,#2d0000 94.9%,#270000 96.5%,#250000 99.8%)"></div>
<div class="r" style="top:182px;height:7px;background:linear-gradient(90deg,#100000 0.2%,#120000 1.5%,#180000 2.5%,#250000 6.5%,#350000 8.1%,#470000 9.1%,#570000 9.8%,#6c0000 10.5%,#b80000 12.5%,#ca0000 13.1%,#d20000 13.8%,#cf0000 14.1%,#bd0000 14.8%,#a00000 15.4%,#7b0000 16.1%,#5c0000 16.8%,#400 17.4%,#2d0000 18.4%,#270000 18.8%,#1a0000 20.4%,#180000 22.4%,#150000 22.8%,#150000 28.4%,#180000 28.7%,#1a0000 30.7%,#250000 33.4%,#3a0000 36.4%,#3c0000 37%,#5c0000 41.4%,#600 43.7%,#6c0000 44.4%,#790000 48%,#7b0000 49.7%,#790000 58%,#760000 58.3%,#760000 59.6%,#6c0000 64%,#600 65.3%,#640000 67.3%,#5c0000 69.6%,#570000 72.9%,#510000 74.3%,#4f0000 76.9%,#4c0000 77.2%,#470000 81.6%,#400 81.9%,#420000 84.9%,#3c0000 86.5%,#350000 92.2%,#320000 92.5%,#2d0000 95.8%,#270000 97.5%,#270000 99.8%)"></div>
<div class="r" style="top:189px;height:6px;background:linear-gradient(90deg,#100000 0.2%,#250000 6.5%,#2a0000 7.1%,#3c0000 8.5%,#510000 9.5%,#600 10.1%,#c80000 12.5%,#d00 13.1%,#e20000 13.5%,#e20000 13.8%,#d50000 14.5%,#b80000 15.1%,#6e0000 16.4%,#510000 17.1%,#3c0000 17.8%,#250000 19.1%,#1a0000 20.8%,#180000 23.1%,#150000 23.4%,#150000 27.7%,#180000 28.1%,#1a0000 30.4%,#2f0000 34.7%,#5f0000 41%,#710000 44.4%,#790000 46%,#7b0000 47.7%,#7e0000 48%,#830000 52%,#810000 56.3%,#7e0000 56.6%,#7b0000 59.6%,#6c0000 65.9%,#600 67.3%,#640000 68.9%,#610000 69.3%,#5f0000 71.3%,#590000 72.6%,#570000 74.9%,#510000 76.6%,#4f0000 79.2%,#4c0000 79.6%,#4a0000 82.2%,#400 83.9%,#420000 86.5%,#3c0000 88.2%,#350000 93.2%,#2f0000 94.5%,#2d0000 96.8%,#270000 98.5%,#270000 99.8%)"></div>
<div class="r" style="top:195px;height:6px;background:linear-gradient(90deg,#100000 0.2%,#1d0000 3.5%,#200 5.8%,#2f0000 7.5%,#400 8.8%,#610000 9.8%,#7b0000 10.5%,#980000 11.1%,#ab0000 11.5%,#ca0000 12.1%,#e40000 12.8%,#f20000 13.5%,#f20000 13.8%,#ec0000 14.1%,#e20000 14.5%,#c00000 15.1%,#710000 16.4%,#610000 16.8%,#470000 17.4%,#2f0000 18.4%,#2a0000 18.8%,#200 19.4%,#1a0000 21.1%,#180000 24.4%,#150000 24.8%,#150000 27.1%,#180000 27.4%,#1a0000 30.1%,#2a0000 33.7%,#5f0000 40.4%,#5f0000 40.7%,#710000 43.4%,#810000 46.7%,#830000 48.7%,#860000 49%,#860000 50.7%,#890000 51%,#890000 54.3%,#860000 54.7%,#810000 59.6%,#7b0000 61%,#6c0000 67.6%,#600 68.9%,#5f0000 73.3%,#5c0000 73.6%,#570000 76.9%,#510000 78.6%,#4f0000 81.2%,#4c0000 81.6%,#4a0000 84.2%,#400 85.9%,#420000 88.2%,#3f0000 88.5%,#350000 94.2%,#2f0000 95.5%,#2d0000 97.5%,#2a0000 97.8%,#2a0000 99.8%)"></div>
<div class="r" style="top:201px;height:6px;background:linear-gradient(90deg,#100000 0.2%,#1d0000 3.2%,#200 5.8%,#2f0000 7.5%,#3f0000 8.5%,#590000 9.5%,#810000 10.5%,#c80000 11.8%,#f40000 12.8%,#fc0000 13.1%,#f00 13.5%,#f00 13.8%,#f70000 14.1%,#ea0000 14.5%,#da0000 14.8%,#860000 16.1%,#740000 16.4%,#640000 16.8%,#3f0000 17.8%,#370000 18.1%,#270000 19.1%,#1d0000 20.4%,#1a0000 21.4%,#1a0000 29.7%,#2a0000 33.4%,#6c0000 41.7%,#6c0000 42%,#760000 43.4%,#860000 46.7%,#8b0000 48.7%,#8b0000 50.3%,#8e0000 50.7%,#8e0000 54.7%,#8b0000 55%,#890000 58%,#830000 59.6%,#810000 61.6%,#760000 64.6%,#740000 66.3%,#6e0000 67.6%,#640000 72.6%,#610000 72.9%,#5f0000 75.2%,#5c0000 75.6%,#570000 78.9%,#540000 79.2%,#4a0000 85.9%,#400 87.5%,#420000 89.5%,#3c0000 90.9%,#350000 94.9%,#2f0000 96.2%,#2a0000 99.8%)"></div>
<div class="r" style="top:207px;height:6px;background:linear-gradient(90deg,#120000 0.2%,#120000 0.8%,#200000 4.2%,#200 5.8%,#2f0000 7.5%,#3a0000 8.1%,#510000 9.1%,#5f0000 9.5%,#690000 9.8%,#890000 10.5%,#e70000 12.1%,#f70000 12.5%,#ff0500 12.8%,#ff0d00 13.1%,#ff1000 13.5%,#ff0200 14.1%,#f20000 14.5%,#df0000 14.8%,#9b0000 15.8%,#760000 16.4%,#640000 16.8%,#4a0000 17.4%,#320000 18.4%,#250000 19.4%,#1a0000 21.8%,#180000 28.1%,#200000 31.1%,#250000 31.7%,#270000 32.7%,#510000 38%,#570000 38.4%,#6c0000 41%,#6e0000 41.7%,#810000 44.4%,#8e0000 47.7%,#900000 50.7%,#930000 51%,#930000 54%,#900000 54.3%,#8e0000 57.6%,#8b0000 58%,#8b0000 59%,#830000 61.3%,#810000 63%,#760000 65.9%,#740000 67.6%,#6e0000 68.9%,#6c0000 70.9%,#600 72.3%,#640000 74.6%,#610000 74.9%,#570000 80.9%,#510000 82.6%,#4f0000 84.9%,#4c0000 85.2%,#4a0000 87.5%,#400 88.9%,#350000 95.8%,#2f0000 97.2%,#2d0000 99.8%)"></div>
<div class="r" style="top:213px;height:6px;background:linear-gradient(90deg,#120000 0.2%,#120000 0.8%,#1a0000 2.2%,#200000 4.2%,#200 5.8%,#350000 7.8%,#420000 8.5%,#6e0000 9.8%,#900000 10.5%,#f70000 12.1%,#ff0800 12.5%,#ff1500 12.8%,#ff1d00 13.5%,#ff1700 13.8%,#ff0a00 14.1%,#f70000 14.5%,#b30000 15.4%,#760000 16.4%,#570000 17.1%,#420000 17.8%,#3a0000 18.1%,#2a0000 19.1%,#1d0000 21.1%,#180000 27.7%,#200 31.4%,#2f0000 33.7%,#3c0000 35.4%,#420000 35.7%,#4f0000 37.4%,#570000 38%,#790000 42.4%,#7b0000 43%,#890000 45%,#960000 49%,#960000 55%,#930000 55.3%,#8e0000 59.3%,#8b0000 59.6%,#810000 64%,#7b0000 65%,#710000 69.9%,#6e0000 70.3%,#6c0000 72.3%,#600 73.6%,#640000 75.9%,#610000 76.2%,#5f0000 78.6%,#5c0000 78.9%,#570000 82.6%,#510000 84.2%,#4f0000 86.5%,#470000 88.9%,#420000 91.9%,#370000 94.9%,#350000 96.5%,#2f0000 97.8%,#2f0000 99.8%)"></div>
<div class="r" style="top:219px;height:7px;background:linear-gradient(90deg,#120000 0.2%,#1d0000 2.8%,#200 5.8%,#2d0000 7.1%,#3c0000 8.1%,#590000 9.1%,#860000 10.1%,#c50000 11.1%,#f40000 11.8%,#ff0800 12.1%,#ff1a00 12.5%,#ff2500 12.8%,#ff2a00 13.1%,#ff2a00 13.5%,#ff1f00 13.8%,#fc0000 14.5%,#9e0000 15.8%,#760000 16.4%,#600 16.8%,#4c0000 17.4%,#3c0000 18.1%,#2f0000 18.8%,#270000 19.4%,#1d0000 21.8%,#180000 27.1%,#1a0000 28.7%,#200 31.1%,#2f0000 33.4%,#3c0000 35%,#470000 36%,#510000 37.4%,#570000 37.7%,#600 39.7%,#6c0000 40%,#810000 43%,#930000 46.3%,#980000 48.3%,#980000 50%,#9b0000 50.3%,#9b0000 53.3%,#980000 53.7%,#960000 56.6%,#930000 57%,#890000 62%,#830000 63%,#810000 64.3%,#7b0000 65.6%,#740000 69.6%,#6e0000 70.9%,#5f0000 80.2%,#590000 81.9%,#570000 84.2%,#540000 84.6%,#4f0000 87.9%,#400 91.2%,#420000 92.9%,#3c0000 93.9%,#2f0000 99.8%)"></div>
<div class="r" style="top:226px;height:6px;background:linear-gradient(90deg,#120000 0.2%,#1d0000 2.8%,#200 5.8%,#2d0000 7.1%,#370000 7.8%,#510000 8.8%,#6c0000 9.5%,#a50000 10.5%,#ef0000 11.5%,#ff0800 11.8%,#ff1d00 12.1%,#ff2c00 12.5%,#ff3700 12.8%,#ff3a00 13.1%,#ff3400 13.5%,#ff2700 13.8%,#f00 14.5%,#b50000 15.4%,#8b0000 16.1%,#590000 17.1%,#400 17.8%,#2d0000 19.1%,#250000 20.1%,#200000 21.4%,#1d0000 24.4%,#1a0000 24.8%,#1a0000 28.4%,#200 30.7%,#2a0000 32.4%,#400 35.7%,#4a0000 36%,#540000 37.4%,#690000 39.4%,#810000 42.4%,#900000 45.3%,#960000 46%,#9b0000 47.7%,#9b0000 49%,#9e0000 49.3%,#9e0000 53.3%,#9b0000 53.7%,#960000 57.6%,#760000 67.9%,#740000 70.3%,#6e0000 71.9%,#6c0000 74.6%,#600 76.2%,#640000 79.2%,#610000 79.6%,#5f0000 81.9%,#590000 83.6%,#570000 85.9%,#510000 87.2%,#4f0000 89.2%,#370000 96.5%,#320000 99.8%)"></div>
<div class="r" style="top:232px;height:6px;background:linear-gradient(90deg,#120000 0.2%,#1d0000 2.8%,#1d0000 4.2%,#200 5.8%,#2a0000 6.8%,#3a0000 7.8%,#540000 8.8%,#740000 9.5%,#9b0000 10.1%,#ff0200 11.5%,#ff1d00 11.8%,#ff2f00 12.1%,#ff3f00 12.5%,#ff4700 12.8%,#f40 13.1%,#ff3c00 13.5%,#ff2c00 13.8%,#f00 14.5%,#b50000 15.4%,#8b0000 16.1%,#690000 16.8%,#5c0000 17.1%,#470000 17.8%,#2f0000 19.1%,#200 21.1%,#200000 23.8%,#1a0000 25.4%,#1a0000 28.1%,#270000 31.7%,#370000 34.1%,#690000 39%,#890000 43%,#9b0000 46.3%,#a00000 48.7%,#9e0000 55%,#980000 56.3%,#960000 58%,#860000 63.3%,#7b0000 65.9%,#740000 70.6%,#710000 70.9%,#710000 72.3%,#6e0000 72.6%,#6c0000 75.9%,#690000 76.2%,#690000 77.6%,#600 77.9%,#6e0000 79.9%,#6e0000 81.6%,#610000 84.9%,#570000 86.5%,#4a0000 91.9%,#470000 92.2%,#420000 94.5%,#3c0000 95.5%,#350000 98.5%,#350000 99.8%)"></div>
<div class="r" style="top:238px;height:6px;background:linear-gradient(90deg,#120000 0.2%,#1d0000 2.8%,#1d0000 4.5%,#200 5.8%,#2a0000 6.8%,#3a0000 7.8%,#4c0000 8.5%,#590000 8.8%,#790000 9.5%,#a50000 10.1%,#f70000 11.1%,#ff1500 11.5%,#ff2c00 11.8%,#ff3f00 12.1%,#ff4f00 12.8%,#ff4900 13.1%,#ff3c00 13.5%,#fc0000 14.5%,#b30000 15.4%,#790000 16.4%,#5f0000 17.1%,#4a0000 17.8%,#3c0000 18.4%,#320000 19.1%,#270000 20.4%,#200 22.1%,#200000 24.4%,#1a0000 26.1%,#1a0000 27.4%,#1d0000 27.7%,#200 30.4%,#2f0000 32.7%,#3c0000 34.4%,#590000 37.4%,#690000 38.7%,#8e0000 43.4%,#980000 45%,#a30000 48%,#a30000 53%,#a00000 53.3%,#9e0000 55.6%,#980000 57%,#960000 58.6%,#900000 59.6%,#890000 62.6%,#7b0000 65.9%,#790000 67.9%,#760000 68.3%,#740000 71.6%,#710000 71.9%,#710000 73.6%,#6e0000 73.9%,#6c0000 76.6%,#790000 78.9%,#7e0000 80.9%,#600 86.9%,#510000 89.9%,#470000 93.9%,#370000 98.2%,#370000 99.8%)"></div>
<div class="r" style="top:244px;height:6px;background:linear-gradient(90deg,#120000 0.2%,#1a0000 1.8%,#200000 5.5%,#2a0000 6.8%,#3c0000 7.8%,#400 8.1%,#5c0000 8.8%,#810000 9.5%,#b00000 10.1%,#ea0000 10.8%,#ff0800 11.1%,#f20 11.5%,#ff3700 11.8%,#ff4700 12.1%,#ff4f00 12.5%,#ff4c00 12.8%,#f40 13.1%,#ff3700 13.5%,#ff0d00 14.1%,#f40000 14.5%,#c50000 15.1%,#9b0000 15.8%,#6c0000 16.8%,#570000 17.4%,#3f0000 18.4%,#350000 19.1%,#2a0000 20.4%,#200 23.1%,#200 24.1%,#1d0000 25.1%,#1d0000 28.4%,#2a0000 31.7%,#400 35%,#4a0000 35.4%,#510000 36.4%,#570000 36.7%,#600 38.4%,#6c0000 38.7%,#890000 42%,#9e0000 45.3%,#a50000 47.3%,#a30000 54.3%,#a00000 54.7%,#960000 59%,#900000 60%,#8e0000 61.3%,#830000 63.6%,#830000 64.3%,#7b0000 66.3%,#790000 68.3%,#760000 68.6%,#740000 72.6%,#710000 72.9%,#710000 75.2%,#790000 76.2%,#890000 79.9%,#890000 81.2%,#760000 86.5%,#6e0000 87.9%,#5f0000 89.2%,#510000 90.9%,#4a0000 93.9%,#3c0000 97.2%,#370000 99.8%)"></div>
<div class="r" style="top:250px;height:6px;background:linear-gradient(90deg,#120000 0.2%,#180000 1.2%,#1a0000 3.5%,#200000 5.5%,#2a0000 6.8%,#3c0000 7.8%,#510000 8.5%,#740000 9.1%,#a00000 9.8%,#f70000 10.8%,#ff1500 11.1%,#ff3f00 11.8%,#ff4900 12.1%,#ff4c00 12.5%,#ff4900 12.8%,#ff3c00 13.1%,#ff1a00 13.8%,#ff0500 14.1%,#ec0000 14.5%,#ad0000 15.4%,#7b0000 16.4%,#590000 17.4%,#400 18.4%,#350000 19.4%,#2d0000 20.4%,#270000 21.8%,#200000 25.4%,#1d0000 25.7%,#1d0000 28.4%,#2f0000 32.4%,#3c0000 34.1%,#420000 34.4%,#540000 36.4%,#790000 39.7%,#960000 43.4%,#a30000 45.7%,#ab0000 48.3%,#ab0000 51%,#a80000 51.3%,#a80000 53%,#a50000 53.3%,#a30000 55.3%,#7b0000 66.3%,#740000 71.6%,#740000 73.6%,#790000 74.6%,#7e0000 74.9%,#890000 77.2%,#930000 80.9%,#810000 86.9%,#6c0000 89.5%,#600 89.9%,#5f0000 90.9%,#590000 91.2%,#4f0000 92.5%,#420000 96.8%,#3c0000 97.8%,#3a0000 99.8%)"></div>
<div class="r" style="top:256px;height:7px;background:linear-gradient(90deg,#150000 0.2%,#1d0000 4.8%,#270000 6.5%,#2f0000 7.1%,#4a0000 8.1%,#570000 8.5%,#7b0000 9.1%,#ad0000 9.8%,#ea0000 10.5%,#ff0800 10.8%,#f20 11.1%,#ff3700 11.5%,#f40 11.8%,#ff4900 12.1%,#ff4900 12.5%,#ff3700 13.1%,#ff2700 13.5%,#f00 14.1%,#d50000 14.8%,#9e0000 15.8%,#740000 16.8%,#5f0000 17.4%,#470000 18.4%,#3c0000 19.1%,#2d0000 21.1%,#2a0000 22.8%,#1d0000 26.1%,#200000 29.1%,#2f0000 32.1%,#4c0000 35.4%,#790000 39.4%,#9e0000 44%,#ab0000 46.7%,#ad0000 47.7%,#ab0000 53%,#9e0000 57.3%,#900000 60.3%,#8e0000 61.6%,#7b0000 66.3%,#790000 69.6%,#760000 69.9%,#760000 71.9%,#860000 74.3%,#9e0000 79.2%,#a30000 80.9%,#960000 84.6%,#900000 85.2%,#8e0000 86.5%,#860000 87.9%,#6e0000 90.9%,#610000 92.2%,#4f0000 93.5%,#3c0000 98.8%,#3c0000 99.8%)"></div>
<div class="r" style="top:263px;height:6px;background:linear-gradient(90deg,#150000 0.2%,#1d0000 4.8%,#270000 6.5%,#320000 7.1%,#420000 7.8%,#6e0000 8.8%,#9e0000 9.5%,#f70000 10.5%,#ff1200 10.8%,#ff2a00 11.1%,#ff3a00 11.5%,#f40 11.8%,#ff4700 12.1%,#f40 12.5%,#ff3c00 12.8%,#ff2f00 13.1%,#ff0d00 13.8%,#f90000 14.1%,#c20000 15.1%,#860000 16.4%,#5c0000 17.8%,#420000 19.1%,#350000 20.4%,#2d0000 22.8%,#270000 23.4%,#1d0000 26.4%,#1d0000 27.7%,#200 29.4%,#370000 33.1%,#510000 35.7%,#570000 36%,#710000 38.4%,#8e0000 41.4%,#ab0000 45.7%,#b00000 47.3%,#b00000 51%,#ad0000 51.3%,#ab0000 53.7%,#a00000 56.3%,#9e0000 57.6%,#830000 64%,#790000 67.9%,#790000 70.6%,#7e0000 70.9%,#930000 75.2%,#a00000 76.9%,#b00000 80.9%,#a30000 84.6%,#960000 86.9%,#890000 88.5%,#890000 88.9%,#6e0000 92.2%,#4c0000 94.9%,#4a0000 95.8%,#400 96.8%,#3f0000 99.8%)"></div>
<div class="r" style="top:269px;height:6px;background:linear-gradient(90deg,#150000 0.2%,#1a0000 2.5%,#1a0000 4.2%,#200000 5.5%,#270000 6.5%,#3c0000 7.5%,#540000 8.1%,#640000 8.5%,#790000 8.8%,#900000 9.1%,#e70000 10.1%,#ff0500 10.5%,#ff1d00 10.8%,#ff2f00 11.1%,#ff3c00 11.5%,#f40 11.8%,#f40 12.1%,#ff4100 12.5%,#ff2c00 13.1%,#fc0000 14.1%,#c80000 15.1%,#830000 16.8%,#5c0000 18.1%,#400 19.4%,#270000 23.8%,#1d0000 26.7%,#200 29.4%,#2f0000 31.7%,#4c0000 35%,#740000 38.4%,#8e0000 41%,#a80000 44.7%,#b30000 47.3%,#b30000 50.3%,#b00000 50.7%,#ab0000 54%,#830000 64%,#810000 65.3%,#7b0000 66.6%,#790000 69.3%,#860000 70.6%,#900000 72.9%,#9e0000 74.6%,#a00000 75.2%,#b30000 77.9%,#bd0000 80.9%,#ab0000 85.5%,#8b0000 89.5%,#890000 90.2%,#790000 92.2%,#4c0000 95.5%,#400 97.8%,#420000 99.8%)"></div>
<div class="r" style="top:275px;height:6px;background:linear-gradient(90deg,#150000 0.2%,#1a0000 4.2%,#200 5.8%,#2f0000 6.8%,#3f0000 7.5%,#4c0000 7.8%,#6e0000 8.5%,#830000 8.8%,#f40000 10.1%,#ff0d00 10.5%,#ff2500 10.8%,#ff3400 11.1%,#ff3f00 11.5%,#ff4100 12.1%,#ff3f00 12.5%,#ff3700 12.8%,#ff1000 13.8%,#f00 14.1%,#b50000 15.8%,#830000 17.1%,#6e0000 17.8%,#510000 19.1%,#400 20.1%,#370000 21.8%,#350000 22.4%,#270000 24.1%,#250000 25.1%,#200000 25.7%,#200000 28.4%,#2a0000 30.7%,#470000 34.4%,#760000 38.4%,#8e0000 40.7%,#9e0000 42.7%,#b30000 46.7%,#b30000 50.7%,#b00000 51%,#b00000 52.3%,#9e0000 57.6%,#830000 64%,#790000 68.3%,#7b0000 68.6%,#810000 68.9%,#a30000 73.3%,#a30000 73.6%,#a80000 73.9%,#c00000 77.9%,#ca0000 80.6%,#c80000 81.9%,#c00000 83.9%,#ba0000 84.6%,#b80000 85.5%,#810000 92.2%,#4c0000 96.5%,#400 99.8%)"></div>
<div class="r" style="top:281px;height:6px;background:linear-gradient(90deg,#150000 0.2%,#1a0000 4.2%,#200000 5.5%,#320000 6.8%,#400 7.5%,#640000 8.1%,#900000 8.8%,#fc0000 10.1%,#ff1200 10.5%,#ff2500 10.8%,#ff3c00 11.5%,#ff3f00 12.1%,#ff3c00 12.5%,#ff2c00 13.1%,#ff0800 14.1%,#f90000 14.5%,#900000 17.1%,#7b0000 17.8%,#610000 18.8%,#400 20.8%,#270000 24.4%,#200000 26.1%,#200000 28.4%,#2f0000 31.4%,#4c0000 34.7%,#790000 38.4%,#960000 41.4%,#b00000 45.7%,#b30000 46.7%,#b30000 50.7%,#b00000 51%,#b00000 52%,#9e0000 57.3%,#830000 63.6%,#7b0000 67.6%,#930000 70.3%,#9e0000 70.9%,#a80000 71.9%,#a80000 72.3%,#b80000 74.3%,#c20000 76.2%,#c80000 76.9%,#d70000 80.6%,#cd0000 83.9%,#c00000 86.2%,#ab0000 88.9%,#a50000 89.2%,#9e0000 90.2%,#900000 91.2%,#810000 93.2%,#590000 96.2%,#510000 96.5%,#4c0000 97.5%,#4a0000 99.8%)"></div>
<div class="r" style="top:287px;height:6px;background:linear-gradient(90deg,#150000 0.2%,#180000 3.2%,#1d0000 4.8%,#250000 5.8%,#350000 6.8%,#590000 7.8%,#6c0000 8.1%,#980000 8.8%,#f00 10.1%,#ff2500 10.8%,#ff3700 11.5%,#ff3c00 11.8%,#ff3700 12.8%,#ff2700 13.5%,#ff0800 14.5%,#f90000 14.8%,#ef0000 15.1%,#a00000 17.1%,#760000 18.4%,#590000 19.8%,#370000 22.4%,#270000 24.4%,#200000 26.1%,#200 29.1%,#270000 30.1%,#350000 31.7%,#370000 32.4%,#510000 35%,#6c0000 37%,#860000 39.4%,#a30000 43%,#b00000 45.7%,#b30000 46.7%,#b30000 50%,#b00000 50.3%,#b00000 51.3%,#ad0000 51.7%,#ab0000 53.3%,#900000 59.6%,#890000 62.3%,#830000 63.3%,#7b0000 66.9%,#8e0000 68.9%,#9e0000 69.9%,#a00000 70.3%,#b30000 71.6%,#cd0000 75.2%,#cf0000 76.2%,#d50000 76.9%,#e40000 80.2%,#e40000 81.2%,#d00 83.2%,#c80000 86.9%,#b50000 89.2%,#a80000 90.2%,#a30000 90.9%,#9b0000 91.2%,#8b0000 92.5%,#890000 93.2%,#830000 93.5%,#7e0000 94.2%,#510000 97.2%,#4f0000 99.5%,#4c0000 99.8%)"></div>
<div class="r" style="top:293px;height:6px;background:linear-gradient(90deg,#150000 0.2%,#1a0000 4.2%,#200 5.5%,#2a0000 6.1%,#400 7.1%,#610000 7.8%,#890000 8.5%,#d20000 9.5%,#fc0000 10.1%,#ff1000 10.5%,#ff1f00 10.8%,#ff3400 11.5%,#ff3a00 11.8%,#ff3a00 12.5%,#ff3400 13.1%,#ff2700 13.8%,#ff0d00 14.8%,#f00 15.1%,#900000 18.1%,#7b0000 18.8%,#5c0000 20.1%,#4a0000 21.1%,#3c0000 22.1%,#350000 23.1%,#2f0000 23.4%,#270000 24.4%,#200000 26.1%,#200000 28.1%,#2f0000 31.1%,#4c0000 34.4%,#890000 39.4%,#9e0000 42%,#a50000 43.7%,#ab0000 44.4%,#b30000 47%,#b30000 49%,#ad0000 50.7%,#ab0000 52.7%,#8b0000 60.6%,#890000 62%,#830000 63%,#810000 64.6%,#7e0000 65%,#7e0000 65.9%,#7b0000 66.3%,#810000 66.6%,#900000 68.3%,#ab0000 69.6%,#cd0000 72.6%,#e20000 76.2%,#e40000 77.2%,#ea0000 77.9%,#f40000 80.6%,#f20000 81.9%,#ec0000 82.6%,#e40000 84.9%,#c80000 88.9%,#c20000 89.2%,#bd0000 89.9%,#a00000 92.2%,#930000 92.9%,#860000 94.2%,#710000 95.8%,#570000 97.5%,#540000 97.8%,#510000 99.8%)"></div>
<div class="r" style="top:299px;height:7px;background:linear-gradient(90deg,#150000 0.2%,#150000 2.2%,#1d0000 4.8%,#270000 5.8%,#3c0000 6.8%,#540000 7.5%,#8b0000 8.5%,#cf0000 9.5%,#f70000 10.1%,#ff0800 10.5%,#ff1700 10.8%,#ff2c00 11.5%,#ff3700 12.1%,#ff3a00 12.8%,#ff3200 13.8%,#ff2c00 14.1%,#ff1d00 14.8%,#fc0000 15.8%,#930000 18.4%,#740000 19.4%,#4c0000 21.1%,#2f0000 23.4%,#200 25.1%,#200000 25.7%,#200000 28.1%,#2f0000 31.1%,#510000 34.7%,#6c0000 36.7%,#8e0000 39.7%,#9e0000 41.7%,#b00000 45.7%,#b00000 49.7%,#ad0000 50%,#ab0000 52%,#a50000 53%,#a30000 54.3%,#8b0000 60%,#810000 64.3%,#7e0000 64.6%,#7e0000 65.9%,#8b0000 67.3%,#bd0000 69.9%,#df0000 72.9%,#f20000 76.6%,#f90000 78.9%,#f00 79.6%,#ff0500 80.9%,#f00 81.9%,#f40000 83.9%,#f20000 84.9%,#d50000 88.9%,#c50000 90.2%,#c00000 90.9%,#b80000 91.2%,#ab0000 92.2%,#900000 93.5%,#790000 95.8%,#640000 97.2%,#5c0000 97.5%,#590000 97.8%,#570000 99.8%)"></div>
<div class="r" style="top:306px;height:6px;background:linear-gradient(90deg,#150000 0.2%,#150000 2.8%,#1a0000 4.2%,#250000 5.5%,#2f0000 6.1%,#3f0000 6.8%,#570000 7.5%,#600 7.8%,#8b0000 8.5%,#c80000 9.5%,#ec0000 10.1%,#fc0000 10.5%,#ff0a00 10.8%,#f20 11.5%,#ff3200 12.1%,#ff3a00 12.8%,#ff3c00 13.5%,#ff3700 14.1%,#ff2500 15.1%,#ff1000 15.8%,#ff0200 16.1%,#da0000 17.1%,#ca0000 17.4%,#7b0000 19.4%,#540000 20.8%,#420000 21.8%,#320000 23.1%,#200 25.1%,#200000 26.4%,#1d0000 26.7%,#270000 29.7%,#400 33.4%,#860000 38.7%,#930000 40%,#a30000 42.4%,#a50000 43.4%,#ab0000 44%,#ad0000 45.7%,#b00000 46%,#b00000 49%,#ad0000 49.3%,#ab0000 51.3%,#a50000 52.3%,#9e0000 55.3%,#980000 56%,#8b0000 59.6%,#890000 61%,#830000 62%,#7e0000 65.3%,#900000 66.9%,#c80000 69.6%,#da0000 70.9%,#f70000 74.3%,#f90000 75.2%,#f00 75.9%,#ff0a00 78.6%,#ff1500 80.2%,#ff1500 81.2%,#ff0800 83.9%,#f00 84.9%,#f90000 85.5%,#f40000 86.9%,#e40000 88.5%,#e40000 88.9%,#d20000 90.5%,#c50000 91.2%,#b80000 92.2%,#8b0000 94.5%,#7e0000 95.8%,#6e0000 96.8%,#6c0000 97.2%,#5f0000 97.8%,#5c0000 98.2%,#5c0000 99.8%)"></div>
<div class="r" style="top:312px;height:6px;background:linear-gradient(90deg,#120000 0.2%,#150000 2.8%,#1a0000 4.2%,#2a0000 5.8%,#370000 6.5%,#590000 7.5%,#890000 8.5%,#d20000 9.8%,#ff0200 10.8%,#ff1d00 11.5%,#ff3f00 12.8%,#ff4700 13.5%,#ff4700 14.1%,#ff4100 14.8%,#ff3200 15.4%,#f00 16.8%,#810000 19.4%,#600 20.1%,#540000 20.8%,#3c0000 22.1%,#2d0000 23.4%,#250000 24.4%,#1d0000 26.4%,#200 28.7%,#3c0000 32.4%,#610000 35.7%,#810000 38%,#980000 40.4%,#980000 40.7%,#a30000 42%,#ad0000 44.7%,#b00000 48%,#ad0000 48.3%,#ab0000 50.7%,#a50000 51.7%,#9e0000 54.7%,#8b0000 59%,#7e0000 64.6%,#8e0000 66.3%,#ca0000 68.9%,#d00 69.9%,#f20000 71.6%,#f90000 72.6%,#f00 72.9%,#ff1000 74.9%,#ff2700 80.6%,#ff2500 81.6%,#ff1500 84.9%,#ff0500 86.9%,#f00 87.2%,#ea0000 89.9%,#b00000 93.2%,#930000 94.5%,#860000 95.5%,#810000 96.2%,#790000 96.5%,#610000 98.2%,#610000 99.8%)"></div>
<div class="r" style="top:318px;height:6px;background:linear-gradient(90deg,#120000 0.2%,#120000 1.5%,#1a0000 4.2%,#270000 5.5%,#320000 6.1%,#4c0000 7.1%,#600 7.8%,#a50000 9.1%,#ea0000 10.5%,#f90000 10.8%,#ff0a00 11.1%,#ff3200 12.1%,#ff4700 12.8%,#ff4f00 13.1%,#ff5c00 14.1%,#ff5900 14.8%,#f40 15.8%,#ff2a00 16.4%,#ff0a00 17.1%,#f70000 17.4%,#830000 19.4%,#5f0000 20.4%,#470000 21.4%,#2f0000 23.1%,#200 24.8%,#1d0000 26.1%,#200000 28.1%,#320000 31.1%,#4f0000 34.1%,#8e0000 39%,#a30000 41.7%,#ab0000 43.7%,#ad0000 46.3%,#b00000 46.7%,#ad0000 47%,#ab0000 50%,#9e0000 54%,#8b0000 58.3%,#890000 59.6%,#830000 60.6%,#7e0000 64.3%,#890000 65.3%,#980000 66.3%,#a30000 66.6%,#c50000 67.9%,#ca0000 68.3%,#d50000 68.6%,#df0000 69.3%,#f00 70.9%,#ff0d00 71.9%,#f20 74.3%,#ff3700 79.9%,#ff3700 81.6%,#ff2a00 84.9%,#ff2500 85.2%,#ff2500 85.5%,#ff1a00 86.9%,#ff0200 89.2%,#f90000 89.9%,#df0000 91.2%,#bd0000 93.2%,#9b0000 94.5%,#8b0000 95.5%,#860000 96.2%,#7b0000 96.8%,#790000 97.2%,#710000 97.5%,#600 98.5%,#640000 99.8%)"></div>
<div class="r" style="top:324px;height:6px;background:linear-gradient(90deg,#120000 0.2%,#120000 1.8%,#1d0000 4.5%,#270000 5.5%,#320000 6.1%,#4c0000 7.1%,#7e0000 8.5%,#bd0000 9.8%,#f20000 10.8%,#ff0200 11.1%,#ff3f00 12.5%,#ff5600 13.1%,#f60 13.8%,#ff6b00 14.1%,#ff6e00 14.8%,#f60 15.4%,#ff5e00 15.8%,#ff3400 16.8%,#ff0a00 17.4%,#f20000 17.8%,#ab0000 18.8%,#830000 19.4%,#740000 19.8%,#540000 20.8%,#400 21.4%,#350000 22.4%,#200 24.4%,#1d0000 25.7%,#200000 28.1%,#270000 29.4%,#3c0000 32.1%,#4c0000 33.7%,#690000 36%,#740000 36.7%,#930000 39.4%,#a00000 41%,#ab0000 43.7%,#ab0000 49.3%,#9e0000 53.3%,#8b0000 57.6%,#890000 59%,#830000 60%,#7e0000 63.6%,#830000 64.3%,#900000 65.3%,#c20000 67.3%,#e70000 68.6%,#f20000 69.3%,#fc0000 69.6%,#ff0500 69.9%,#ff1f00 71.3%,#ff3a00 74.3%,#ff4100 77.6%,#ff4700 78.9%,#ff4900 81.2%,#ff4700 82.6%,#ff3a00 85.5%,#ff2f00 86.5%,#ff2500 87.9%,#ff1f00 88.2%,#ff1200 89.5%,#ff0d00 89.9%,#ff0200 90.2%,#f70000 90.9%,#d00 92.2%,#c80000 93.2%,#bd0000 93.5%,#b80000 93.9%,#a50000 94.5%,#a00000 94.9%,#900000 95.5%,#790000 97.5%,#740000 98.2%,#690000 98.8%,#690000 99.8%)"></div>
<div class="r" style="top:330px;height:6px;background:linear-gradient(90deg,#120000 0.2%,#120000 1.8%,#1d0000 4.5%,#270000 5.5%,#3f0000 6.8%,#5c0000 7.8%,#900000 9.1%,#f40000 11.1%,#ff0800 11.5%,#ff3a00 12.5%,#f60 13.5%,#ff7900 14.1%,#ff8000 14.8%,#ff7b00 15.4%,#ff7300 15.8%,#f60 16.1%,#f40 16.8%,#ff1200 17.4%,#f70000 17.8%,#c00000 18.4%,#930000 19.1%,#710000 19.8%,#590000 20.4%,#420000 21.4%,#320000 22.4%,#200 24.4%,#1d0000 25.4%,#1d0000 27.4%,#270000 29.4%,#3f0000 32.4%,#610000 35.4%,#6c0000 36%,#6e0000 36.4%,#790000 37%,#7b0000 37.4%,#890000 38.4%,#960000 39.7%,#a00000 41%,#ab0000 44%,#ab0000 48.3%,#9e0000 52.7%,#980000 53.7%,#960000 55%,#830000 59.3%,#810000 61.3%,#7e0000 61.6%,#7e0000 63.3%,#930000 65%,#c00000 66.6%,#cf0000 67.3%,#d00 67.6%,#ec0000 68.3%,#f90000 68.6%,#ff0500 68.9%,#ff0d00 69.3%,#ff1a00 69.6%,#ff3a00 71.3%,#f40 72.3%,#f40 72.6%,#ff4900 72.9%,#ff5400 75.6%,#ff5c00 81.2%,#ff5900 81.6%,#ff5900 82.9%,#ff5600 83.2%,#ff5400 84.6%,#ff3a00 87.9%,#ff2500 89.5%,#ff0a00 90.9%,#f00 91.2%,#ea0000 92.2%,#df0000 92.5%,#d20000 93.2%,#a80000 94.9%,#a30000 95.2%,#980000 95.5%,#8b0000 96.5%,#740000 98.8%,#6e0000 99.2%,#6c0000 99.8%)"></div>
<div class="r" style="top:336px;height:7px;background:linear-gradient(90deg,#100000 0.2%,#120000 2.2%,#1d0000 4.5%,#2f0000 6.1%,#3c0000 6.8%,#4c0000 7.5%,#610000 8.1%,#860000 9.1%,#a30000 9.8%,#fc0000 11.5%,#ff1200 11.8%,#ff5c00 13.1%,#ff7900 13.8%,#ff8b00 14.5%,#ff9000 14.8%,#ff9000 15.1%,#ff8e00 15.4%,#ff8600 15.8%,#ff7900 16.1%,#f60 16.4%,#ff3200 17.1%,#ff1200 17.4%,#f20000 17.8%,#b80000 18.4%,#a00000 18.8%,#7b0000 19.4%,#6c0000 19.8%,#540000 20.4%,#400 21.1%,#2f0000 22.4%,#200000 24.4%,#1a0000 26.1%,#250000 29.1%,#3c0000 32.1%,#510000 34.1%,#570000 34.4%,#690000 36%,#740000 36.7%,#760000 37%,#810000 37.7%,#900000 39.4%,#960000 39.7%,#a00000 41.4%,#a80000 43.7%,#a80000 45.7%,#ab0000 46%,#a80000 46.3%,#a80000 48.3%,#960000 54.3%,#830000 58.6%,#7b0000 62.3%,#8b0000 63.6%,#900000 64.3%,#9b0000 64.6%,#c50000 66.3%,#d20000 66.6%,#e20000 67.3%,#ff0200 68.3%,#ff1500 68.6%,#ff2f00 69.3%,#ff3f00 69.6%,#ff4700 69.9%,#ff5600 70.9%,#ff6100 71.9%,#ff6900 73.3%,#ff6b00 74.6%,#ff6e00 74.9%,#ff7100 82.2%,#ff6e00 82.6%,#ff6e00 84.2%,#ff6b00 84.9%,#f60 85.2%,#ff6400 85.9%,#ff5e00 86.2%,#ff5c00 86.9%,#ff5600 87.2%,#ff4f00 88.2%,#ff3700 89.9%,#ff2c00 90.2%,#ff1d00 90.9%,#ff1000 91.2%,#f00 91.9%,#e40000 92.9%,#c80000 94.2%,#bd0000 94.5%,#b30000 95.2%,#900000 96.8%,#860000 97.8%,#860000 98.2%,#710000 99.8%)"></div>
<div class="r" style="top:343px;height:6px;background:linear-gradient(90deg,#100000 0.2%,#120000 2.2%,#1a0000 4.2%,#250000 5.5%,#320000 6.5%,#3f0000 7.1%,#590000 8.1%,#7b0000 9.1%,#980000 9.8%,#ab0000 10.1%,#ba0000 10.5%,#f70000 11.5%,#ff0d00 11.8%,#ff4f00 12.8%,#ff7300 13.5%,#ff9300 14.1%,#ff9d00 14.5%,#ffa200 14.8%,#ffa200 15.1%,#ffa000 15.4%,#ff9500 15.8%,#ff8300 16.1%,#ff4f00 16.8%,#ff0a00 17.4%,#ea0000 17.8%,#b30000 18.4%,#860000 19.1%,#600 19.8%,#4f0000 20.4%,#3f0000 21.1%,#2d0000 22.4%,#200 23.8%,#1a0000 25.4%,#1d0000 27.4%,#270000 29.4%,#4c0000 33.7%,#760000 37%,#900000 39.4%,#9e0000 41.4%,#a30000 43%,#a30000 49%,#960000 53.3%,#900000 54.3%,#8e0000 55.6%,#830000 58%,#7b0000 62%,#860000 63%,#960000 64%,#9e0000 64.3%,#ab0000 64.6%,#ba0000 65.3%,#c50000 65.6%,#d20000 66.3%,#df0000 66.6%,#ef0000 67.3%,#f00 67.6%,#ff0d00 67.9%,#ff3400 68.6%,#f40 68.9%,#ff4f00 69.3%,#ff5e00 69.6%,#ff7100 70.3%,#ff7900 70.9%,#ff8e00 73.9%,#ff9000 75.6%,#ff8e00 84.2%,#ff8000 85.2%,#ff7100 86.9%,#ff6b00 87.2%,#ff6400 88.2%,#ff5100 89.5%,#ff3700 90.5%,#ff1f00 91.2%,#ff0500 92.2%,#f70000 92.5%,#df0000 93.5%,#c20000 95.2%,#a50000 96.5%,#930000 97.5%,#790000 99.8%)"></div>
<div class="r" style="top:349px;height:6px;background:linear-gradient(90deg,#100000 0.2%,#120000 2.2%,#1a0000 4.2%,#270000 5.8%,#3a0000 7.1%,#510000 8.1%,#740000 9.1%,#900000 9.8%,#b50000 10.5%,#f40000 11.5%,#ff0d00 11.8%,#ff6e00 13.1%,#ff9800 13.8%,#ffb500 14.5%,#ffba00 14.8%,#ffba00 15.1%,#ffb500 15.4%,#ffa500 15.8%,#ff8e00 16.1%,#ff6e00 16.4%,#ff4900 16.8%,#ff0500 17.4%,#e20000 17.8%,#c50000 18.1%,#930000 18.8%,#6e0000 19.4%,#540000 20.1%,#3c0000 21.1%,#2a0000 22.4%,#1a0000 25.1%,#1a0000 26.7%,#270000 29.4%,#400 33.1%,#4a0000 33.4%,#4f0000 34.1%,#860000 38.7%,#960000 40.7%,#9e0000 42.4%,#a00000 48.3%,#980000 50.7%,#960000 52.3%,#900000 53.3%,#890000 56.3%,#830000 57.3%,#810000 58.6%,#7b0000 60%,#7b0000 61.3%,#810000 61.6%,#890000 62.6%,#930000 63.3%,#b00000 64.3%,#bd0000 64.6%,#df0000 65.9%,#e40000 66.3%,#f70000 66.9%,#ff0500 67.3%,#f20 67.6%,#ff4700 68.3%,#ff6100 68.6%,#ff7b00 69.3%,#ff8b00 69.6%,#ff9300 69.9%,#ffa000 70.6%,#ffa500 71.3%,#ffa800 72.3%,#ffb000 73.3%,#ffb500 74.9%,#ffb500 83.9%,#ffad00 84.9%,#ffa500 85.2%,#f80 87.2%,#ff7900 88.5%,#f60 89.5%,#ff5e00 89.9%,#ff5100 90.2%,#ff3f00 90.9%,#ff3200 91.2%,#ff1500 92.2%,#ff0500 92.5%,#fc0000 92.9%,#ec0000 93.5%,#e40000 94.2%,#ca0000 95.5%,#c00000 96.2%,#900000 98.5%,#810000 99.8%)"></div>
<div class="r" style="top:355px;height:6px;background:linear-gradient(90deg,#100000 0.2%,#120000 2.2%,#1a0000 4.2%,#2a0000 6.1%,#370000 7.1%,#590000 8.5%,#7e0000 9.5%,#a00000 10.1%,#b50000 10.5%,#ca0000 10.8%,#fc0000 11.5%,#ff1700 11.8%,#ff8600 13.1%,#ffb700 13.8%,#ffca00 14.1%,#ffd700 14.5%,#ffdc00 14.8%,#ffd700 15.1%,#ffca00 15.4%,#ffb200 15.8%,#ff9300 16.1%,#f00 17.4%,#a50000 18.4%,#690000 19.4%,#510000 20.1%,#3f0000 20.8%,#2f0000 21.8%,#200 23.1%,#1a0000 24.8%,#1d0000 27.7%,#2f0000 30.7%,#3c0000 32.4%,#420000 32.7%,#540000 34.7%,#710000 37%,#890000 39.4%,#960000 41.7%,#9b0000 43.4%,#9b0000 45%,#9e0000 45.3%,#9b0000 48.7%,#8b0000 54%,#890000 55.6%,#830000 56.6%,#790000 60.3%,#900000 62.3%,#a80000 63.3%,#d50000 64.6%,#e40000 65.3%,#f20000 65.6%,#f90000 65.9%,#ff0500 66.3%,#ff1a00 66.6%,#ff3c00 67.3%,#ff5c00 67.6%,#ff7100 67.9%,#ff8000 68.3%,#ff9500 68.6%,#ffba00 69.9%,#ffca00 70.9%,#ffcf00 72.6%,#ffd700 73.9%,#ffd700 74.6%,#ffdc00 75.2%,#ffdc00 83.9%,#ffd400 84.9%,#ffba00 86.2%,#ff9300 88.9%,#ff7600 89.9%,#f60 90.2%,#ff5600 90.9%,#ff4900 91.2%,#ff0200 93.5%,#fc0000 93.9%,#f40000 94.2%,#d20000 96.2%,#c20000 96.8%,#b00000 97.8%,#980000 98.8%,#890000 99.8%)"></div>
<div class="r" style="top:361px;height:6px;background:linear-gradient(90deg,#100000 0.2%,#120000 2.2%,#1a0000 4.2%,#270000 6.1%,#3c0000 7.5%,#4c0000 8.1%,#6e0000 9.1%,#8e0000 9.8%,#b80000 10.5%,#ec0000 11.1%,#ff0a00 11.5%,#ff2700 11.8%,#ffc700 13.5%,#fff400 14.1%,#fffe00 14.5%,#fffe00 14.8%,#fff400 15.1%,#ffdf00 15.4%,#ff9800 16.1%,#ff4900 16.8%,#f00 17.4%,#bd0000 18.1%,#8b0000 18.8%,#760000 19.1%,#590000 19.8%,#400 20.4%,#3c0000 20.8%,#2a0000 22.1%,#1a0000 24.8%,#1a0000 27.1%,#270000 29.7%,#420000 33.1%,#810000 39%,#8e0000 40.7%,#960000 43%,#960000 49%,#930000 49.3%,#890000 54.7%,#830000 55.6%,#810000 57.3%,#7b0000 58.6%,#7b0000 59.6%,#810000 60%,#8e0000 61.3%,#a00000 62%,#b80000 62.6%,#c80000 63.3%,#d50000 63.6%,#e70000 64.3%,#f00 65%,#ff0d00 65.3%,#f20 65.6%,#ff4100 66.3%,#ff5e00 66.6%,#ff8300 67.3%,#ff9d00 67.6%,#ffad00 67.9%,#ffc700 68.6%,#ffdc00 69.6%,#fff100 70.9%,#fff600 71.6%,#fff600 72.6%,#fffe00 73.6%,#ffff03 73.9%,#ffff03 74.6%,#ffff0f 75.6%,#ffff0f 76.9%,#ffff13 77.2%,#ffff13 82.6%,#ffff0f 82.9%,#ffff0f 83.9%,#fffc00 84.9%,#ffef00 85.2%,#ffca00 87.2%,#ffc200 87.9%,#ffad00 88.9%,#ffa200 89.2%,#ff9300 89.9%,#ff7b00 90.5%,#ff7300 90.9%,#ff6400 91.2%,#ff4900 92.2%,#ff3c00 92.5%,#ff2c00 93.2%,#ff1f00 93.5%,#ff1200 94.2%,#ff0500 94.5%,#f00 94.9%,#ef0000 95.5%,#d20000 97.2%,#c80000 97.5%,#bd0000 98.2%,#930000 99.8%)"></div>
<div class="r" style="top:367px;height:6px;background:linear-gradient(90deg,#100000 0.2%,#120000 2.2%,#1d0000 4.8%,#2a0000 6.5%,#3a0000 7.5%,#540000 8.5%,#6e0000 9.1%,#7e0000 9.5%,#c00000 10.5%,#f90000 11.1%,#ff1d00 11.5%,#ff3f00 11.8%,#f80 12.5%,#ffb000 12.8%,#fff400 13.5%,#ffff17 13.8%,#ffff32 14.1%,#ffff3a 14.5%,#ffff2e 14.8%,#ffff0f 15.1%,#ffe900 15.4%,#ffc500 15.8%,#ff4c00 16.8%,#fc0000 17.4%,#ba0000 18.1%,#9e0000 18.4%,#860000 18.8%,#640000 19.4%,#4c0000 20.1%,#420000 20.4%,#350000 21.1%,#270000 22.1%,#1a0000 24.4%,#1a0000 27.1%,#270000 29.7%,#4a0000 34.1%,#810000 39.4%,#8e0000 42%,#900000 44%,#930000 44.4%,#930000 48%,#900000 48.3%,#890000 53.3%,#7b0000 57.6%,#7b0000 58.6%,#8e0000 60.3%,#a50000 61.3%,#b50000 61.6%,#ca0000 62.3%,#da0000 62.6%,#ec0000 63.3%,#f90000 63.6%,#ff0500 64%,#ff1200 64.3%,#ff2a00 64.6%,#ff4700 65.3%,#ff8600 66.3%,#ffa500 66.6%,#ffc700 67.3%,#ffdc00 67.6%,#ffff03 68.6%,#ffff0b 68.9%,#ffff0f 69.3%,#ffff1f 69.9%,#ffff26 70.6%,#ffff36 71.3%,#ffff3e 71.9%,#ffff42 72.9%,#ffff4a 73.6%,#ffff52 73.9%,#ffff56 74.9%,#ffff65 76.2%,#ffff65 83.2%,#ffff61 83.9%,#ffff42 84.9%,#ffff2e 85.2%,#ffff03 86.2%,#fff900 86.5%,#ffe900 87.2%,#ffdf00 87.9%,#ffcf00 88.5%,#ffca00 88.9%,#ffbf00 89.2%,#ffb000 89.9%,#ff9300 90.9%,#ff6e00 91.9%,#f60 92.2%,#ff5900 92.5%,#ff0200 95.8%,#cf0000 98.2%,#c50000 98.5%,#b80000 99.2%,#ad0000 99.5%,#a80000 99.8%)"></div>
<div class="r" style="top:373px;height:7px;background:linear-gradient(90deg,#100000 0.2%,#120000 1.8%,#1d0000 4.8%,#2a0000 6.5%,#3a0000 7.5%,#540000 8.5%,#710000 9.1%,#980000 9.8%,#b00000 10.1%,#ec0000 10.8%,#ff1000 11.1%,#ff5e00 11.8%,#ffe100 12.8%,#ffff0f 13.1%,#ffff42 13.5%,#ffff65 13.8%,#ffff75 14.1%,#ffff71 14.5%,#ffff56 14.8%,#ffff2a 15.1%,#fff900 15.4%,#ffa800 16.1%,#ff2500 17.1%,#fc0000 17.4%,#d70000 17.8%,#9b0000 18.4%,#830000 18.8%,#710000 19.1%,#540000 19.8%,#3f0000 20.4%,#2a0000 21.8%,#200 22.8%,#1a0000 24.4%,#1a0000 27.1%,#2f0000 31.1%,#510000 35%,#570000 35.4%,#740000 38.4%,#810000 40%,#890000 41.7%,#8b0000 44%,#8e0000 44.4%,#8e0000 48.7%,#8b0000 49%,#890000 51.7%,#860000 52%,#860000 53%,#830000 53.3%,#7b0000 57.3%,#900000 59.3%,#a80000 60.3%,#b80000 60.6%,#e40000 62%,#f20000 62.3%,#ff0500 62.6%,#ff1f00 63.3%,#ff3200 63.6%,#ff4c00 64.3%,#ff6400 64.6%,#ff7600 65%,#ff8e00 65.3%,#ffad00 65.6%,#ffd400 66.3%,#fff400 66.6%,#ffff07 66.9%,#ffff2a 67.6%,#ffff52 68.9%,#ffff69 70.3%,#ffff8d 71.9%,#ffff91 72.3%,#ffff91 72.6%,#ff9 72.9%,#ff9 73.3%,#ffffa8 73.9%,#ffffb0 74.6%,#ffffb0 74.9%,#ffffc8 76.9%,#ffffc8 82.9%,#ffffc0 83.6%,#ffffb8 83.9%,#ff9 84.9%,#ffff89 85.2%,#ffff81 85.5%,#ffff75 85.9%,#ffff61 86.2%,#ffff42 86.9%,#ffff2a 87.2%,#ffff1f 87.5%,#fffc00 88.2%,#ffef00 88.9%,#ffe400 89.2%,#ffba00 90.9%,#ff7600 92.9%,#ff1f00 96.2%,#ff1200 96.5%,#f00 97.2%,#f40000 97.5%,#e70000 98.2%,#bd0000 99.8%)"></div>
<div class="r" style="top:380px;height:6px;background:linear-gradient(90deg,#100000 0.2%,#120000 1.8%,#200000 5.5%,#2a0000 6.5%,#3a0000 7.5%,#570000 8.5%,#760000 9.1%,#a30000 9.8%,#df0000 10.5%,#ff0500 10.8%,#ff2c00 11.1%,#ff5900 11.5%,#ffba00 12.1%,#ffef00 12.5%,#ffff2e 12.8%,#ffff6d 13.1%,#ff9 13.5%,#ffffb4 13.8%,#ffffb4 14.1%,#ffff9d 14.5%,#ffff79 14.8%,#ffff4a 15.1%,#ffff13 15.4%,#ffdf00 15.8%,#ff2700 17.1%,#fc0000 17.4%,#d50000 17.8%,#b50000 18.1%,#980000 18.4%,#810000 18.8%,#5f0000 19.4%,#510000 19.8%,#470000 20.1%,#370000 20.8%,#200 22.4%,#1a0000 24.1%,#180000 25.7%,#1a0000 27.1%,#2a0000 30.4%,#4c0000 34.7%,#740000 38.7%,#860000 42.4%,#860000 43.7%,#890000 44%,#890000 49.3%,#860000 49.7%,#810000 54%,#7b0000 56%,#8b0000 57.6%,#a30000 59%,#bd0000 60%,#ea0000 61.3%,#f00 61.6%,#ff1a00 62.3%,#ff2c00 62.6%,#ff4700 63.3%,#ff7b00 64.3%,#ff9800 64.6%,#ffbf00 65.3%,#ffdf00 65.6%,#fff400 65.9%,#ffff0b 66.3%,#ffff2e 66.6%,#ffff3e 66.9%,#ffff4a 67.3%,#ffff5e 67.6%,#ffff71 68.3%,#ffff81 68.6%,#ff9 69.6%,#ffffa4 70.3%,#ffffd4 72.3%,#ffffe7 73.6%,#fffff3 73.9%,#fff 74.6%,#fff 83.9%,#fffffb 84.2%,#ffffeb 84.9%,#ffffd4 85.5%,#ffc 85.9%,#ffffb8 86.2%,#ff9 86.9%,#ffff81 87.2%,#ffff75 87.5%,#ffff65 87.9%,#ffff4e 88.2%,#ffff2e 88.9%,#ffff17 89.2%,#ffff07 89.5%,#fffc00 89.9%,#ffef00 90.2%,#ffdf00 90.9%,#ffd200 91.2%,#ff9800 93.2%,#f80 93.5%,#ff7600 94.2%,#ff6900 94.5%,#ff3f00 96.2%,#ff1200 97.5%,#f00 98.2%,#f20000 98.5%,#d20000 99.8%)"></div>
<div class="r" style="top:386px;height:6px;background:linear-gradient(90deg,#100000 0.2%,#1a0000 4.5%,#250000 6.1%,#3a0000 7.5%,#5c0000 8.5%,#7e0000 9.1%,#960000 9.5%,#b30000 9.8%,#d20000 10.1%,#f70000 10.5%,#f20 10.8%,#f80 11.5%,#fff900 12.1%,#ffff4a 12.5%,#ffff95 12.8%,#ffc 13.1%,#ffffeb 13.5%,#fffff3 13.8%,#ffffeb 14.1%,#ffffd0 14.5%,#ffffa4 14.8%,#ffff6d 15.1%,#ffff2e 15.4%,#ffef00 15.8%,#ff5600 16.8%,#ff2700 17.1%,#f90000 17.4%,#b30000 18.1%,#960000 18.4%,#6c0000 19.1%,#5c0000 19.4%,#400 20.1%,#2f0000 21.1%,#270000 21.8%,#1a0000 24.1%,#180000 25.7%,#1d0000 28.1%,#270000 30.1%,#400 34.1%,#4a0000 34.4%,#740000 39.4%,#7e0000 41.4%,#830000 43.7%,#830000 50%,#7b0000 55%,#930000 57%,#a30000 57.6%,#a80000 58%,#b30000 58.3%,#c80000 59.3%,#d50000 59.6%,#e40000 60.3%,#f40000 60.6%,#f00 61%,#ff0d00 61.3%,#f20 61.6%,#ff3c00 62.3%,#ff5100 62.6%,#ff6b00 63.3%,#ff8600 63.6%,#ffad00 64.3%,#ffca00 64.6%,#fff600 65.3%,#ffff1b 65.6%,#ffff5e 66.6%,#ffff7d 67.3%,#ffff91 67.6%,#ffffc0 68.9%,#ffffe7 70.6%,#fffffb 71.3%,#fff 71.6%,#fff 86.5%,#fffff3 86.9%,#ffffc8 87.5%,#ffffb8 87.9%,#ffffa0 88.2%,#ffff95 88.5%,#ffff85 88.9%,#ffff6d 89.2%,#ffff1b 90.9%,#fffe00 91.2%,#ffec00 91.9%,#ffd400 92.5%,#ffc200 93.2%,#ffa000 94.2%,#ff9000 94.5%,#ff7e00 95.2%,#ff6e00 95.5%,#ff5e00 96.2%,#ff5100 96.5%,#ff4100 97.2%,#ff1f00 98.2%,#ff0500 98.8%,#f90000 99.2%,#e70000 99.8%)"></div>
<div class="r" style="top:392px;height:6px;background:linear-gradient(90deg,#100000 0.2%,#1a0000 4.5%,#200 5.8%,#2f0000 6.8%,#3c0000 7.5%,#610000 8.5%,#8b0000 9.1%,#c80000 9.8%,#ef0000 10.1%,#ff1d00 10.5%,#ff4f00 10.8%,#f80 11.1%,#ffc700 11.5%,#ffff0f 11.8%,#ffff6d 12.1%,#ffffc0 12.5%,#fff 12.8%,#fff 14.5%,#ffffdf 14.8%,#ffffa0 15.1%,#ffff56 15.4%,#ffff03 15.8%,#ffca00 16.1%,#ff9000 16.4%,#ff5c00 16.8%,#ff2a00 17.1%,#fc0000 17.4%,#d50000 17.8%,#b30000 18.1%,#960000 18.4%,#7e0000 18.8%,#5c0000 19.4%,#3a0000 20.4%,#2a0000 21.4%,#200 22.4%,#1a0000 24.1%,#180000 25.4%,#1a0000 27.4%,#2f0000 31.4%,#510000 35.7%,#5f0000 37%,#6c0000 38.7%,#790000 41%,#7b0000 42.7%,#7e0000 43%,#7e0000 45%,#810000 45.3%,#810000 48.3%,#7e0000 48.7%,#7e0000 51%,#7b0000 51.3%,#790000 53.3%,#7b0000 54%,#980000 56%,#a30000 56.3%,#a80000 56.6%,#d20000 58.3%,#d70000 58.6%,#e70000 59.3%,#fc0000 60%,#ff0800 60.3%,#ff1d00 60.6%,#ff4700 61.6%,#ff5e00 62.3%,#ff7600 62.6%,#ff9d00 63.3%,#ffba00 63.6%,#ffdf00 64.3%,#fffe00 64.6%,#ffff1f 65%,#ffff3a 65.3%,#ffff5a 65.6%,#ffff7d 66.3%,#ff9 66.6%,#ffffb4 67.3%,#ffc 67.6%,#ffffd8 67.9%,#ffffdf 68.3%,#ffffef 68.6%,#fff 69.3%,#fff 87.9%,#fffffb 88.2%,#ffffdc 88.9%,#ffffc4 89.2%,#ffffb8 89.5%,#ffff75 90.9%,#ffff5e 91.2%,#ffff4a 91.5%,#ffff3a 91.9%,#ffff0f 92.5%,#fffe00 92.9%,#ffe100 93.5%,#ffa800 95.2%,#ff9800 95.5%,#ff8600 96.2%,#ff7600 96.5%,#ff6100 97.2%,#ff5100 97.5%,#ff3c00 98.2%,#ff2c00 98.5%,#ff2500 98.8%,#ff0200 99.8%)"></div>
<div class="r" style="top:398px;height:6px;background:linear-gradient(90deg,#100000 0.2%,#1a0000 4.5%,#2f0000 6.8%,#3f0000 7.5%,#590000 8.1%,#690000 8.5%,#9b0000 9.1%,#ba0000 9.5%,#e20000 9.8%,#ff1000 10.1%,#ff4700 10.5%,#ff8300 10.8%,#ffc500 11.1%,#ffff13 11.5%,#ffff79 11.8%,#ffffd8 12.1%,#fff 12.5%,#fff 14.8%,#ffffc0 15.1%,#ffff13 15.8%,#ffcf00 16.1%,#ff9300 16.4%,#ff5c00 16.8%,#ff2a00 17.1%,#fc0000 17.4%,#d50000 17.8%,#b30000 18.1%,#7b0000 18.8%,#590000 19.4%,#420000 20.1%,#320000 20.8%,#270000 21.8%,#1a0000 24.1%,#180000 25.4%,#1a0000 27.4%,#2a0000 30.7%,#350000 32.1%,#3c0000 33.4%,#690000 38.7%,#740000 40.7%,#7b0000 44%,#7b0000 49.7%,#790000 52%,#760000 52.3%,#890000 53.7%,#8b0000 54%,#9e0000 55%,#b00000 55.6%,#b50000 56%,#c80000 56.6%,#cd0000 57%,#df0000 57.6%,#e40000 58%,#f20000 58.3%,#f90000 58.6%,#ff0200 59%,#ff0d00 59.3%,#ff1f00 59.6%,#ff3400 60.3%,#ff4900 60.6%,#ff6100 61.3%,#ff7900 61.6%,#ff9b00 62.3%,#ffb500 62.6%,#ffdc00 63.3%,#fffc00 63.6%,#ffff2e 64.3%,#ffff52 64.6%,#ffff7d 65.3%,#ffff9d 65.6%,#ffffc0 66.3%,#ffffdc 66.6%,#ffffe7 66.9%,#fffff7 67.3%,#fff 67.6%,#fff 89.9%,#ffff8d 92.2%,#ffff71 92.5%,#ffff4a 93.2%,#ffff26 93.5%,#ffff0f 93.9%,#fff900 94.2%,#ffe400 94.5%,#ffad00 96.2%,#ff9b00 96.5%,#ff8000 97.2%,#ff6b00 97.5%,#ff5600 98.2%,#ff4700 98.5%,#ff3400 99.2%,#ff1700 99.8%)"></div>
<div class="r" style="top:404px;height:6px;background:linear-gradient(90deg,#100000 0.2%,#150000 2.8%,#200000 5.5%,#320000 6.8%,#420000 7.5%,#5f0000 8.1%,#8b0000 8.8%,#ab0000 9.1%,#cf0000 9.5%,#fc0000 9.8%,#ff3400 10.1%,#ff7100 10.5%,#fffe00 11.1%,#ffff69 11.5%,#ffc 11.8%,#fff 12.1%,#fff 14.8%,#ffffc0 15.1%,#ffff07 15.8%,#ffc700 16.1%,#ff8b00 16.4%,#ff5400 16.8%,#f20 17.1%,#f40000 17.4%,#cd0000 17.8%,#ab0000 18.1%,#8e0000 18.4%,#760000 18.8%,#640000 19.1%,#470000 19.8%,#370000 20.4%,#270000 21.4%,#1a0000 23.8%,#180000 25.1%,#1a0000 27.4%,#270000 30.4%,#5f0000 37.7%,#610000 38.4%,#6c0000 39.7%,#740000 41.7%,#760000 45.3%,#790000 45.7%,#740000 51%,#7b0000 51.7%,#900000 53%,#a50000 54%,#b00000 54.3%,#bd0000 55%,#c80000 55.3%,#cd0000 55.6%,#df0000 56.3%,#ec0000 57%,#f90000 57.3%,#ff0200 57.6%,#ff0d00 58%,#ff1d00 58.3%,#ff3200 59%,#ff6900 60.3%,#ffa200 61.3%,#ffbd00 61.6%,#ffe100 62.3%,#ffff03 62.6%,#ffff3e 63.3%,#ffff61 63.6%,#ffff8d 64.3%,#ffffac 64.6%,#ffffd4 65.3%,#ffffef 65.6%,#fff 65.9%,#fff 91.9%,#fffff3 92.2%,#ffffc8 92.9%,#ffffb8 93.2%,#ff9 93.5%,#ffff81 93.9%,#ffff65 94.2%,#ffff3a 94.5%,#fffe00 95.2%,#ffe700 95.5%,#ffcf00 96.2%,#ffbd00 96.5%,#ffa200 97.2%,#ff8b00 97.5%,#ff2500 99.8%)"></div>
<div class="r" style="top:410px;height:7px;background:linear-gradient(90deg,#100000 0.2%,#120000 1.8%,#1d0000 5.1%,#200 5.8%,#320000 6.8%,#400 7.5%,#510000 7.8%,#640000 8.1%,#960000 8.8%,#ba0000 9.1%,#e40000 9.5%,#ff1a00 9.8%,#ff5600 10.1%,#ff9800 10.5%,#ffdf00 10.8%,#ffff36 11.1%,#ff9 11.5%,#ffffef 11.8%,#fff 12.1%,#fff 14.5%,#fffff3 14.8%,#ffff9d 15.1%,#ffff42 15.4%,#ffef00 15.8%,#ffb200 16.1%,#ff4100 16.8%,#ff1200 17.1%,#e40000 17.4%,#bd0000 17.8%,#830000 18.4%,#5c0000 19.1%,#420000 19.8%,#2f0000 20.8%,#270000 21.4%,#200000 22.4%,#180000 24.8%,#1a0000 27.4%,#250000 30.1%,#2d0000 31.1%,#370000 33.1%,#5f0000 38%,#600 39.7%,#6c0000 40.4%,#710000 43.7%,#740000 44%,#740000 49.3%,#710000 49.7%,#740000 50%,#7e0000 50.3%,#860000 51%,#980000 52%,#a80000 52.7%,#ad0000 53%,#b80000 53.3%,#c50000 54%,#d20000 54.3%,#d70000 54.7%,#f90000 56%,#ff0800 56.3%,#ff4100 58%,#ff5400 58.3%,#ff5e00 58.6%,#ff7900 59.3%,#ff9000 59.6%,#ffb200 60.3%,#ffcf00 60.6%,#fff400 61.3%,#ffff1f 61.6%,#ffff5a 62.3%,#ffff81 62.6%,#ffff9d 63%,#ffffb4 63.3%,#ffffd8 63.6%,#fff 64.3%,#fff 93.9%,#fffff7 94.2%,#ffffc4 94.5%,#ffff7d 95.2%,#ffff4a 95.5%,#ffff0b 96.2%,#ffec00 96.5%,#ffcf00 97.2%,#ffb500 97.5%,#ff9300 98.2%,#ff7b00 98.5%,#ff5e00 99.2%,#ff4700 99.5%,#ff3700 99.8%)"></div>
<div class="r" style="top:417px;height:6px;background:linear-gradient(90deg,#100000 0.2%,#1a0000 4.8%,#200 5.8%,#3c0000 7.1%,#470000 7.5%,#570000 7.8%,#6c0000 8.1%,#860000 8.5%,#a50000 8.8%,#cd0000 9.1%,#f00 9.5%,#ff3700 9.8%,#fffc00 10.8%,#ffff5e 11.1%,#ffffb4 11.5%,#fff 11.8%,#fff 14.5%,#ffc 14.8%,#ffff1b 15.4%,#ffd700 15.8%,#ff9b00 16.1%,#ff6400 16.4%,#ff2f00 16.8%,#fc0000 17.1%,#d20000 17.4%,#b00000 17.8%,#900000 18.1%,#790000 18.4%,#640000 18.8%,#540000 19.1%,#370000 20.1%,#270000 21.1%,#1d0000 22.8%,#180000 24.8%,#180000 26.7%,#1a0000 27.7%,#2a0000 31.1%,#3f0000 34.1%,#3f0000 34.4%,#5c0000 38%,#6c0000 41.4%,#6e0000 44.7%,#710000 45%,#6e0000 49%,#810000 49.7%,#9b0000 51%,#a50000 51.3%,#b00000 52%,#d20000 53.3%,#df0000 54%,#ec0000 54.3%,#f00 55%,#ff1000 55.3%,#ff1700 55.6%,#ff3a00 56.6%,#ff4100 57%,#ff5400 57.3%,#ff6b00 58%,#ff8300 58.3%,#ffb500 59.3%,#fc0 59.6%,#fff400 60.3%,#ffff1f 60.6%,#ffff5e 61.3%,#ffff85 61.6%,#ffffa0 62%,#ffffc0 62.3%,#ffffe7 62.6%,#fff 63%,#fff 94.9%,#ffffdc 95.2%,#ffffa4 95.5%,#ffff5e 96.2%,#ffff2a 96.5%,#ffff07 96.8%,#ffec00 97.2%,#ffcf00 97.5%,#ffad00 98.2%,#ff9300 98.5%,#ff6e00 99.2%,#ff5400 99.5%,#f40 99.8%)"></div>
<div class="r" style="top:423px;height:6px;background:linear-gradient(90deg,#100000 0.2%,#120000 2.2%,#1a0000 4.8%,#200 5.8%,#2d0000 6.5%,#3f0000 7.1%,#4c0000 7.5%,#760000 8.1%,#930000 8.5%,#ba0000 8.8%,#e70000 9.1%,#ff1d00 9.5%,#ff5900 9.8%,#ffd700 10.5%,#ff2 10.8%,#ffff81 11.1%,#ffffdc 11.5%,#fff 11.8%,#fff 14.5%,#fffe00 15.4%,#ffbf00 15.8%,#ff4c00 16.4%,#ff1a00 16.8%,#ea0000 17.1%,#c20000 17.4%,#860000 18.1%,#710000 18.4%,#4f0000 19.1%,#3c0000 19.8%,#2a0000 20.8%,#200000 22.1%,#180000 24.4%,#180000 26.7%,#270000 30.7%,#350000 32.7%,#370000 33.4%,#570000 37.7%,#640000 40%,#690000 41.7%,#690000 43%,#6c0000 43.4%,#6c0000 48%,#710000 48.3%,#b30000 51%,#c80000 52%,#d20000 52.3%,#d70000 52.7%,#f90000 54%,#ff0a00 54.3%,#ff4100 56%,#f60 57%,#ffa000 58%,#ffba00 58.3%,#ffec00 59.3%,#ffff13 59.6%,#ffff52 60.3%,#ffff81 60.6%,#ffffb8 61.3%,#ffffe3 61.6%,#fff 62%,#fff 95.2%,#ffffd0 95.5%,#ffffa8 95.8%,#ffff85 96.2%,#ffff46 96.5%,#ffff1f 96.8%,#fff900 97.2%,#ffdc00 97.5%,#ffb700 98.2%,#ff9d00 98.5%,#ff7600 99.2%,#ff5c00 99.5%,#ff4c00 99.8%)"></div>
<div class="r" style="top:429px;height:6px;background:linear-gradient(90deg,#100000 0.2%,#120000 2.2%,#1a0000 4.8%,#200000 5.5%,#2f0000 6.5%,#400 7.1%,#540000 7.5%,#690000 7.8%,#860000 8.1%,#a80000 8.5%,#ff0200 9.1%,#ff3a00 9.5%,#fff100 10.5%,#ffff4e 10.8%,#ffffac 11.1%,#fff 11.5%,#fff 14.1%,#ffffe3 14.5%,#ffff91 14.8%,#ffff36 15.1%,#ffe700 15.4%,#ffa800 15.8%,#ff6e00 16.1%,#ff3700 16.4%,#ff0800 16.8%,#da0000 17.1%,#b50000 17.4%,#980000 17.8%,#7e0000 18.1%,#690000 18.4%,#4c0000 19.1%,#320000 20.1%,#200 21.8%,#1a0000 23.4%,#180000 27.1%,#1a0000 28.1%,#2a0000 31.4%,#3c0000 34.4%,#570000 38%,#5f0000 39.7%,#600 42%,#600 43.7%,#690000 44%,#690000 47.3%,#710000 47.7%,#7e0000 48%,#a00000 49.3%,#ad0000 50%,#b80000 50.3%,#c50000 51%,#f70000 53%,#ff0500 53.3%,#ff3c00 55%,#ff4c00 55.3%,#ff5e00 56%,#ff7100 56.3%,#ff7e00 56.6%,#ff9000 57%,#ffad00 57.3%,#ffd400 58%,#fff400 58.3%,#ffff0f 58.6%,#ffff2e 59%,#ffff4e 59.3%,#ffff79 59.6%,#ffffb4 60.3%,#ffffdf 60.6%,#fff 61%,#fff 95.2%,#fffff3 95.5%,#ffc 95.8%,#ffffa4 96.2%,#ffff65 96.5%,#ffff0f 97.2%,#ffe400 97.5%,#ffbf00 98.2%,#ffa200 98.5%,#ff7900 99.2%,#ff5c00 99.5%,#ff4c00 99.8%)"></div>
<div class="r" style="top:435px;height:6px;background:linear-gradient(90deg,#100000 0.2%,#120000 2.5%,#1a0000 4.8%,#250000 5.8%,#320000 6.5%,#3c0000 6.8%,#4c0000 7.1%,#5f0000 7.5%,#760000 7.8%,#960000 8.1%,#e70000 8.8%,#ff1a00 9.1%,#ff8b00 9.8%,#ffca00 10.1%,#ffff13 10.5%,#ffc 11.1%,#fff 11.5%,#fff 14.1%,#ffffbc 14.5%,#ffff69 14.8%,#ffff0b 15.1%,#ffca00 15.4%,#ff5400 16.1%,#f20 16.4%,#f20000 16.8%,#ca0000 17.1%,#ab0000 17.4%,#8e0000 17.8%,#760000 18.1%,#540000 18.8%,#470000 19.1%,#370000 19.8%,#270000 20.8%,#1d0000 22.4%,#180000 24.4%,#180000 27.1%,#270000 31.1%,#3f0000 34.7%,#3f0000 35%,#4a0000 36.4%,#5f0000 40.4%,#610000 42.4%,#640000 42.7%,#640000 46.7%,#760000 47%,#890000 47.7%,#960000 48%,#a30000 48.7%,#b50000 49.3%,#c20000 50%,#cd0000 50.3%,#d20000 50.7%,#e40000 51.3%,#f20000 52%,#f00 52.3%,#ff1500 53%,#ff2500 53.3%,#ff4700 54.3%,#ff5900 55%,#ff7600 55.6%,#ff8600 56%,#ffa200 56.3%,#ffca00 57%,#ffe700 57.3%,#fffe00 57.6%,#ff2 58%,#ffff52 58.3%,#ffff75 58.6%,#ffffb0 59.3%,#ffffdf 59.6%,#fffffb 60%,#fff 60.3%,#fff 95.5%,#fffff3 95.8%,#ffffc8 96.2%,#ffff81 96.5%,#ffff56 96.8%,#ffff26 97.2%,#ffef00 97.5%,#ffc500 98.2%,#fa0 98.5%,#ff8000 99.2%,#ff5e00 99.5%,#ff4900 99.8%)"></div>
<div class="r" style="top:441px;height:6px;background:linear-gradient(90deg,#100000 0.2%,#120000 2.8%,#1a0000 4.8%,#270000 5.8%,#350000 6.5%,#510000 7.1%,#600 7.5%,#a00000 8.1%,#ec0000 8.8%,#ff1d00 9.1%,#ff5100 9.5%,#ffc700 10.1%,#ffff07 10.5%,#ffff5e 10.8%,#ffffac 11.1%,#ffffef 11.5%,#fff 11.8%,#fff 13.5%,#ffffeb 13.8%,#ffffac 14.1%,#ffff5e 14.5%,#ffff0b 14.8%,#fc0 15.1%,#ff5e00 15.8%,#ff2c00 16.1%,#f00 16.4%,#d70000 16.8%,#b50000 17.1%,#7e0000 17.8%,#590000 18.4%,#4c0000 18.8%,#3a0000 19.4%,#2a0000 20.4%,#200000 21.8%,#180000 24.1%,#180000 27.4%,#200 30.1%,#2f0000 32.7%,#4a0000 36.7%,#590000 39.7%,#5f0000 41.7%,#610000 46.3%,#6c0000 46.7%,#810000 47%,#960000 47.7%,#a50000 48%,#bd0000 49%,#c80000 49.3%,#d50000 50%,#e70000 50.7%,#ec0000 51%,#f90000 51.3%,#ff0500 51.7%,#ff1000 52%,#ff1f00 52.3%,#ff3400 53%,#f40 53.3%,#ff5900 54%,#ff7e00 55%,#ff9800 55.3%,#ffba00 56%,#ffd700 56.3%,#ffec00 56.6%,#ffff07 57%,#ffff3a 57.3%,#ffff5e 57.6%,#ffff7d 58%,#ffffac 58.3%,#ffffeb 59%,#fff 59.3%,#fff 95.8%,#ffffd8 96.2%,#ffff8d 96.5%,#ffff26 97.2%,#ffec00 97.5%,#ffbf00 98.2%,#ffa000 98.5%,#ff7300 99.2%,#ff5100 99.5%,#ff3a00 99.8%)"></div>
<div class="r" style="top:447px;height:7px;background:linear-gradient(90deg,#100000 0.2%,#120000 2.8%,#1a0000 4.8%,#270000 5.8%,#370000 6.5%,#400 6.8%,#570000 7.1%,#6c0000 7.5%,#860000 7.8%,#a30000 8.1%,#ef0000 8.8%,#ff1f00 9.1%,#ff5100 9.5%,#fff400 10.5%,#ffff3a 10.8%,#ffff7d 11.1%,#ffffb4 11.5%,#ffffdc 11.8%,#fffff7 12.1%,#fff 12.5%,#fff 12.8%,#ffffe7 13.1%,#ffffc0 13.5%,#ffff8d 13.8%,#ffff4a 14.1%,#fffe00 14.5%,#f60 15.4%,#ff0a00 16.1%,#e20000 16.4%,#c00000 16.8%,#890000 17.4%,#610000 18.1%,#470000 18.8%,#370000 19.4%,#270000 20.4%,#1a0000 22.8%,#180000 27.4%,#200 30.4%,#2d0000 32.1%,#370000 34.4%,#470000 36.7%,#570000 40%,#590000 41.7%,#5c0000 42%,#5f0000 46%,#600 46.3%,#890000 47%,#a00000 47.7%,#b00000 48%,#c20000 48.7%,#da0000 49.3%,#ea0000 50%,#f70000 50.3%,#ff0200 50.7%,#ff0d00 51%,#ff1d00 51.3%,#ff2700 51.7%,#f40 52.3%,#ff5900 53%,#ff8300 54%,#ff9b00 54.3%,#ffba00 55%,#ffd200 55.3%,#fff900 56%,#ffff2a 56.3%,#ffff71 57%,#ffffa0 57.3%,#fff 58.3%,#fff 95.8%,#ffffd8 96.2%,#ffff81 96.5%,#ffff46 96.8%,#ffff0f 97.2%,#ffdc00 97.5%,#ffb000 98.2%,#ff8e00 98.5%,#ff7300 98.8%,#ff5c00 99.2%,#ff3a00 99.5%,#f20 99.8%)"></div>
<div class="r" style="top:454px;height:6px;background:linear-gradient(90deg,#100000 0.2%,#150000 3.8%,#200000 5.1%,#320000 6.1%,#3c0000 6.5%,#5c0000 7.1%,#8b0000 7.8%,#a80000 8.1%,#f40000 8.8%,#f20 9.1%,#ffe900 10.5%,#ffff1f 10.8%,#ffff5a 11.1%,#ffff89 11.5%,#ffffac 11.8%,#ffffc0 12.1%,#ffffc8 12.5%,#ffffbc 12.8%,#ffffa0 13.1%,#ffff75 13.5%,#ffff3e 13.8%,#fffe00 14.1%,#f40 15.4%,#ff1a00 15.8%,#f20000 16.1%,#b00000 16.8%,#7e0000 17.4%,#5c0000 18.1%,#400 18.8%,#3c0000 19.1%,#2a0000 20.1%,#200 21.1%,#1a0000 22.8%,#180000 25.1%,#150000 25.4%,#1d0000 29.4%,#370000 34.7%,#4a0000 37.7%,#540000 40%,#590000 42.4%,#590000 45.7%,#610000 46%,#7b0000 46.7%,#8e0000 47%,#a80000 47.7%,#ba0000 48%,#c80000 48.3%,#d00 49%,#ec0000 49.3%,#f40000 49.7%,#ff0200 50%,#ff1500 50.3%,#ff2c00 51%,#ff3f00 51.3%,#ff5400 52%,#f60 52.3%,#ff7e00 53%,#ff9300 53.3%,#ffb000 54%,#ffc700 54.3%,#ffe900 55%,#ffff13 55.3%,#ffff56 56%,#ffff85 56.3%,#ffffc4 57%,#fffff7 57.3%,#fff 57.6%,#fff 95.5%,#ffffdf 95.8%,#ffffb0 96.2%,#ffff65 96.5%,#ffff2e 96.8%,#fffc00 97.2%,#ffd200 97.5%,#ffa000 98.2%,#ff7900 98.5%,#f40 99.2%,#ff1f00 99.5%,#ff0a00 99.8%)"></div>
<div class="r" style="top:460px;height:6px;background:linear-gradient(90deg,#100000 0.2%,#100000 1.8%,#150000 3.8%,#200000 5.1%,#2d0000 5.8%,#420000 6.5%,#610000 7.1%,#760000 7.5%,#ad0000 8.1%,#cf0000 8.5%,#f70000 8.8%,#ff2500 9.1%,#ffad00 10.1%,#fffe00 10.8%,#ffff2e 11.1%,#ffff5a 11.5%,#ffff79 11.8%,#ffff89 12.1%,#ffff89 12.5%,#ffff75 12.8%,#ffff56 13.1%,#ffff2a 13.5%,#fff600 13.8%,#ffcf00 14.1%,#ff2700 15.4%,#ff0200 15.8%,#d00 16.1%,#a30000 16.8%,#760000 17.4%,#640000 17.8%,#4a0000 18.4%,#320000 19.4%,#200 21.1%,#1a0000 22.8%,#180000 24.8%,#150000 25.1%,#150000 26.7%,#250000 31.4%,#4f0000 39.4%,#540000 42.7%,#570000 43%,#570000 45.7%,#6c0000 46%,#860000 46.7%,#980000 47%,#b30000 47.7%,#c50000 48%,#ec0000 49%,#ff0200 49.3%,#ff2c00 50.3%,#f40 51%,#ff5600 51.3%,#ff7300 52%,#f80 52.3%,#ffa500 53%,#ffba00 53.3%,#ffd700 54%,#fff400 54.3%,#ffff13 54.7%,#ffff3a 55%,#ffff75 55.3%,#ffffbc 56%,#ffffe7 56.3%,#fff 56.6%,#fff 95.2%,#ffffe3 95.5%,#ffffb8 95.8%,#ffff89 96.2%,#ffff42 96.5%,#ffff13 96.8%,#ffec00 97.2%,#ffc500 97.5%,#ff9000 98.2%,#f60 98.5%,#ff3200 99.2%,#ff1000 99.5%,#f90000 99.8%)"></div>
<div class="r" style="top:466px;height:6px;background:linear-gradient(90deg,#100000 0.2%,#100000 1.8%,#150000 3.8%,#1d0000 4.8%,#2f0000 5.8%,#400 6.5%,#640000 7.1%,#790000 7.5%,#900000 7.8%,#cf0000 8.5%,#f40000 8.8%,#ff1d00 9.1%,#ff4700 9.5%,#ffbd00 10.5%,#ffdf00 10.8%,#fffe00 11.1%,#ff2 11.5%,#ffff36 11.8%,#ffff3e 12.1%,#ffff36 12.5%,#ff2 12.8%,#fffe00 13.1%,#ffe400 13.5%,#ffa000 14.1%,#ff0a00 15.4%,#ea0000 15.8%,#ad0000 16.4%,#810000 17.1%,#6e0000 17.4%,#510000 18.1%,#3c0000 18.8%,#270000 20.1%,#200000 21.1%,#150000 24.8%,#150000 27.1%,#270000 32.4%,#2d0000 33.1%,#4f0000 40.4%,#540000 45%,#590000 45.3%,#600 45.7%,#7b0000 46%,#930000 46.7%,#a50000 47%,#bd0000 47.7%,#cf0000 48%,#f70000 49%,#ff1000 49.3%,#ff2a00 50%,#ff3c00 50.3%,#ff5600 51%,#ff6900 51.3%,#ff7600 51.7%,#f80 52%,#ffa000 52.3%,#ffbf00 53%,#ffd700 53.3%,#ffe700 53.7%,#fffc00 54%,#ffff3a 54.3%,#ffffa0 55%,#ffffe3 55.3%,#fff 55.6%,#fff 95.2%,#ffffc4 95.5%,#ffff69 96.2%,#ff2 96.5%,#fff600 96.8%,#ffdc00 97.2%,#ffb700 97.5%,#ff8300 98.2%,#ff5900 98.5%,#ff2700 99.2%,#ff0500 99.5%,#f20000 99.8%)"></div>
<div class="r" style="top:472px;height:6px;background:linear-gradient(90deg,#100000 0.2%,#120000 3.2%,#180000 4.2%,#200000 4.8%,#320000 5.8%,#540000 6.8%,#7b0000 7.5%,#930000 7.8%,#b00000 8.1%,#cd0000 8.5%,#ef0000 8.8%,#ff1500 9.1%,#ff8000 10.1%,#ffc200 10.8%,#ffdc00 11.1%,#ffef00 11.5%,#fff600 11.8%,#fff600 12.1%,#ffef00 12.5%,#ffe100 12.8%,#fc0 13.1%,#ffb200 13.5%,#ff7600 14.1%,#ff1200 15.1%,#f20000 15.4%,#a00000 16.4%,#8b0000 16.8%,#600 17.4%,#4c0000 18.1%,#350000 19.1%,#270000 20.1%,#1a0000 22.4%,#180000 24.1%,#150000 24.4%,#150000 27.4%,#180000 27.7%,#1a0000 29.4%,#200000 30.4%,#2a0000 33.4%,#3c0000 37%,#420000 37.7%,#4a0000 39.7%,#4c0000 41.7%,#4f0000 42%,#4f0000 44.7%,#590000 45%,#760000 45.7%,#890000 46%,#9e0000 46.7%,#b00000 47%,#c80000 47.7%,#da0000 48%,#f40000 48.7%,#ff0200 49%,#ff1a00 49.3%,#ff3400 50%,#ff4900 50.3%,#ff6400 51%,#ff7900 51.3%,#ff9b00 52%,#ffb500 52.3%,#ffd700 53%,#fff600 53.3%,#ffff1b 53.7%,#ffff4e 54%,#ffffa0 54.3%,#ffffd8 54.7%,#fff 55%,#fff 94.9%,#ffffe3 95.2%,#ffffa4 95.5%,#ffff4a 96.2%,#ffff03 96.5%,#fc0 97.2%,#ffa800 97.5%,#ff9000 97.8%,#ff7300 98.2%,#ff4f00 98.5%,#ff1f00 99.2%,#f00 99.5%,#ef0000 99.8%)"></div>
<div class="r" style="top:478px;height:6px;background:linear-gradient(90deg,#100000 0.2%,#100000 2.2%,#150000 3.5%,#1d0000 4.5%,#350000 5.8%,#570000 6.8%,#7b0000 7.5%,#ad0000 8.1%,#e70000 8.8%,#ff0800 9.1%,#ff6e00 10.1%,#ffa500 10.8%,#ffba00 11.1%,#ffc500 11.5%,#ffca00 11.8%,#ffca00 12.1%,#ffc200 12.5%,#ffa000 13.1%,#ff8b00 13.5%,#ff7100 13.8%,#ff1a00 14.8%,#fc0000 15.1%,#c50000 15.8%,#960000 16.4%,#610000 17.4%,#4a0000 18.1%,#3a0000 18.8%,#270000 20.1%,#1a0000 22.1%,#180000 24.1%,#150000 24.4%,#150000 27.7%,#180000 28.1%,#180000 29.1%,#200000 30.7%,#200 32.1%,#2d0000 34.1%,#2f0000 35%,#3a0000 36.7%,#3c0000 37.7%,#420000 38.4%,#400 39.7%,#4a0000 40.7%,#4c0000 44.4%,#540000 44.7%,#6c0000 45%,#830000 45.7%,#960000 46%,#ab0000 46.7%,#bd0000 47%,#d50000 47.7%,#f00 48.7%,#ff0d00 49%,#f20 49.3%,#ff3200 49.7%,#ff3f00 50%,#ff5400 50.3%,#ff7100 51%,#ff8b00 51.3%,#ffb200 52%,#fc0 52.3%,#fff400 53%,#ffff32 53.3%,#ffff65 53.7%,#ffffa0 54%,#ffffef 54.3%,#fff 54.7%,#fff 94.5%,#ffffeb 94.9%,#ffffc4 95.2%,#ffff81 95.5%,#ffff2a 96.2%,#ffef00 96.5%,#ffd400 96.8%,#ffbd00 97.2%,#ff9b00 97.5%,#f60 98.2%,#f40 98.5%,#ff2c00 98.8%,#ff1500 99.2%,#f70000 99.5%,#ea0000 99.8%)"></div>
<div class="r" style="top:484px;height:7px;background:linear-gradient(90deg,#100000 0.2%,#100000 2.2%,#150000 3.5%,#1a0000 4.2%,#2f0000 5.5%,#370000 5.8%,#4c0000 6.5%,#690000 7.1%,#ab0000 8.1%,#df0000 8.8%,#f00 9.1%,#ff5c00 10.1%,#ff7600 10.5%,#ff8b00 10.8%,#ff9b00 11.1%,#ffa500 11.5%,#ffa800 11.8%,#ffa800 12.1%,#ffa000 12.5%,#ff8300 13.1%,#ff5600 13.8%,#ff0800 14.8%,#ec0000 15.1%,#ba0000 15.8%,#8e0000 16.4%,#6c0000 17.1%,#3f0000 18.4%,#2d0000 19.4%,#1d0000 21.4%,#180000 23.8%,#150000 24.1%,#150000 28.1%,#180000 28.4%,#1a0000 30.4%,#420000 39.4%,#4a0000 43.7%,#510000 44%,#6e0000 44.7%,#810000 45%,#960000 45.7%,#b30000 46.3%,#bd0000 46.7%,#cf0000 47%,#e40000 47.7%,#f70000 48%,#ff0500 48.3%,#ff1f00 49%,#ff3200 49.3%,#ff4c00 50%,#ff6100 50.3%,#ff6e00 50.7%,#ff8000 51%,#ff9d00 51.3%,#ffc500 52%,#fff900 52.7%,#ff2 53%,#ffff6d 53.3%,#fff 54.3%,#fff 94.2%,#ffffe7 94.5%,#ffff91 95.2%,#ffff52 95.5%,#ff2 95.8%,#fff900 96.2%,#ffd400 96.5%,#ffa800 97.2%,#ff8600 97.5%,#ff5400 98.2%,#ff3400 98.5%,#ff1d00 98.8%,#ff0800 99.2%,#ef0000 99.5%,#e20000 99.8%)"></div>
<div class="r" style="top:491px;height:6px;background:linear-gradient(90deg,#0d0000 0.2%,#100000 0.5%,#120000 2.8%,#1a0000 3.8%,#2a0000 5.1%,#420000 6.1%,#590000 6.8%,#7b0000 7.5%,#a50000 8.1%,#f20000 9.1%,#ff1000 9.5%,#ff4700 10.1%,#ff7100 10.8%,#f80 11.5%,#ff8b00 12.1%,#ff7900 12.8%,#ff6b00 13.1%,#ff4100 13.8%,#ff1000 14.5%,#f70000 14.8%,#c50000 15.4%,#9b0000 16.1%,#790000 16.8%,#5c0000 17.4%,#470000 18.1%,#370000 18.8%,#200 20.4%,#1a0000 22.1%,#180000 23.8%,#150000 24.1%,#150000 25.7%,#120000 26.1%,#150000 28.7%,#180000 29.1%,#1d0000 31.7%,#420000 40.4%,#400 43.4%,#4f0000 43.7%,#600 44%,#7e0000 44.7%,#900000 45%,#a50000 45.7%,#b50000 46%,#cd0000 46.7%,#f70000 47.7%,#ff0a00 48%,#ff2500 48.7%,#ff2f00 49%,#ff4f00 49.7%,#ff5900 50%,#ff6e00 50.3%,#ff9000 51%,#ffb000 51.3%,#ffd700 52%,#fff900 52.3%,#ff2 52.7%,#ffff52 53%,#ff9 53.3%,#fffff3 54%,#fff 54.3%,#fff 93.9%,#ffffef 94.2%,#ffffb0 94.5%,#ffff5e 95.2%,#ffff1b 95.5%,#fff400 95.8%,#ffdc00 96.2%,#ffbd00 96.5%,#ff9000 97.2%,#ff6e00 97.5%,#ff4100 98.2%,#ff2500 98.5%,#ff1000 98.8%,#fc0000 99.2%,#e40000 99.5%,#da0000 99.8%)"></div>
<div class="r" style="top:497px;height:6px;background:linear-gradient(90deg,#0d0000 0.2%,#100000 0.5%,#120000 2.5%,#1a0000 3.8%,#320000 5.5%,#420000 6.1%,#600 7.1%,#9b0000 8.1%,#fc0000 9.5%,#ff1700 9.8%,#ff5400 10.8%,#ff6100 11.1%,#ff6e00 11.8%,#ff6e00 12.1%,#ff6900 12.5%,#ff5e00 12.8%,#ff4f00 13.1%,#ff1200 14.1%,#f90000 14.5%,#b80000 15.4%,#810000 16.4%,#590000 17.4%,#370000 18.8%,#250000 20.1%,#200000 20.8%,#180000 22.8%,#150000 25.1%,#120000 25.4%,#120000 27.7%,#150000 28.1%,#1a0000 31.4%,#270000 35%,#2d0000 35.7%,#2f0000 36.7%,#350000 37.4%,#3a0000 38.7%,#420000 42.7%,#470000 43%,#540000 43.4%,#760000 44%,#8e0000 44.7%,#9e0000 45%,#d70000 46.7%,#f40000 47.3%,#ff0200 47.7%,#ff1700 48%,#ff3c00 49%,#ff4f00 49.3%,#f60 50%,#ff7e00 50.3%,#ffa500 51%,#ffc200 51.3%,#ffec00 52%,#ff2 52.3%,#ffff52 52.7%,#ffff7d 53%,#ffffc4 53.3%,#ffffef 53.7%,#fff 54%,#fff 93.2%,#fffff3 93.5%,#ffffa4 94.2%,#ffff69 94.5%,#ffff13 95.2%,#ffe700 95.5%,#ffcf00 95.8%,#ffbd00 96.2%,#ff9d00 96.5%,#ff6e00 97.2%,#ff4f00 97.5%,#ff2700 98.2%,#ff0a00 98.5%,#f70000 98.8%,#ea0000 99.2%,#d70000 99.5%,#ca0000 99.8%)"></div>
<div class="r" style="top:503px;height:6px;background:linear-gradient(90deg,#0d0000 0.2%,#150000 3.2%,#2a0000 5.1%,#3f0000 6.1%,#5f0000 7.1%,#7b0000 7.8%,#b80000 8.8%,#fc0000 9.8%,#ff1000 10.1%,#ff3200 10.8%,#ff3f00 11.1%,#ff4c00 11.8%,#f40 12.5%,#ff2a00 13.1%,#ff0800 13.8%,#f20000 14.1%,#a80000 15.4%,#6c0000 16.8%,#4c0000 17.8%,#2f0000 19.1%,#270000 19.8%,#1d0000 21.1%,#180000 23.4%,#150000 23.8%,#150000 24.8%,#120000 25.1%,#120000 28.4%,#180000 30.1%,#1a0000 32.1%,#2f0000 37.4%,#350000 38%,#3c0000 40.7%,#3c0000 42.4%,#4a0000 42.7%,#5f0000 43%,#760000 43.7%,#890000 44%,#9b0000 44.7%,#ab0000 45%,#e20000 46.7%,#f40000 47%,#ff0200 47.3%,#ff1000 47.7%,#ff2500 48%,#ff4c00 49%,#ff5e00 49.3%,#ff7900 50%,#ff9300 50.3%,#ffb700 51%,#ffd400 51.3%,#ffe900 51.7%,#ffff07 52%,#ffff4e 52.3%,#ffffac 53%,#ffffef 53.3%,#fff 53.7%,#fff 92.9%,#ffffe3 93.2%,#ffffa8 93.5%,#ffff5a 94.2%,#ffff1f 94.5%,#fff600 94.9%,#ffe100 95.2%,#ffc200 95.5%,#ff9b00 96.2%,#ff7900 96.5%,#ff6100 96.8%,#ff4f00 97.2%,#ff3200 97.5%,#ff0a00 98.2%,#f20000 98.5%,#d70000 99.2%,#c50000 99.5%,#ba0000 99.8%)"></div>
<div class="r" style="top:509px;height:6px;background:linear-gradient(90deg,#0d0000 0.2%,#120000 2.5%,#1a0000 3.8%,#200000 4.2%,#250000 4.8%,#3a0000 6.1%,#4c0000 6.8%,#6e0000 7.8%,#900000 8.5%,#d00 9.8%,#f00 10.5%,#ff1000 10.8%,#ff1a00 11.1%,#ff1f00 11.5%,#ff1d00 12.1%,#fc0000 13.1%,#d20000 14.1%,#a30000 15.1%,#7b0000 16.1%,#590000 17.1%,#3f0000 18.1%,#320000 18.8%,#200 20.1%,#1a0000 21.4%,#150000 24.4%,#120000 24.8%,#120000 29.1%,#150000 29.4%,#150000 30.7%,#180000 31.1%,#1a0000 32.7%,#200000 33.7%,#200 35%,#350000 39%,#3a0000 41.7%,#640000 42.7%,#760000 43%,#b80000 45%,#ca0000 45.7%,#da0000 46%,#ec0000 46.7%,#f00 47%,#ff1f00 47.7%,#ff3400 48%,#f40 48.3%,#ff5e00 49%,#ff7300 49.3%,#ff9300 50%,#fa0 50.3%,#fc0 51%,#fffe00 51.7%,#ffff2a 52%,#ffff75 52.3%,#ffffd8 53%,#fff 53.3%,#fff 92.2%,#ffffe7 92.5%,#ffff9d 93.2%,#ffff5e 93.5%,#ffff0f 94.2%,#ffe100 94.5%,#ffb700 95.2%,#ff9800 95.5%,#ff6e00 96.2%,#ff4f00 96.5%,#ff2700 97.2%,#ff0a00 97.5%,#f90000 97.8%,#ec0000 98.2%,#da0000 98.5%,#c20000 99.2%,#b00000 99.5%,#a50000 99.8%)"></div>
<div class="r" style="top:515px;height:6px;background:linear-gradient(90deg,#0d0000 0.2%,#150000 3.2%,#200 4.8%,#3a0000 6.5%,#540000 7.5%,#7b0000 8.5%,#9e0000 9.1%,#d00 10.5%,#ef0000 11.1%,#f20000 11.5%,#ec0000 12.1%,#d00 12.8%,#830000 15.4%,#5c0000 16.8%,#420000 17.8%,#2a0000 19.1%,#1a0000 21.1%,#180000 22.8%,#120000 24.1%,#120000 29.7%,#150000 30.1%,#1a0000 33.4%,#350000 39.7%,#370000 41%,#3f0000 41.4%,#4c0000 41.7%,#610000 42%,#790000 42.7%,#890000 43%,#ab0000 44%,#bd0000 44.7%,#ca0000 45%,#da0000 45.7%,#fc0000 46.7%,#ff1200 47%,#ff2f00 47.7%,#ff4700 48%,#ff7600 49%,#ff8e00 49.3%,#fa0 50%,#ffbf00 50.3%,#ffdf00 51%,#fffc00 51.3%,#ff2 51.7%,#ffff56 52%,#ffffa0 52.3%,#ffffd4 52.7%,#fff 53%,#fff 91.5%,#fffffb 91.9%,#ffffd8 92.2%,#ffff9d 92.5%,#ffff4e 93.2%,#ffff13 93.5%,#fff100 93.9%,#ffda00 94.2%,#ffba00 94.5%,#ff8e00 95.2%,#ff6b00 95.5%,#f40 96.2%,#ff2700 96.5%,#f00 97.2%,#ea0000 97.5%,#d20000 98.2%,#c00000 98.5%,#ab0000 99.2%,#8e0000 99.8%)"></div>
<div class="r" style="top:521px;height:7px;background:linear-gradient(90deg,#0d0000 0.2%,#120000 2.8%,#1a0000 4.2%,#2a0000 5.8%,#3f0000 7.1%,#510000 7.8%,#860000 9.1%,#c00000 10.5%,#c80000 10.8%,#ca0000 11.1%,#c80000 11.8%,#bd0000 12.5%,#3c0000 17.8%,#270000 19.1%,#1a0000 20.8%,#150000 23.4%,#120000 23.8%,#100000 25.7%,#120000 30.4%,#150000 30.7%,#150000 32.1%,#1d0000 34.7%,#2d0000 38%,#320000 40.4%,#350000 40.7%,#470000 41%,#640000 41.7%,#790000 42%,#8e0000 42.7%,#9e0000 43%,#b00000 43.7%,#c80000 44.4%,#cf0000 44.7%,#d00 45%,#f20000 45.7%,#ff0500 46%,#ff1f00 46.7%,#ff3400 47%,#ff4100 47.3%,#ff6400 48%,#ff9000 49%,#ffa500 49.3%,#ffc500 50%,#ffda00 50.3%,#ffe900 50.7%,#fffc00 51%,#ffff36 51.3%,#ffff65 51.7%,#ff9 52%,#ffffe3 52.3%,#fff 52.7%,#fff 90.9%,#ffffe7 91.2%,#ff9 91.9%,#ffff71 92.2%,#ffff36 92.5%,#ffff0f 92.9%,#ffef00 93.2%,#ffcf00 93.5%,#ffa800 94.2%,#ff8600 94.5%,#ff5900 95.2%,#ff3c00 95.5%,#ff1700 96.2%,#f90000 96.5%,#df0000 97.2%,#cd0000 97.5%,#b50000 98.2%,#a30000 98.5%,#8e0000 99.2%,#7e0000 99.5%,#740000 99.8%)"></div>
<div class="r" style="top:528px;height:6px;background:linear-gradient(90deg,#0d0000 0.2%,#0d0000 1.2%,#1a0000 4.5%,#2d0000 6.5%,#370000 7.1%,#470000 7.8%,#690000 8.8%,#930000 9.8%,#9e0000 10.1%,#ab0000 10.8%,#ab0000 11.1%,#9e0000 12.5%,#900000 13.1%,#710000 15.1%,#320000 18.1%,#250000 19.1%,#1a0000 20.4%,#100000 25.1%,#120000 31.1%,#150000 31.4%,#1a0000 34.4%,#2d0000 38.7%,#2f0000 40.4%,#3f0000 40.7%,#540000 41%,#830000 42%,#9b0000 42.7%,#ab0000 43%,#bd0000 43.7%,#cd0000 44%,#df0000 44.7%,#ef0000 45%,#f90000 45.3%,#ff0800 45.7%,#ff1d00 46%,#ff3a00 46.7%,#ff5100 47%,#ff7100 47.7%,#ff8600 48%,#ffad00 49%,#ffbf00 49.3%,#ffda00 50%,#fff100 50.3%,#ffff0b 50.7%,#ffff2e 51%,#ffff69 51.3%,#ffffc0 52%,#fff 52.3%,#fff 90.2%,#fffff3 90.5%,#ffc 90.9%,#ffff91 91.2%,#ffff42 91.9%,#ffff17 92.2%,#ffe900 92.5%,#ffbf00 93.2%,#ffa200 93.5%,#ff7900 94.2%,#ff5900 94.5%,#ff3200 95.2%,#ff1500 95.5%,#ff0200 95.8%,#f20000 96.2%,#df0000 96.5%,#c80000 97.2%,#b50000 97.5%,#9e0000 98.2%,#8b0000 98.5%,#760000 99.2%,#640000 99.5%,#590000 99.8%)"></div>
<div class="r" style="top:534px;height:6px;background:linear-gradient(90deg,#0d0000 0.2%,#120000 3.2%,#1a0000 4.8%,#270000 6.5%,#370000 7.5%,#470000 8.1%,#810000 9.8%,#8e0000 10.5%,#8e0000 11.1%,#890000 11.8%,#6e0000 14.5%,#570000 16.1%,#3a0000 17.4%,#250000 18.8%,#1a0000 20.1%,#120000 22.8%,#100000 29.4%,#1a0000 34.7%,#2d0000 39%,#2d0000 39.7%,#2f0000 40%,#350000 40.4%,#400 40.7%,#5c0000 41%,#790000 41.7%,#8e0000 42%,#a30000 42.7%,#b30000 43%,#c50000 43.7%,#d50000 44%,#ea0000 44.7%,#fc0000 45%,#ff1d00 45.7%,#ff3400 46%,#ff5100 46.7%,#ff6900 47%,#ff7900 47.3%,#ff8600 47.7%,#ff9800 48%,#ffbd00 49%,#ffd200 49.3%,#ffec00 50%,#ffff0b 50.3%,#ffff2a 50.7%,#ffff4e 51%,#ffff85 51.3%,#ffffd4 52%,#fff 52.3%,#fff 89.9%,#ffffc8 90.2%,#ffff75 90.9%,#ffff36 91.2%,#ffff0f 91.5%,#ffef00 91.9%,#ffda00 92.2%,#ffbd00 92.5%,#ff9300 93.2%,#ff7300 93.5%,#ff4900 94.2%,#ff2c00 94.5%,#ff0800 95.2%,#ef0000 95.5%,#d70000 96.2%,#c50000 96.5%,#ad0000 97.2%,#900000 97.8%,#860000 98.2%,#760000 98.5%,#5f0000 99.2%,#4a0000 99.5%,#3c0000 99.8%)"></div>
<div class="r" style="top:540px;height:6px;background:linear-gradient(90deg,#0d0000 0.2%,#150000 4.2%,#200000 6.1%,#270000 6.8%,#3f0000 8.1%,#690000 9.5%,#710000 9.8%,#790000 10.5%,#740000 11.8%,#5f0000 15.1%,#570000 15.8%,#2a0000 18.1%,#1d0000 19.4%,#150000 21.1%,#100000 24.1%,#120000 32.1%,#2d0000 40%,#350000 40.4%,#400 40.7%,#5c0000 41%,#7b0000 41.7%,#8e0000 42%,#a30000 42.7%,#b30000 43%,#ec0000 44.7%,#f00 45%,#f20 45.7%,#ff3a00 46%,#ff5900 46.7%,#ff6e00 47%,#ff7e00 47.3%,#ff9b00 48%,#ffba00 49%,#ffca00 49.3%,#ffe100 50%,#fff600 50.3%,#ffff0f 50.7%,#ffff32 51%,#ffff65 51.3%,#ffffa4 52%,#ffffd8 52.3%,#fffffb 52.7%,#fff 53%,#fff 89.2%,#ffffdc 89.5%,#ffffb4 89.9%,#ffff75 90.2%,#ffff1f 90.9%,#ffec00 91.2%,#ffb000 92.2%,#ff9000 92.5%,#ff6400 93.2%,#ff4700 93.5%,#ff1f00 94.2%,#ff0500 94.5%,#f40000 94.9%,#e70000 95.2%,#d50000 95.5%,#c00000 96.2%,#ad0000 96.5%,#960000 97.2%,#860000 97.5%,#710000 98.2%,#5f0000 98.5%,#400 99.2%,#2f0000 99.5%,#250000 99.8%)"></div>
<div class="r" style="top:546px;height:6px;background:linear-gradient(90deg,#0d0000 0.2%,#120000 3.5%,#1a0000 5.8%,#270000 7.1%,#320000 7.8%,#5c0000 9.5%,#640000 10.1%,#5f0000 14.5%,#510000 15.8%,#3c0000 16.8%,#270000 18.1%,#180000 20.1%,#120000 22.1%,#120000 32.4%,#150000 32.7%,#1d0000 36%,#250000 37.7%,#2a0000 40%,#400 40.7%,#5c0000 41%,#790000 41.7%,#8b0000 42%,#a00000 42.7%,#b00000 43%,#c50000 43.7%,#d50000 44%,#e70000 44.7%,#f90000 45%,#ff0800 45.3%,#ff1500 45.7%,#ff2a00 46%,#ff4700 46.7%,#ff5c00 47%,#ff7600 47.7%,#ff8600 48%,#ffa200 49%,#fc0 50%,#ffe100 50.3%,#fffc00 51%,#ffff13 51.3%,#ffff26 51.7%,#ffff3e 52%,#ffff65 52.3%,#ffffac 53%,#ffffe7 53.3%,#fff 53.7%,#fff 88.5%,#ffffeb 88.9%,#ffffb0 89.2%,#ffff5a 89.9%,#ffff1b 90.2%,#fff600 90.5%,#ffdf00 90.9%,#ffc200 91.2%,#ff8300 92.2%,#ff6400 92.5%,#ff3c00 93.2%,#ff1d00 93.5%,#ff0a00 93.9%,#f90000 94.2%,#e40000 94.5%,#cf0000 95.2%,#bd0000 95.5%,#b30000 95.8%,#960000 96.5%,#810000 97.2%,#710000 97.5%,#570000 98.2%,#350000 98.8%,#2a0000 99.2%,#1a0000 99.5%,#1a0000 99.8%)"></div>
<div class="r" style="top:552px;height:6px;background:linear-gradient(90deg,#0d0000 0.2%,#120000 4.2%,#1a0000 6.1%,#200000 6.8%,#2f0000 7.8%,#4c0000 9.1%,#540000 9.8%,#540000 12.8%,#570000 13.1%,#570000 14.8%,#4a0000 15.8%,#370000 16.8%,#250000 18.1%,#180000 19.8%,#120000 21.4%,#120000 32.4%,#2a0000 40%,#2d0000 40.4%,#3a0000 40.7%,#510000 41%,#6e0000 41.7%,#810000 42%,#960000 42.7%,#a50000 43%,#ad0000 43.4%,#da0000 44.7%,#f00 45.7%,#ff1500 46%,#ff3f00 47%,#ff5400 47.7%,#ff6400 48%,#ff6b00 48.3%,#ff8300 49%,#ff9800 49.3%,#ffb200 50%,#ffc500 50.3%,#ffd400 51%,#ffdf00 51.3%,#ffe900 52%,#fff900 52.7%,#ffff07 53%,#ffff56 53.7%,#ffff8d 54%,#ffffd4 54.3%,#fffffb 54.7%,#fff 55%,#fff 87.9%,#ffffe7 88.2%,#ff9 88.9%,#ffff5a 89.2%,#ffff03 89.9%,#ffdc00 90.2%,#ffb500 90.9%,#ff9800 91.2%,#ff8000 91.5%,#ff5600 92.2%,#ff3a00 92.5%,#ff1200 93.2%,#f70000 93.5%,#d00 94.2%,#cd0000 94.5%,#b50000 95.2%,#a50000 95.5%,#8e0000 96.2%,#7e0000 96.5%,#690000 97.2%,#570000 97.5%,#3c0000 98.2%,#2a0000 98.5%,#1d0000 98.8%,#180000 99.2%,#180000 99.8%)"></div>
<div class="r" style="top:558px;height:7px;background:linear-gradient(90deg,#150000 0.2%,#150000 7.8%,#1a0000 9.5%,#270000 11.1%,#2d0000 11.5%,#420000 13.5%,#470000 14.5%,#420000 16.1%,#320000 17.4%,#2d0000 18.1%,#270000 18.4%,#1a0000 20.1%,#150000 21.8%,#150000 29.1%,#180000 29.4%,#1a0000 33.4%,#1d0000 33.7%,#1d0000 35%,#200000 35.4%,#250000 38.4%,#370000 39.4%,#570000 40.4%,#a00000 42.4%,#df0000 43.7%,#ec0000 44%,#f00 44.7%,#ff0800 45.3%,#ff0a00 46%,#ff1200 47%,#ff1f00 47.7%,#ff3700 48.3%,#ff8600 50%,#ffe400 51.7%,#fffc00 52.3%,#ffff07 52.7%,#ffff0f 53.3%,#ffff17 55.3%,#ff2 56.3%,#ffff2e 56.6%,#ffff69 57%,#ffffb8 57.3%,#fffff3 57.6%,#fff 58%,#fff 85.5%,#fffff7 85.9%,#ffffac 86.2%,#ffff46 86.5%,#fffc00 86.9%,#ffdc00 87.2%,#ff9500 88.2%,#ff7900 88.5%,#ff5600 88.9%,#ff2f00 89.2%,#ff0d00 89.5%,#f90000 89.9%,#e70000 90.2%,#da0000 90.5%,#b80000 91.5%,#a50000 92.2%,#640000 94.9%,#590000 95.2%,#400 96.2%,#2f0000 97.5%,#200 99.2%,#200000 99.8%)"></div>
<div class="r" style="top:565px;height:6px;background:linear-gradient(90deg,#150000 0.2%,#150000 7.8%,#1a0000 9.5%,#200 10.8%,#3a0000 13.1%,#420000 14.5%,#3f0000 15.8%,#1d0000 19.4%,#150000 21.8%,#150000 29.1%,#180000 29.4%,#1a0000 33.4%,#1d0000 33.7%,#1d0000 35%,#200000 35.4%,#250000 38.4%,#370000 39.4%,#570000 40.4%,#a00000 42.4%,#df0000 43.7%,#ec0000 44%,#f00 44.7%,#ff0800 45.3%,#ff0a00 46%,#ff1200 47%,#ff1f00 47.7%,#ff3700 48.3%,#ff8600 50%,#ffe400 51.7%,#fffc00 52.3%,#ffff07 52.7%,#ffff0f 53.3%,#ffff17 55.3%,#ff2 56.3%,#ffff2e 56.6%,#ffff69 57%,#ffffb8 57.3%,#fffff3 57.6%,#fff 58%,#fff 85.2%,#fffffb 85.5%,#ffffb4 85.9%,#ffff4e 86.2%,#fffe00 86.5%,#ffdf00 86.9%,#ff7b00 88.2%,#ff1000 89.2%,#f90000 89.5%,#da0000 90.2%,#b80000 91.2%,#540000 95.2%,#3a0000 96.5%,#2d0000 97.5%,#270000 98.2%,#200000 99.8%)"></div>
<div class="r" style="top:571px;height:6px;background:linear-gradient(90deg,#150000 0.2%,#150000 8.1%,#180000 8.5%,#1a0000 9.8%,#3a0000 13.8%,#3c0000 14.5%,#3a0000 15.8%,#1a0000 19.8%,#150000 21.4%,#150000 29.1%,#180000 29.4%,#1a0000 33.4%,#1d0000 33.7%,#1d0000 35%,#200000 35.4%,#250000 38.4%,#370000 39.4%,#570000 40.4%,#a00000 42.4%,#df0000 43.7%,#ec0000 44%,#f00 44.7%,#ff0800 45.3%,#ff0a00 46%,#ff1200 47%,#ff1f00 47.7%,#ff3700 48.3%,#ff8600 50%,#ffe400 51.7%,#fffc00 52.3%,#ffff07 52.7%,#ffff0f 53.3%,#ffff13 54.7%,#ffff1b 56%,#ff2 56.6%,#ffff36 57%,#ffff71 57.3%,#ffffbc 57.6%,#fffff7 58%,#fff 58.3%,#fff 85.2%,#ffffbc 85.5%,#ffff56 85.9%,#ffff03 86.2%,#ffe100 86.5%,#ffc700 86.9%,#ff7e00 87.9%,#ff5c00 88.2%,#ff3400 88.5%,#ff1200 88.9%,#fc0000 89.2%,#d00 89.9%,#c50000 90.5%,#510000 95.2%,#2f0000 97.2%,#250000 98.5%,#200000 99.8%)"></div>
<div class="r" style="top:577px;height:6px;background:linear-gradient(90deg,#150000 0.2%,#150000 8.1%,#180000 8.5%,#180000 9.5%,#2a0000 12.1%,#2a0000 12.5%,#350000 13.8%,#370000 14.8%,#350000 15.8%,#1d0000 19.1%,#150000 21.4%,#150000 29.1%,#180000 29.4%,#1a0000 33.4%,#1d0000 33.7%,#1d0000 35%,#200000 35.4%,#250000 38.4%,#370000 39.4%,#570000 40.4%,#a00000 42.4%,#df0000 43.7%,#ec0000 44%,#f00 44.7%,#ff0800 45.3%,#ff0a00 46%,#ff1200 47%,#ff1f00 47.7%,#ff3700 48.3%,#ff8600 50%,#ffe400 51.7%,#fffc00 52.3%,#ffff07 52.7%,#ffff13 54%,#ffff1b 56.6%,#ffff26 57.6%,#ffff36 58%,#ffff56 58.3%,#ffffd4 59.3%,#fffff3 59.6%,#fff 60%,#fff 84.6%,#ffc 84.9%,#ffff69 85.2%,#ffff0f 85.5%,#ffe100 85.9%,#ffa200 86.5%,#ff8600 86.9%,#ff1700 87.9%,#f00 88.2%,#ef0000 88.5%,#d50000 89.2%,#ad0000 90.5%,#890000 92.2%,#600 93.5%,#3c0000 95.5%,#2f0000 96.5%,#270000 97.5%,#1d0000 99.8%)"></div>
<div class="r" style="top:583px;height:6px;background:linear-gradient(90deg,#150000 0.2%,#150000 8.5%,#1d0000 10.8%,#2f0000 13.8%,#2d0000 16.4%,#200 17.8%,#150000 21.1%,#150000 29.1%,#180000 29.4%,#1a0000 33.4%,#1d0000 33.7%,#1d0000 35%,#200000 35.4%,#250000 38.4%,#370000 39.4%,#570000 40.4%,#a00000 42.4%,#df0000 43.7%,#ec0000 44%,#f00 44.7%,#ff0800 45.3%,#ff0a00 46%,#ff1200 47%,#ff1f00 47.7%,#ff3700 48.3%,#ff8600 50%,#fa0 50.7%,#ffd200 51.3%,#fff400 52%,#fffe00 52.3%,#ffff07 52.7%,#ffff07 53%,#ffff13 54.3%,#ffff13 55%,#ffff17 55.3%,#ffff17 56%,#ffff1b 56.3%,#ffff1f 57.6%,#ffff26 58.3%,#ffff2e 58.6%,#ffff3a 59%,#ffff65 59.6%,#ffffb8 60.6%,#ffffe7 61.3%,#fffff7 61.6%,#fff 62%,#fff 84.2%,#ffffac 84.6%,#ffff1f 84.9%,#ffdf00 85.2%,#ffb500 85.5%,#ff4100 86.5%,#ff1f00 86.9%,#ff0500 87.2%,#f40000 87.5%,#e40000 87.9%,#c50000 88.9%,#510000 93.9%,#400 94.5%,#2f0000 95.8%,#2a0000 96.5%,#1d0000 99.8%)"></div>
<div class="r" style="top:589px;height:6px;background:linear-gradient(90deg,#150000 0.2%,#150000 8.8%,#1a0000 10.5%,#2a0000 13.8%,#2a0000 15.8%,#150000 20.8%,#150000 29.1%,#180000 29.4%,#1a0000 33.4%,#1d0000 33.7%,#1d0000 35%,#200000 35.4%,#250000 38.4%,#370000 39.4%,#570000 40.4%,#a00000 42.4%,#df0000 43.7%,#ec0000 44%,#f00 44.7%,#ff0200 45%,#ff0800 45.3%,#ff0a00 46%,#ff1700 47.7%,#ff1d00 48%,#ff2f00 48.7%,#ff6e00 50.3%,#ff9800 51.7%,#ffbd00 52.7%,#ffe700 54%,#fff600 54.7%,#ffff03 55.3%,#ffff0b 56%,#ffff0b 56.3%,#ffff13 57.3%,#ffff17 59.3%,#ffff26 61.3%,#ffff32 61.6%,#ffff46 62%,#ffff7d 62.6%,#ffffbc 63.3%,#ffffd8 63.6%,#ffffef 64%,#fffffb 64.3%,#fff 64.6%,#fff 83.6%,#ffffd4 83.9%,#ffff61 84.2%,#fffe00 84.6%,#ffcf00 84.9%,#ff3400 86.2%,#ff1200 86.5%,#fc0000 86.9%,#df0000 87.5%,#c00000 88.5%,#8b0000 90.9%,#470000 93.5%,#3a0000 94.2%,#2a0000 95.5%,#200 97.5%,#1d0000 99.8%)"></div>
<div class="r" style="top:595px;height:7px;background:linear-gradient(90deg,#150000 0.2%,#150000 9.1%,#250000 13.8%,#250000 15.8%,#150000 20.4%,#150000 29.1%,#180000 29.4%,#1a0000 33.7%,#1d0000 34.1%,#250000 38.4%,#2a0000 39%,#400 40%,#590000 40.7%,#740000 41.4%,#a00000 42.7%,#e20000 44.4%,#f00 45.3%,#ff0800 46%,#ff1700 48%,#ff3400 49.7%,#ff7b00 52.7%,#ffa200 54%,#ffba00 54.7%,#ffe400 56%,#fff400 56.6%,#fffe00 57.3%,#ffff03 57.6%,#ffff0f 58.6%,#ffff0f 59.3%,#ffff13 59.6%,#ffff13 60.6%,#ffff17 61%,#ffff1b 62.3%,#ffff26 63.3%,#ffff2e 63.6%,#ffff4a 64%,#ffff71 64.3%,#ffff9d 64.6%,#ffffc4 65%,#ffffe7 65.3%,#fffffb 65.6%,#fff 65.9%,#fff 82.9%,#ffffef 83.2%,#ffffac 83.6%,#ffff03 84.2%,#ff9d00 84.9%,#ff7100 85.2%,#ff4900 85.5%,#ff2500 85.9%,#ff0a00 86.2%,#f70000 86.5%,#da0000 87.2%,#ba0000 88.2%,#7b0000 90.9%,#4f0000 92.5%,#3c0000 93.5%,#2a0000 94.9%,#200 96.8%,#1d0000 99.8%)"></div>
<div class="r" style="top:602px;height:6px;background:linear-gradient(90deg,#150000 0.2%,#150000 9.5%,#180000 9.8%,#1a0000 12.1%,#200000 13.5%,#200000 16.1%,#1a0000 17.4%,#180000 19.8%,#150000 20.1%,#150000 29.1%,#180000 29.4%,#1a0000 34.1%,#1d0000 34.4%,#1d0000 35.7%,#200000 36%,#250000 39%,#270000 39.4%,#320000 40%,#420000 40.7%,#860000 42.7%,#980000 43.4%,#ef0000 46%,#fc0000 46.7%,#ff0200 47%,#ff1000 48.7%,#ff1500 49.7%,#ff2f00 51.3%,#ff7300 54.3%,#ffe100 59.6%,#fffc00 61.3%,#fffe00 61.6%,#ffff07 62%,#ffff0f 62.6%,#ffff0f 63%,#ff2 64.6%,#ffff2e 65%,#ffff46 65.3%,#ffff9d 65.9%,#ffc 66.3%,#ffffeb 66.6%,#fff 66.9%,#fff 80.9%,#ffffdc 81.2%,#ffff95 81.6%,#ffff42 81.9%,#ffff03 82.2%,#ffc700 82.9%,#ff7e00 83.9%,#f40 84.6%,#ff1000 85.2%,#f90000 85.5%,#bd0000 86.5%,#900000 87.5%,#600 88.9%,#540000 89.5%,#400 90.2%,#2f0000 91.5%,#270000 92.9%,#250000 94.5%,#200 94.9%,#1d0000 99.8%)"></div>
<div class="r" style="top:608px;height:6px;background:linear-gradient(90deg,#150000 0.2%,#150000 21.1%,#180000 21.4%,#180000 30.4%,#1a0000 34.4%,#200 37%,#3a0000 41%,#4f0000 42.4%,#8e0000 45.3%,#b50000 48%,#d50000 50.7%,#ea0000 54%,#f90000 59.3%,#f00 60.3%,#ff0500 61.3%,#ff0500 62%,#ff0a00 63.3%,#ff1a00 65%,#ff2700 65.3%,#ff6900 66.3%,#ff7b00 66.6%,#ff9b00 67.6%,#ffc500 69.3%,#ffe100 70.6%,#fff600 71.9%,#fffe00 72.6%,#ffff03 72.9%,#ffff0b 73.3%,#ffff13 73.9%,#ffff17 74.6%,#ffff17 75.2%,#ffff13 75.6%,#ffff13 76.2%,#ffff0b 76.9%,#ffff0b 77.2%,#fffe00 77.9%,#fff100 78.2%,#ffb700 79.2%,#ff9b00 79.9%,#ff8b00 80.6%,#ff8000 81.2%,#ff7e00 81.6%,#ff7100 82.2%,#ff6900 82.6%,#ff5c00 82.9%,#ff4900 83.2%,#ff0500 83.9%,#ef0000 84.2%,#d70000 84.6%,#a00000 85.5%,#610000 87.2%,#4c0000 87.9%,#3c0000 88.5%,#370000 88.9%,#350000 89.5%,#270000 91.5%,#250000 92.5%,#200000 93.2%,#200000 93.9%,#1a0000 94.9%,#180000 96.8%,#150000 97.2%,#150000 99.8%)"></div>
<div class="r" style="top:614px;height:6px;background:linear-gradient(90deg,#0d0000 0.2%,#0d0000 37.4%,#100000 37.7%,#100000 45.3%,#120000 48.3%,#150000 48.7%,#150000 51%,#180000 51.3%,#1a0000 56%,#1d0000 56.3%,#1d0000 58%,#200000 58.3%,#200 61.3%,#250000 61.6%,#270000 65.3%,#2a0000 65.6%,#2a0000 82.6%,#1a0000 87.5%,#150000 90.9%,#120000 91.2%,#100000 95.8%,#0d0000 96.2%,#0d0000 99.8%)"></div>
<div class="r" style="top:620px;height:6px;background:linear-gradient(90deg,#0b0000 0.2%,#0b0000 99.8%)"></div>
<div class="r" style="top:626px;height:6px;background:linear-gradient(90deg,#0b0000 0.2%,#0b0000 99.8%)"></div>
<div class="r" style="top:632px;height:7px;background:linear-gradient(90deg,#0b0000 0.2%,#0b0000 99.8%)"></div>
<div class="r" style="top:639px;height:6px;background:linear-gradient(90deg,#0b0000 0.2%,#0b0000 99.8%)"></div>
</div>
<div class="cb" style="left:168px;top:751px;width:679px;height:34px;background:linear-gradient(90deg,#03051a 0.00%,#0d0a21 3.12%,#180f29 6.25%,#241432 9.38%,#30173a 12.50%,#3c1a42 15.62%,#481c48 18.75%,#541e4e 21.88%,#611f53 25.00%,#6e1f57 28.12%,#7b1f59 31.25%,#891e5b 34.38%,#971c5b 37.50%,#a4195b 40.62%,#b21758 43.75%,#bf1654 46.88%,#cb1b4f 50.00%,#d62449 53.12%,#df2f44 56.25%,#e73d3f 59.38%,#ec4c3e 62.50%,#f05c42 65.62%,#f26b49 68.75%,#f47a54 71.88%,#f58860 75.00%,#f5966c 78.12%,#f6a37a 81.25%,#f6b089 84.38%,#f6bc99 87.50%,#f7c9aa 90.62%,#f8d4bc 93.75%,#f9e0cd 96.88%,#faebdd 100.00%)"></div>
<div class="cb" style="left:1031px;top:753px;width:685px;height:34px;background:linear-gradient(90deg,#0b0000 0.00%,#200000 3.12%,#350000 6.25%,#4a0000 9.38%,#5f0000 12.50%,#740000 15.62%,#890000 18.75%,#9e0000 21.88%,#b30000 25.00%,#c80000 28.12%,#dd0000 31.25%,#f20000 34.38%,#ff0800 37.50%,#ff1d00 40.62%,#ff3200 43.75%,#ff4700 46.88%,#ff5c00 50.00%,#ff7100 53.12%,#ff8600 56.25%,#ff9b00 59.38%,#ffb000 62.50%,#ffc500 65.62%,#ffda00 68.75%,#ffef00 71.88%,#ffff07 75.00%,#ffff26 78.12%,#ffff46 81.25%,#ffff65 84.38%,#ffff85 87.50%,#ffffa4 90.62%,#ffffc4 93.75%,#ffffe3 96.88%,#ffffff 100.00%)"></div>
<svg width="1773" height="916" viewBox="0 0 1773 916">
<line x1="231.0" y1="91.9" x2="231.0" y2="643.6" stroke="#0000ff" stroke-width="2.1" stroke-dasharray="7.8 3.17" fill="none"/>
<line x1="1110.0" y1="89.9" x2="1110.0" y2="644.7" stroke="#0000ff" stroke-width="2.1" stroke-dasharray="7.8 3.17" fill="none"/>
<line x1="496.0" y1="91.9" x2="496.0" y2="643.6" stroke="#008000" stroke-width="2.1" stroke-dasharray="7.8 3.17" fill="none"/>
<line x1="1378.0" y1="89.9" x2="1378.0" y2="644.7" stroke="#008000" stroke-width="2.1" stroke-dasharray="7.8 3.17" fill="none"/>
<line x1="601.0" y1="91.9" x2="601.0" y2="643.6" stroke="#ff0000" stroke-width="2.1" stroke-dasharray="7.8 3.17" fill="none"/>
<line x1="1483.0" y1="89.9" x2="1483.0" y2="644.7" stroke="#ff0000" stroke-width="2.1" stroke-dasharray="7.8 3.17" fill="none"/>
<line x1="138.9" y1="248.0" x2="831.9" y2="248.0" stroke="#808080" stroke-width="2.1" stroke-dasharray="7.8 3.17" fill="none"/>
<line x1="1018.1" y1="246.5" x2="1715.0" y2="246.5" stroke="#808080" stroke-width="2.1" stroke-dasharray="7.8 3.17" fill="none"/>
<text class="k" x="138.9" y="675.5">400</text>
<text class="k2" x="1018.1" y="678.3">400</text>
<text class="k" x="254.4" y="675.5">450</text>
<text class="k2" x="1134.2" y="678.3">450</text>
<text class="k" x="369.9" y="675.5">500</text>
<text class="k2" x="1250.4" y="678.3">500</text>
<text class="k" x="485.4" y="675.5">550</text>
<text class="k2" x="1366.5" y="678.3">550</text>
<text class="k" x="600.9" y="675.5">600</text>
<text class="k2" x="1482.7" y="678.3">600</text>
<text class="k" x="716.4" y="675.5">650</text>
<text class="k2" x="1598.8" y="678.3">650</text>
<text class="k" x="831.9" y="675.5">700</text>
<text class="k2" x="1715.0" y="678.3">700</text>
<text class="ky" x="127.9" y="103.1">0.0</text>
<text class="ky" x="127.9" y="164.4">10.0</text>
<text class="ky" x="127.9" y="225.7">20.0</text>
<text class="ky" x="127.9" y="287.0">30.0</text>
<text class="ky" x="127.9" y="348.3">40.0</text>
<text class="ky" x="127.9" y="409.6">50.0</text>
<text class="ky" x="127.9" y="470.9">60.0</text>
<text class="ky" x="127.9" y="532.2">70.0</text>
<text class="ky" x="127.9" y="593.5">80.0</text>
<text class="ky" x="127.9" y="654.8">90.0</text>
<text class="k" x="168.2" y="815.9">0.0</text>
<text class="k" x="304.1" y="815.9">0.2</text>
<text class="k" x="440.0" y="815.9">0.4</text>
<text class="k" x="575.9" y="815.9">0.6</text>
<text class="k" x="711.8" y="815.9">0.8</text>
<text class="k" x="847.7" y="815.9">1.0</text>
<text class="k2" x="1030.5" y="817.7">0.000</text>
<text class="k2" x="1144.7" y="817.7">0.001</text>
<text class="k2" x="1258.9" y="817.7">0.002</text>
<text class="k2" x="1373.0" y="817.7">0.003</text>
<text class="k2" x="1487.2" y="817.7">0.004</text>
<text class="k2" x="1601.4" y="817.7">0.005</text>
<text class="k2" x="1715.6" y="817.7">0.006</text>
<path d="M139.2 644.0v5.6M1018.4 644.9v5.6M254.7 644.0v5.6M1134.5 644.9v5.6M370.2 644.0v5.6M1250.7 644.9v5.6M485.7 644.0v5.6M1366.8 644.9v5.6M601.2 644.0v5.6M1483.0 644.9v5.6M716.7 644.0v5.6M1599.1 644.9v5.6M832.2 644.0v5.6M1715.3 644.9v5.6M138.9 92.4h-5.6M1018.1 90.4h-5.6M138.9 153.7h-5.6M1018.1 152.0h-5.6M138.9 215.0h-5.6M1018.1 213.7h-5.6M138.9 276.3h-5.6M1018.1 275.3h-5.6M138.9 337.6h-5.6M1018.1 337.0h-5.6M138.9 398.9h-5.6M1018.1 398.6h-5.6M138.9 460.2h-5.6M1018.1 460.3h-5.6M138.9 521.5h-5.6M1018.1 521.9h-5.6M138.9 582.8h-5.6M1018.1 583.6h-5.6M138.9 644.1h-5.6M1018.1 645.2h-5.6M168.0 785v5.6M303.9 785v5.6M439.8 785v5.6M575.7 785v5.6M711.6 785v5.6M847.5 785v5.6M1030.4 787.3v5.6M1144.6 787.3v5.6M1258.8 787.3v5.6M1372.9 787.3v5.6M1487.1 787.3v5.6M1601.3 787.3v5.6M1715.5 787.3v5.6" stroke="#000" stroke-width="1.1" fill="none"/>
<text class="t" x="484.2" y="45.3">Transmission of the MLTF</text>
<text class="t" x="484.2" y="83.6">over wavelength and angle</text>
<text class="t2" x="1366.9" y="42.5">Effective spectrum irradiating the MLTF</text>
<text class="t2" x="1365.8" y="82.2">over wavelength and angle</text>
<text class="l" x="485.3" y="710" style="font-size:27.9px">Wavelength [nm]</text>
<text class="l2" x="1366.8" y="712">Wavelength [nm]</text>
<text class="l" x="507.8" y="849.8">Transmission [1]</text>
<text class="l2" x="1373.1" y="853">Relative power [W/nm]</text>
<text class="la" transform="translate(47 369.4) rotate(-90)">Angle [°]</text>
<text class="c" x="479.8" y="906">(a) Transmission</text>
<text class="c" x="1370.3" y="906">(b) Ray ping pong</text>
</svg>
</body>
</html>
